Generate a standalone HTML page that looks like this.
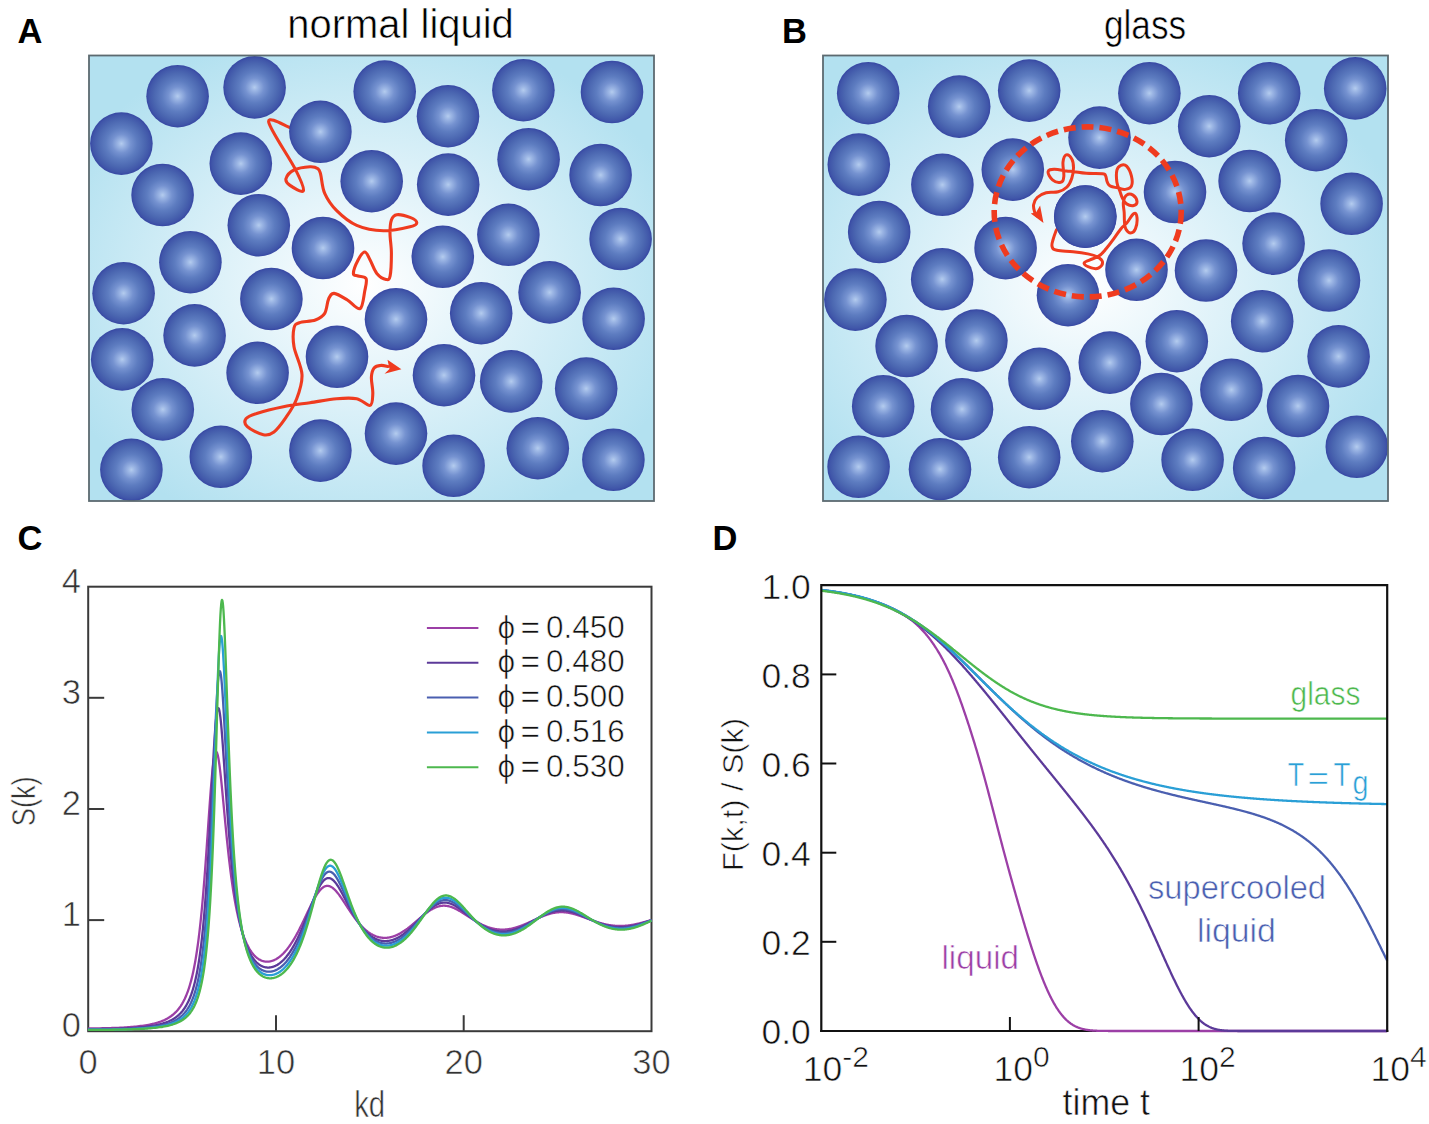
<!DOCTYPE html>
<html><head><meta charset="utf-8"><style>
html,body{margin:0;padding:0;background:#fff;}
body{width:1429px;height:1124px;overflow:hidden;font-family:"Liberation Sans",sans-serif;}
svg{display:block;}
text{stroke:#fff;stroke-width:0.6px;}
text[font-weight]{stroke:none;}
</style></head><body>
<svg width="1429" height="1124" viewBox="0 0 1429 1124" font-family="Liberation Sans, sans-serif">
<defs>
<radialGradient id="ball" cx="0.5" cy="0.5" r="0.5">
 <stop offset="0" stop-color="#b4ccee"/>
 <stop offset="0.1" stop-color="#9db7e5"/>
 <stop offset="0.3" stop-color="#7592d0"/>
 <stop offset="0.5" stop-color="#5d7cc0"/>
 <stop offset="0.75" stop-color="#4b67b1"/>
 <stop offset="0.92" stop-color="#4056a9"/>
 <stop offset="1" stop-color="#3747a3"/>
</radialGradient>
<radialGradient id="bgA" gradientUnits="userSpaceOnUse" cx="365" cy="285" r="330" gradientTransform="translate(365 285) scale(1 0.8) translate(-365 -285)">
 <stop offset="0" stop-color="#ffffff"/>
 <stop offset="0.35" stop-color="#e4f4fa"/>
 <stop offset="1" stop-color="#b3e1f0"/>
</radialGradient>
<radialGradient id="bgB" gradientUnits="userSpaceOnUse" cx="1085" cy="285" r="330" gradientTransform="translate(1085 285) scale(1 0.8) translate(-1085 -285)">
 <stop offset="0" stop-color="#ffffff"/>
 <stop offset="0.35" stop-color="#e4f4fa"/>
 <stop offset="1" stop-color="#b3e1f0"/>
</radialGradient>
<clipPath id="clipA"><rect x="89" y="55.5" width="565" height="445.5"/></clipPath>
<clipPath id="clipB"><rect x="823" y="55.5" width="565" height="445.5"/></clipPath>
</defs>
<rect width="1429" height="1124" fill="#fff"/>

<rect x="89" y="55.5" width="565" height="445.5" fill="url(#bgA)"/>
<g clip-path="url(#clipA)">
<path d="M289.4,127.4 C285.9,126.5 267.7,115.0 268.7,122.0 C269.7,129.0 289.6,158.0 295.4,169.4 C301.2,180.8 304.3,188.0 303.4,190.7 C302.5,193.4 292.9,187.4 290.0,185.4 C287.1,183.4 285.3,181.3 286.0,178.7 C286.7,176.1 290.0,172.0 294.0,170.0 C298.0,168.0 306.0,166.9 310.0,166.7 C314.0,166.5 316.2,167.4 318.0,168.7 C319.8,170.0 319.6,170.6 320.7,174.7 C321.8,178.8 322.0,187.4 324.7,193.4 C327.4,199.4 331.4,205.4 336.7,210.7 C342.0,216.0 348.9,222.1 356.7,225.4 C364.5,228.8 374.5,230.6 383.4,230.8 C392.3,231.0 404.4,228.2 410.0,226.8 C415.6,225.5 416.8,224.3 416.8,222.7 C416.8,221.1 413.3,218.7 410.0,217.4 C406.7,216.1 399.9,214.3 396.8,214.7 C393.7,215.1 392.5,216.9 391.4,220.0 C390.3,223.1 390.0,227.8 390.0,233.4 C390.0,239.0 391.4,246.2 391.4,253.3 C391.4,260.4 391.0,271.6 390.1,276.0 C389.2,280.4 388.3,279.8 386.1,279.4 C383.9,279.0 379.5,276.6 376.8,273.4 C374.1,270.2 372.1,263.6 370.1,260.0 C368.1,256.4 366.8,252.0 364.8,252.0 C362.8,252.0 360.0,256.4 358.1,260.0 C356.2,263.6 353.4,270.7 353.4,273.4 C353.4,276.1 356.0,275.1 358.1,276.0 C360.2,276.9 365.0,276.2 366.1,278.7 C367.2,281.1 365.8,285.7 364.8,290.7 C363.8,295.7 363.0,307.1 360.1,308.7 C357.2,310.2 351.7,302.6 347.4,300.0 C343.1,297.4 337.2,293.6 334.1,293.4 C331.0,293.2 330.3,295.4 328.7,298.7 C327.1,302.0 326.9,309.8 324.7,313.4 C322.5,316.9 319.6,318.4 315.4,320.0 C311.2,321.6 303.0,321.4 299.4,322.7 C295.8,324.0 294.9,324.0 294.0,328.0 C293.1,332.0 292.7,338.9 294.0,346.7 C295.3,354.5 301.6,366.0 302.0,374.7 C302.4,383.4 299.4,391.6 296.7,398.7 C294.0,405.8 289.8,411.8 286.0,417.4 C282.2,422.9 277.8,429.1 274.0,432.0 C270.2,434.9 267.8,435.6 263.4,434.7 C258.9,433.8 250.2,429.4 247.3,426.7 C244.4,424.0 244.4,420.9 246.0,418.7 C247.6,416.5 250.5,415.4 256.7,413.4 C262.9,411.4 274.5,408.5 283.4,406.7 C292.3,404.9 301.1,404.0 310.0,402.7 C318.9,401.4 328.9,399.4 336.7,398.7 C344.5,398.0 351.1,397.6 356.7,398.7 C362.3,399.8 367.4,406.3 370.1,405.4 C372.8,404.5 372.6,398.1 372.8,393.4 C373.0,388.7 371.2,381.6 371.4,377.4 C371.6,373.2 372.5,370.0 374.1,368.0 C375.7,366.0 378.5,365.6 380.8,365.4 C383.1,365.1 386.8,366.3 388.0,366.5" fill="none" stroke="#ef3b1f" stroke-width="3.1" stroke-linejoin="round" stroke-linecap="round"/>
<polygon points="401.4,369.3 387.5,359.8 389.5,369 384.5,373.8" fill="#ef3b1f"/>
<circle cx="177.6" cy="96.2" r="31.3" fill="url(#ball)"/>
<circle cx="254.6" cy="87.4" r="31.3" fill="url(#ball)"/>
<circle cx="121.4" cy="143.6" r="31.3" fill="url(#ball)"/>
<circle cx="162.6" cy="195" r="31.3" fill="url(#ball)"/>
<circle cx="240.8" cy="163.6" r="31.3" fill="url(#ball)"/>
<circle cx="320.4" cy="131.8" r="31.3" fill="url(#ball)"/>
<circle cx="258.8" cy="225.2" r="31.3" fill="url(#ball)"/>
<circle cx="323" cy="248" r="31.3" fill="url(#ball)"/>
<circle cx="190.4" cy="262.2" r="31.3" fill="url(#ball)"/>
<circle cx="384.7" cy="91.6" r="31.3" fill="url(#ball)"/>
<circle cx="448" cy="116.2" r="31.3" fill="url(#ball)"/>
<circle cx="523.4" cy="90.2" r="31.3" fill="url(#ball)"/>
<circle cx="612" cy="92" r="31.3" fill="url(#ball)"/>
<circle cx="371.7" cy="181.2" r="31.3" fill="url(#ball)"/>
<circle cx="448.2" cy="184.6" r="31.3" fill="url(#ball)"/>
<circle cx="528.6" cy="159.2" r="31.3" fill="url(#ball)"/>
<circle cx="600.6" cy="175" r="31.3" fill="url(#ball)"/>
<circle cx="442.8" cy="256.8" r="31.3" fill="url(#ball)"/>
<circle cx="508.4" cy="234.8" r="31.3" fill="url(#ball)"/>
<circle cx="620.6" cy="239" r="31.3" fill="url(#ball)"/>
<circle cx="549.6" cy="292.4" r="31.3" fill="url(#ball)"/>
<circle cx="123.6" cy="293.2" r="31.3" fill="url(#ball)"/>
<circle cx="271.4" cy="299" r="31.3" fill="url(#ball)"/>
<circle cx="194.6" cy="335.4" r="31.3" fill="url(#ball)"/>
<circle cx="122.2" cy="359.4" r="31.3" fill="url(#ball)"/>
<circle cx="257.6" cy="372.8" r="31.3" fill="url(#ball)"/>
<circle cx="337" cy="356.8" r="31.3" fill="url(#ball)"/>
<circle cx="162.8" cy="409.4" r="31.3" fill="url(#ball)"/>
<circle cx="131.4" cy="469.8" r="31.3" fill="url(#ball)"/>
<circle cx="220.8" cy="456.8" r="31.3" fill="url(#ball)"/>
<circle cx="320.4" cy="450.6" r="31.3" fill="url(#ball)"/>
<circle cx="396" cy="319.2" r="31.3" fill="url(#ball)"/>
<circle cx="481.2" cy="313.2" r="31.3" fill="url(#ball)"/>
<circle cx="613.6" cy="318.8" r="31.3" fill="url(#ball)"/>
<circle cx="444" cy="375.2" r="31.3" fill="url(#ball)"/>
<circle cx="511.2" cy="381.4" r="31.3" fill="url(#ball)"/>
<circle cx="586.2" cy="388.6" r="31.3" fill="url(#ball)"/>
<circle cx="396" cy="433.6" r="31.3" fill="url(#ball)"/>
<circle cx="453.6" cy="465.8" r="31.3" fill="url(#ball)"/>
<circle cx="537.8" cy="448.2" r="31.3" fill="url(#ball)"/>
<circle cx="613.4" cy="459.8" r="31.3" fill="url(#ball)"/>
</g>
<rect x="89" y="55.5" width="565" height="445.5" fill="none" stroke="#5c6a70" stroke-width="1.8"/>
<rect x="823" y="55.5" width="565" height="445.5" fill="url(#bgB)"/>
<g clip-path="url(#clipB)">
<circle cx="868.2" cy="93.2" r="31.3" fill="url(#ball)"/>
<circle cx="959.2" cy="106.6" r="31.3" fill="url(#ball)"/>
<circle cx="1029.2" cy="90.6" r="31.3" fill="url(#ball)"/>
<circle cx="1099.5" cy="137.6" r="31.3" fill="url(#ball)"/>
<circle cx="858.8" cy="164.6" r="31.3" fill="url(#ball)"/>
<circle cx="942.4" cy="184.8" r="31.3" fill="url(#ball)"/>
<circle cx="1012.8" cy="169.6" r="31.3" fill="url(#ball)"/>
<circle cx="879.2" cy="232" r="31.3" fill="url(#ball)"/>
<circle cx="1005.6" cy="248.1" r="31.3" fill="url(#ball)"/>
<circle cx="1085.3" cy="216.6" r="31.3" fill="url(#ball)"/>
<circle cx="942.2" cy="279.2" r="31.3" fill="url(#ball)"/>
<circle cx="1149.4" cy="93.2" r="31.3" fill="url(#ball)"/>
<circle cx="1209.2" cy="126.2" r="31.3" fill="url(#ball)"/>
<circle cx="1269.2" cy="93.2" r="31.3" fill="url(#ball)"/>
<circle cx="1355.2" cy="88.4" r="31.3" fill="url(#ball)"/>
<circle cx="1316.2" cy="140.2" r="31.3" fill="url(#ball)"/>
<circle cx="1175" cy="192" r="31.3" fill="url(#ball)"/>
<circle cx="1249.6" cy="181" r="31.3" fill="url(#ball)"/>
<circle cx="1351.6" cy="203.8" r="31.3" fill="url(#ball)"/>
<circle cx="1273.6" cy="243.6" r="31.3" fill="url(#ball)"/>
<circle cx="1136.5" cy="269.8" r="31.3" fill="url(#ball)"/>
<circle cx="1206" cy="270.5" r="31.3" fill="url(#ball)"/>
<circle cx="1329" cy="280.5" r="31.3" fill="url(#ball)"/>
<circle cx="855.4" cy="299.6" r="31.3" fill="url(#ball)"/>
<circle cx="1068" cy="295.2" r="31.3" fill="url(#ball)"/>
<circle cx="906.6" cy="346" r="31.3" fill="url(#ball)"/>
<circle cx="976.4" cy="340.6" r="31.3" fill="url(#ball)"/>
<circle cx="1039.4" cy="378.8" r="31.3" fill="url(#ball)"/>
<circle cx="1109.8" cy="362.6" r="31.3" fill="url(#ball)"/>
<circle cx="883.2" cy="406.2" r="31.3" fill="url(#ball)"/>
<circle cx="962" cy="409.2" r="31.3" fill="url(#ball)"/>
<circle cx="858.6" cy="466.8" r="31.3" fill="url(#ball)"/>
<circle cx="940" cy="469.2" r="31.3" fill="url(#ball)"/>
<circle cx="1029.2" cy="457.2" r="31.3" fill="url(#ball)"/>
<circle cx="1102.3" cy="441.2" r="31.3" fill="url(#ball)"/>
<circle cx="1262.2" cy="321.2" r="31.3" fill="url(#ball)"/>
<circle cx="1176.8" cy="341.2" r="31.3" fill="url(#ball)"/>
<circle cx="1338.6" cy="356.4" r="31.3" fill="url(#ball)"/>
<circle cx="1161.4" cy="404" r="31.3" fill="url(#ball)"/>
<circle cx="1231.4" cy="389.8" r="31.3" fill="url(#ball)"/>
<circle cx="1298" cy="406" r="31.3" fill="url(#ball)"/>
<circle cx="1192.6" cy="459.8" r="31.3" fill="url(#ball)"/>
<circle cx="1264.2" cy="468" r="31.3" fill="url(#ball)"/>
<circle cx="1356.8" cy="446.8" r="31.3" fill="url(#ball)"/>
<path d="M1056.5,229.7 C1055.8,231.6 1054.1,235.8 1053.2,239.2 C1052.3,242.6 1051.4,244.4 1052.1,246.6 C1052.8,248.8 1052.7,249.3 1056.9,250.3 C1061.1,251.3 1066.9,251.0 1073.1,251.7 C1079.3,252.4 1083.0,252.9 1087.8,253.9 C1092.6,254.9 1094.4,255.3 1097.3,256.9 C1100.2,258.5 1102.2,259.8 1102.5,262.0 C1102.8,264.2 1101.0,266.7 1098.8,267.9 C1096.6,269.1 1094.3,268.8 1091.4,267.9 C1088.5,267.0 1084.4,265.1 1084.1,263.5 C1083.8,261.9 1087.1,261.3 1090.0,259.8 C1092.9,258.3 1095.6,258.3 1098.8,256.1 C1102.0,253.9 1103.2,252.2 1106.1,248.8 C1109.0,245.4 1110.6,243.2 1113.5,239.2 C1116.4,235.2 1118.2,232.2 1120.8,229.0 C1123.4,225.8 1124.1,226.2 1126.7,223.1 C1129.3,220.0 1131.7,214.7 1133.8,213.6 C1135.9,212.5 1136.7,214.5 1137.0,217.6 C1137.3,220.7 1136.7,225.8 1135.4,228.9 C1134.1,232.0 1132.5,232.9 1130.6,232.9 C1128.7,232.9 1127.0,231.0 1125.8,228.9 C1124.6,226.8 1124.8,225.6 1124.5,222.4 C1124.2,219.2 1124.4,216.8 1124.2,212.8 C1124.0,208.8 1122.9,205.8 1123.4,202.3 C1123.9,198.8 1124.7,196.5 1126.6,195.1 C1128.5,193.7 1130.9,193.8 1133.0,195.1 C1135.1,196.4 1136.8,199.4 1137.0,201.5 C1137.2,203.6 1135.9,205.0 1133.8,205.5 C1131.7,206.0 1128.9,205.3 1126.6,203.9 C1124.3,202.5 1123.8,200.7 1122.5,198.3 C1121.2,195.9 1121.2,195.0 1120.1,191.8 C1119.0,188.6 1117.5,186.5 1116.9,182.2 C1116.3,177.9 1116.1,173.5 1116.9,170.1 C1117.7,166.7 1119.0,166.1 1120.9,165.3 C1122.8,164.5 1124.5,164.0 1126.6,166.1 C1128.7,168.2 1130.4,171.8 1131.4,175.8 C1132.4,179.8 1132.7,183.5 1131.4,186.2 C1130.1,188.9 1127.7,189.1 1125.0,189.4 C1122.3,189.7 1120.6,188.4 1117.7,187.8 C1114.8,187.2 1112.6,187.3 1110.5,186.2 C1108.4,185.1 1108.3,184.3 1107.3,182.2 C1106.3,180.1 1106.6,177.5 1105.6,175.8 C1104.6,174.1 1106.3,174.2 1102.4,173.7 C1098.5,173.2 1091.9,173.7 1086.3,173.3 C1080.7,172.9 1078.3,172.2 1074.3,171.7 C1070.3,171.2 1070.2,171.4 1066.2,170.9 C1062.2,170.4 1057.7,169.1 1054.1,169.3 C1050.5,169.5 1048.4,169.6 1048.1,171.7 C1047.8,173.8 1050.0,177.7 1052.5,179.8 C1055.0,181.9 1058.3,182.8 1060.6,182.2 C1062.9,181.6 1063.3,180.6 1063.8,176.6 C1064.3,172.6 1062.5,166.5 1063.0,162.1 C1063.5,157.7 1064.4,155.4 1066.2,154.8 C1068.0,154.2 1070.3,156.3 1071.8,158.9 C1073.3,161.5 1073.5,163.8 1073.5,167.7 C1073.5,171.6 1073.1,174.3 1071.8,178.2 C1070.5,182.1 1069.7,184.3 1067.0,187.0 C1064.3,189.7 1062.4,190.7 1058.2,191.8 C1054.0,192.9 1050.3,191.6 1046.1,192.7 C1041.9,193.8 1039.7,195.1 1037.2,197.5 C1034.7,199.9 1034.1,201.7 1033.6,204.7 C1033.1,207.7 1034.1,210.2 1034.8,212.5 C1035.5,214.8 1036.6,215.3 1037.0,216.0" fill="none" stroke="#ef3b1f" stroke-width="3" stroke-linejoin="round" stroke-linecap="round"/>
<polygon points="1043.5,223 1030.8,213.6 1036.2,212.2 1040.1,205.5" fill="#ef3b1f"/>
<circle cx="1085.3" cy="216.6" r="31.3" fill="url(#ball)"/>
<ellipse cx="1087.7" cy="211.9" rx="93.5" ry="85" fill="none" stroke="#ef3b1f" stroke-width="5.6" stroke-dasharray="12 6"/>
</g>
<rect x="823" y="55.5" width="565" height="445.5" fill="none" stroke="#5c6a70" stroke-width="1.8"/>
<text x="17.6" y="42.8" font-size="34.5" font-weight="bold" fill="#000">A</text>
<text x="782" y="42.5" font-size="34.5" font-weight="bold" fill="#000">B</text>
<text x="17.4" y="550.2" font-size="34.5" font-weight="bold" fill="#000">C</text>
<text x="712.6" y="550.2" font-size="34.5" font-weight="bold" fill="#000">D</text>
<text x="287.3" y="38.4" font-size="41" textLength="226.5" lengthAdjust="spacingAndGlyphs" fill="#000">normal liquid</text>
<text x="1103.9" y="38.9" font-size="41" textLength="82.3" lengthAdjust="spacingAndGlyphs" fill="#000">glass</text>
<rect x="88.2" y="586.7" width="563.3" height="444.5" fill="none" stroke="#3a3a3a" stroke-width="2"/>
<line x1="88.2" y1="920.1" x2="104.2" y2="920.1" stroke="#3a3a3a" stroke-width="2"/>
<line x1="88.2" y1="809.0" x2="104.2" y2="809.0" stroke="#3a3a3a" stroke-width="2"/>
<line x1="88.2" y1="697.8" x2="104.2" y2="697.8" stroke="#3a3a3a" stroke-width="2"/>
<line x1="276.0" y1="1031.2" x2="276.0" y2="1015.2" stroke="#3a3a3a" stroke-width="2"/>
<line x1="463.7" y1="1031.2" x2="463.7" y2="1015.2" stroke="#3a3a3a" stroke-width="2"/>
<path d="M88.22,1028.38 L89.81,1028.38 L91.40,1028.38 L92.99,1028.37 L94.58,1028.36 L96.17,1028.35 L97.76,1028.33 L99.36,1028.31 L100.95,1028.29 L102.54,1028.26 L104.13,1028.23 L105.72,1028.19 L107.31,1028.16 L108.90,1028.12 L110.49,1028.07 L112.08,1028.02 L113.67,1027.97 L115.26,1027.91 L116.86,1027.85 L118.45,1027.78 L120.04,1027.70 L121.63,1027.62 L123.22,1027.54 L124.81,1027.44 L126.40,1027.34 L127.99,1027.23 L129.58,1027.12 L131.17,1026.99 L132.76,1026.86 L134.36,1026.71 L135.95,1026.56 L137.54,1026.39 L139.13,1026.21 L140.72,1026.01 L142.31,1025.80 L143.90,1025.57 L145.49,1025.33 L147.08,1025.06 L148.67,1024.77 L150.26,1024.46 L151.86,1024.11 L153.45,1023.74 L155.04,1023.33 L156.63,1022.89 L158.22,1022.40 L159.81,1021.87 L161.40,1021.29 L162.99,1020.64 L164.58,1019.93 L166.17,1019.15 L167.77,1018.28 L169.36,1017.31 L170.95,1016.23 L172.54,1015.03 L174.13,1013.68 L175.72,1012.16 L177.31,1010.45 L178.90,1008.52 L180.49,1006.33 L182.08,1003.83 L182.46,1003.19 L182.85,1002.50 L183.24,1001.79 L183.63,1001.06 L184.02,1000.30 L184.41,999.51 L184.81,998.70 L185.20,997.85 L185.59,996.98 L185.98,996.08 L186.37,995.14 L186.76,994.17 L187.15,993.17 L187.54,992.13 L187.94,991.05 L188.33,989.93 L188.72,988.77 L189.11,987.57 L189.50,986.32 L189.89,985.03 L190.28,983.69 L190.67,982.29 L191.07,980.84 L191.46,979.34 L191.85,977.78 L192.24,976.16 L192.63,974.48 L193.02,972.73 L193.41,970.91 L193.80,969.02 L194.19,967.05 L194.59,965.01 L194.98,962.89 L195.37,960.69 L195.76,958.39 L196.15,956.01 L196.54,953.54 L196.93,950.96 L197.32,948.29 L197.72,945.51 L198.11,942.62 L198.50,939.62 L198.89,936.50 L199.28,933.27 L199.67,929.91 L200.06,926.43 L200.45,922.82 L200.84,919.08 L201.24,915.20 L201.63,911.20 L202.02,907.05 L202.41,902.77 L202.80,898.35 L203.19,893.79 L203.58,889.10 L203.97,884.28 L204.37,879.32 L204.76,874.25 L205.15,869.05 L205.54,863.75 L205.93,858.35 L206.32,852.85 L206.71,847.29 L207.10,841.66 L207.50,835.99 L207.89,830.29 L208.28,824.60 L208.67,818.92 L209.06,813.29 L209.45,807.73 L209.84,802.28 L210.23,796.96 L210.62,791.79 L211.02,786.82 L211.41,782.08 L211.80,777.58 L212.19,773.38 L212.58,769.48 L212.97,765.93 L213.36,762.73 L213.75,759.92 L214.15,757.52 L214.54,755.52 L214.93,753.96 L215.32,752.82 L215.71,752.12 L216.10,751.84 L216.49,751.99 L216.88,752.54 L217.28,753.50 L217.67,754.84 L218.06,756.53 L218.45,758.56 L218.84,760.91 L219.23,763.55 L219.62,766.45 L220.01,769.58 L220.40,772.92 L220.80,776.45 L221.19,780.13 L221.58,783.94 L221.97,787.87 L222.36,791.88 L222.75,795.95 L223.14,800.07 L223.53,804.23 L223.93,808.39 L224.32,812.55 L224.71,816.69 L225.10,820.81 L225.49,824.89 L225.88,828.93 L226.27,832.91 L226.66,836.82 L227.05,840.67 L227.45,844.45 L227.84,848.15 L228.23,851.78 L228.62,855.32 L229.01,858.78 L229.40,862.16 L229.79,865.45 L230.18,868.65 L230.58,871.77 L230.97,874.80 L231.36,877.75 L231.75,880.62 L232.14,883.40 L232.53,886.11 L232.92,888.73 L233.31,891.28 L233.71,893.75 L234.10,896.14 L234.49,898.46 L234.88,900.72 L235.27,902.90 L235.66,905.01 L236.05,907.06 L236.44,909.05 L236.83,910.97 L237.23,912.83 L237.62,914.63 L238.01,916.38 L238.40,918.07 L238.79,919.71 L239.18,921.30 L239.57,922.84 L239.96,924.33 L240.36,925.77 L240.75,927.16 L241.14,928.51 L241.53,929.82 L241.92,931.09 L242.31,932.31 L242.70,933.50 L243.09,934.65 L243.49,935.76 L243.88,936.84 L244.27,937.88 L244.66,938.89 L245.05,939.87 L245.44,940.81 L245.83,941.73 L246.22,942.61 L246.61,943.47 L247.01,944.29 L247.40,945.09 L247.79,945.87 L248.18,946.62 L248.57,947.34 L248.96,948.04 L249.35,948.71 L249.74,949.37 L250.14,950.00 L250.53,950.60 L250.92,951.19 L251.31,951.76 L251.70,952.30 L252.09,952.83 L252.48,953.34 L252.87,953.83 L253.26,954.30 L253.66,954.75 L254.05,955.18 L254.44,955.60 L254.83,956.00 L255.22,956.39 L255.61,956.76 L256.00,957.11 L256.39,957.45 L256.79,957.77 L257.18,958.08 L257.57,958.37 L257.96,958.65 L258.35,958.92 L258.74,959.17 L259.13,959.41 L259.52,959.64 L259.92,959.85 L260.31,960.05 L260.70,960.24 L261.09,960.42 L261.48,960.58 L261.87,960.73 L262.26,960.87 L262.65,961.00 L263.04,961.11 L263.44,961.22 L263.83,961.31 L264.22,961.40 L264.61,961.47 L265.00,961.53 L265.39,961.58 L265.78,961.62 L266.17,961.65 L266.57,961.67 L266.96,961.68 L267.35,961.68 L267.74,961.67 L268.13,961.65 L268.52,961.61 L268.91,961.57 L269.30,961.52 L269.70,961.46 L270.09,961.39 L270.48,961.31 L270.87,961.22 L271.26,961.12 L271.65,961.01 L272.04,960.89 L272.43,960.77 L272.82,960.63 L273.22,960.48 L273.61,960.32 L274.00,960.16 L274.39,959.98 L274.78,959.80 L275.17,959.60 L275.56,959.40 L275.95,959.19 L276.35,958.97 L276.74,958.73 L277.13,958.49 L277.52,958.24 L277.91,957.98 L278.30,957.71 L278.69,957.44 L279.08,957.15 L279.47,956.85 L279.87,956.54 L280.26,956.23 L280.65,955.90 L281.04,955.57 L281.43,955.22 L281.82,954.87 L282.21,954.50 L282.60,954.13 L283.00,953.75 L283.39,953.36 L283.78,952.96 L284.17,952.54 L284.56,952.12 L284.95,951.69 L285.34,951.25 L285.73,950.80 L286.13,950.34 L286.52,949.87 L286.91,949.40 L287.30,948.91 L287.69,948.41 L288.08,947.90 L288.47,947.38 L288.86,946.86 L289.25,946.32 L289.65,945.77 L290.04,945.22 L290.43,944.65 L290.82,944.08 L291.21,943.49 L291.60,942.90 L291.99,942.30 L292.38,941.68 L292.78,941.06 L293.17,940.43 L293.56,939.79 L293.95,939.14 L294.34,938.48 L294.73,937.81 L295.12,937.14 L295.51,936.45 L295.91,935.76 L296.30,935.06 L296.69,934.35 L297.08,933.63 L297.47,932.90 L297.86,932.17 L298.25,931.43 L298.64,930.68 L299.03,929.93 L299.43,929.16 L299.82,928.39 L300.21,927.62 L300.60,926.84 L300.99,926.05 L301.38,925.25 L301.77,924.46 L302.16,923.65 L302.56,922.84 L302.95,922.03 L303.34,921.22 L303.73,920.40 L304.12,919.57 L304.51,918.75 L304.90,917.92 L305.29,917.09 L305.68,916.26 L306.08,915.43 L306.47,914.60 L306.86,913.77 L307.25,912.94 L307.64,912.11 L308.03,911.28 L308.42,910.45 L308.81,909.63 L309.21,908.81 L309.60,908.00 L309.99,907.19 L310.38,906.39 L310.77,905.59 L311.16,904.80 L311.55,904.02 L311.94,903.24 L312.34,902.48 L312.73,901.72 L313.12,900.98 L313.51,900.24 L313.90,899.52 L314.29,898.81 L314.68,898.11 L315.07,897.42 L315.46,896.75 L315.86,896.10 L316.25,895.46 L316.64,894.83 L317.03,894.22 L317.42,893.64 L317.81,893.06 L318.20,892.51 L318.59,891.98 L318.99,891.46 L319.38,890.97 L319.77,890.50 L320.16,890.04 L320.55,889.61 L320.94,889.20 L321.33,888.82 L321.72,888.46 L322.11,888.12 L322.51,887.80 L322.90,887.51 L323.29,887.24 L323.68,886.99 L324.07,886.77 L324.46,886.57 L324.85,886.40 L325.24,886.26 L325.64,886.13 L326.03,886.03 L326.42,885.96 L326.81,885.91 L327.20,885.89 L327.59,885.88 L327.98,885.91 L328.37,885.95 L328.77,886.02 L329.16,886.12 L329.55,886.23 L329.94,886.37 L330.33,886.53 L330.72,886.71 L331.11,886.92 L331.50,887.14 L331.89,887.39 L332.29,887.65 L332.68,887.93 L333.07,888.24 L333.46,888.56 L333.85,888.90 L334.24,889.25 L334.63,889.63 L335.02,890.02 L335.42,890.42 L335.81,890.84 L336.20,891.27 L336.59,891.72 L336.98,892.18 L337.37,892.66 L337.76,893.14 L338.15,893.64 L338.55,894.14 L338.94,894.66 L339.33,895.19 L339.72,895.72 L340.11,896.26 L340.50,896.81 L340.89,897.37 L341.28,897.94 L341.67,898.51 L342.07,899.08 L342.46,899.66 L342.85,900.25 L343.24,900.84 L343.63,901.43 L344.02,902.02 L344.41,902.62 L344.80,903.22 L345.20,903.82 L345.59,904.42 L345.98,905.02 L346.37,905.62 L346.76,906.22 L347.15,906.83 L347.54,907.43 L347.93,908.02 L348.32,908.62 L348.72,909.22 L349.11,909.81 L349.50,910.40 L349.89,910.99 L350.28,911.57 L350.67,912.15 L351.06,912.73 L351.45,913.30 L351.85,913.87 L352.24,914.43 L352.63,914.99 L353.02,915.54 L353.41,916.09 L353.80,916.63 L354.19,917.17 L354.58,917.70 L354.98,918.23 L355.37,918.75 L355.76,919.27 L356.15,919.78 L356.54,920.28 L356.93,920.77 L357.32,921.26 L357.71,921.75 L358.10,922.22 L358.50,922.69 L358.89,923.15 L359.28,923.61 L359.67,924.06 L360.06,924.50 L360.45,924.94 L360.84,925.36 L361.23,925.78 L361.63,926.20 L362.02,926.60 L362.41,927.00 L362.80,927.39 L363.19,927.78 L363.58,928.15 L363.97,928.52 L364.36,928.88 L364.76,929.24 L365.15,929.59 L365.54,929.93 L365.93,930.26 L366.32,930.58 L366.71,930.90 L367.10,931.21 L367.49,931.51 L367.88,931.81 L368.28,932.10 L368.67,932.38 L369.06,932.65 L369.45,932.92 L369.84,933.18 L370.23,933.43 L370.62,933.67 L371.01,933.91 L371.41,934.14 L371.80,934.36 L372.19,934.58 L372.58,934.79 L372.97,934.99 L373.36,935.18 L373.75,935.37 L374.14,935.55 L374.53,935.72 L374.93,935.89 L375.32,936.05 L375.71,936.20 L376.10,936.35 L376.49,936.49 L376.88,936.62 L377.27,936.74 L377.66,936.86 L378.06,936.97 L378.45,937.08 L378.84,937.18 L379.23,937.27 L379.62,937.35 L380.01,937.43 L380.40,937.50 L380.79,937.57 L381.19,937.63 L381.58,937.68 L381.97,937.72 L382.36,937.76 L382.75,937.80 L383.14,937.82 L383.53,937.84 L383.92,937.86 L384.31,937.87 L384.71,937.87 L385.10,937.86 L385.49,937.85 L385.88,937.84 L386.27,937.81 L386.66,937.78 L387.05,937.75 L387.44,937.71 L387.84,937.66 L388.23,937.61 L388.62,937.55 L389.01,937.49 L389.40,937.42 L389.79,937.34 L390.18,937.26 L390.57,937.17 L390.97,937.08 L391.36,936.98 L391.75,936.87 L392.14,936.76 L392.53,936.65 L392.92,936.53 L393.31,936.40 L393.70,936.27 L394.09,936.13 L394.49,935.99 L394.88,935.84 L395.27,935.68 L395.66,935.53 L396.05,935.36 L396.44,935.19 L396.83,935.02 L397.22,934.84 L397.62,934.65 L398.01,934.46 L398.40,934.27 L398.79,934.07 L399.18,933.87 L399.57,933.66 L399.96,933.45 L400.35,933.23 L400.74,933.01 L401.14,932.78 L401.53,932.55 L401.92,932.31 L402.31,932.07 L402.70,931.83 L403.09,931.58 L403.48,931.32 L403.87,931.07 L404.27,930.81 L404.66,930.54 L405.05,930.27 L405.44,930.00 L405.83,929.72 L406.22,929.45 L406.61,929.16 L407.00,928.88 L407.40,928.59 L407.79,928.29 L408.18,928.00 L408.57,927.70 L408.96,927.39 L409.35,927.09 L409.74,926.78 L410.13,926.47 L410.52,926.16 L410.92,925.84 L411.31,925.53 L411.70,925.21 L412.09,924.88 L412.48,924.56 L412.87,924.23 L413.26,923.91 L413.65,923.58 L414.05,923.25 L414.44,922.92 L414.83,922.58 L415.22,922.25 L415.61,921.91 L416.00,921.58 L416.39,921.24 L416.78,920.91 L417.18,920.57 L417.57,920.23 L417.96,919.90 L418.35,919.56 L418.74,919.22 L419.13,918.89 L419.52,918.55 L419.91,918.22 L420.30,917.89 L420.70,917.55 L421.09,917.22 L421.48,916.89 L421.87,916.57 L422.26,916.24 L422.65,915.92 L423.04,915.59 L423.43,915.27 L423.83,914.96 L424.22,914.64 L424.61,914.33 L425.00,914.02 L425.39,913.72 L425.78,913.42 L426.17,913.12 L426.56,912.82 L426.95,912.53 L427.35,912.25 L427.74,911.97 L428.13,911.69 L428.52,911.42 L428.91,911.15 L429.30,910.88 L429.69,910.62 L430.08,910.37 L430.48,910.12 L430.87,909.88 L431.26,909.64 L431.65,909.41 L432.04,909.19 L432.43,908.97 L432.82,908.76 L433.21,908.55 L433.61,908.35 L434.00,908.16 L434.39,907.97 L434.78,907.79 L435.17,907.62 L435.56,907.45 L435.95,907.29 L436.34,907.14 L436.73,907.00 L437.13,906.86 L437.52,906.73 L437.91,906.61 L438.30,906.49 L438.69,906.39 L439.08,906.29 L439.47,906.20 L439.86,906.11 L440.26,906.04 L440.65,905.97 L441.04,905.91 L441.43,905.85 L441.82,905.81 L442.21,905.77 L442.60,905.74 L442.99,905.72 L443.39,905.71 L443.78,905.70 L444.17,905.70 L444.56,905.71 L444.95,905.73 L445.34,905.76 L445.73,905.79 L446.12,905.83 L446.51,905.88 L446.91,905.93 L447.30,905.99 L447.69,906.06 L448.08,906.14 L448.47,906.22 L448.86,906.31 L449.25,906.41 L449.64,906.51 L450.04,906.62 L450.43,906.74 L450.82,906.86 L451.21,906.99 L451.60,907.12 L451.99,907.26 L452.38,907.41 L452.77,907.56 L453.16,907.72 L453.56,907.88 L453.95,908.05 L454.34,908.23 L454.73,908.41 L455.12,908.59 L455.51,908.78 L455.90,908.97 L456.29,909.17 L456.69,909.37 L457.08,909.57 L457.47,909.78 L457.86,910.00 L458.25,910.21 L458.64,910.43 L459.03,910.66 L459.42,910.88 L459.82,911.11 L460.21,911.34 L460.60,911.58 L460.99,911.82 L461.38,912.06 L461.77,912.30 L462.16,912.54 L462.55,912.79 L462.94,913.04 L463.34,913.29 L463.73,913.54 L464.12,913.79 L464.51,914.04 L464.90,914.29 L465.29,914.55 L465.68,914.81 L466.07,915.06 L466.47,915.32 L466.86,915.57 L467.25,915.83 L467.64,916.09 L468.03,916.35 L468.42,916.60 L468.81,916.86 L469.20,917.12 L469.59,917.37 L469.99,917.63 L470.38,917.88 L470.77,918.13 L471.16,918.38 L471.55,918.64 L471.94,918.89 L472.33,919.13 L472.72,919.38 L473.12,919.63 L473.51,919.87 L473.90,920.11 L474.29,920.35 L474.68,920.59 L475.07,920.83 L475.46,921.06 L475.85,921.30 L476.25,921.53 L476.64,921.75 L477.03,921.98 L477.42,922.20 L477.81,922.42 L478.20,922.64 L478.59,922.86 L478.98,923.07 L479.37,923.28 L479.77,923.49 L480.16,923.69 L480.55,923.89 L480.94,924.09 L481.33,924.29 L481.72,924.48 L482.11,924.67 L482.50,924.86 L482.90,925.04 L483.29,925.22 L483.68,925.40 L484.07,925.57 L484.46,925.74 L484.85,925.91 L485.24,926.07 L485.63,926.23 L486.03,926.39 L486.42,926.54 L486.81,926.69 L487.20,926.83 L487.59,926.98 L487.98,927.12 L488.37,927.25 L488.76,927.38 L489.15,927.51 L489.55,927.63 L489.94,927.75 L490.33,927.87 L490.72,927.98 L491.11,928.09 L491.50,928.20 L491.89,928.30 L492.28,928.40 L492.68,928.49 L493.07,928.58 L493.46,928.67 L493.85,928.75 L494.24,928.83 L494.63,928.91 L495.02,928.98 L495.41,929.04 L495.80,929.11 L496.20,929.17 L496.59,929.22 L496.98,929.28 L497.37,929.33 L497.76,929.37 L498.15,929.41 L498.54,929.45 L498.93,929.48 L499.33,929.51 L499.72,929.54 L500.11,929.56 L500.50,929.58 L500.89,929.59 L501.28,929.60 L501.67,929.61 L502.06,929.61 L502.46,929.61 L502.85,929.61 L503.24,929.60 L503.63,929.59 L504.02,929.57 L504.41,929.56 L504.80,929.53 L505.19,929.51 L505.58,929.48 L505.98,929.45 L506.37,929.41 L506.76,929.37 L507.15,929.33 L507.54,929.28 L507.93,929.23 L508.32,929.18 L508.71,929.12 L509.11,929.06 L509.50,928.99 L509.89,928.93 L510.28,928.86 L510.67,928.78 L511.06,928.71 L511.45,928.63 L511.84,928.54 L512.24,928.46 L512.63,928.37 L513.02,928.28 L513.41,928.18 L513.80,928.08 L514.19,927.98 L514.58,927.88 L514.97,927.77 L515.36,927.66 L515.76,927.55 L516.15,927.43 L516.54,927.31 L516.93,927.19 L517.32,927.07 L517.71,926.94 L518.10,926.81 L518.49,926.68 L518.89,926.55 L519.28,926.41 L519.67,926.27 L520.06,926.13 L520.45,925.99 L520.84,925.84 L521.23,925.70 L521.62,925.55 L522.01,925.40 L522.41,925.24 L522.80,925.09 L523.19,924.93 L523.58,924.77 L523.97,924.61 L524.36,924.45 L524.75,924.29 L525.14,924.12 L525.54,923.95 L525.93,923.78 L526.32,923.61 L526.71,923.44 L527.10,923.27 L527.49,923.10 L527.88,922.92 L528.27,922.75 L528.67,922.57 L529.06,922.39 L529.45,922.22 L529.84,922.04 L530.23,921.86 L530.62,921.68 L531.01,921.50 L531.40,921.32 L531.79,921.13 L532.19,920.95 L532.58,920.77 L532.97,920.59 L533.36,920.41 L533.75,920.23 L534.14,920.04 L534.53,919.86 L534.92,919.68 L535.32,919.50 L535.71,919.32 L536.10,919.14 L536.49,918.96 L536.88,918.78 L537.27,918.60 L537.66,918.43 L538.05,918.25 L538.45,918.08 L538.84,917.90 L539.23,917.73 L539.62,917.56 L540.01,917.39 L540.40,917.22 L540.79,917.05 L541.18,916.89 L541.57,916.72 L541.97,916.56 L542.36,916.40 L542.75,916.24 L543.14,916.09 L543.53,915.93 L543.92,915.78 L544.31,915.63 L544.70,915.49 L545.10,915.34 L545.49,915.20 L545.88,915.06 L546.27,914.92 L546.66,914.79 L547.05,914.65 L547.44,914.53 L547.83,914.40 L548.22,914.28 L548.62,914.16 L549.01,914.04 L549.40,913.92 L549.79,913.81 L550.18,913.71 L550.57,913.60 L550.96,913.50 L551.35,913.40 L551.75,913.31 L552.14,913.22 L552.53,913.13 L552.92,913.05 L553.31,912.97 L553.70,912.89 L554.09,912.82 L554.48,912.75 L554.88,912.68 L555.27,912.62 L555.66,912.56 L556.05,912.51 L556.44,912.46 L556.83,912.41 L557.22,912.37 L557.61,912.33 L558.00,912.30 L558.40,912.27 L558.79,912.24 L559.18,912.22 L559.57,912.20 L559.96,912.18 L560.35,912.17 L560.74,912.16 L561.13,912.16 L561.53,912.16 L561.92,912.16 L562.31,912.17 L562.70,912.18 L563.09,912.20 L563.48,912.22 L563.87,912.24 L564.26,912.27 L564.66,912.30 L565.05,912.33 L565.44,912.37 L565.83,912.41 L566.22,912.46 L566.61,912.51 L567.00,912.56 L567.39,912.62 L567.78,912.67 L568.18,912.74 L568.57,912.80 L568.96,912.87 L569.35,912.94 L569.74,913.02 L570.13,913.10 L570.52,913.18 L570.91,913.26 L571.31,913.35 L571.70,913.44 L572.09,913.53 L572.48,913.63 L572.87,913.73 L573.26,913.83 L573.65,913.93 L574.04,914.03 L574.43,914.14 L574.83,914.25 L575.22,914.37 L575.61,914.48 L576.00,914.60 L576.39,914.72 L576.78,914.84 L577.17,914.96 L577.56,915.08 L577.96,915.21 L578.35,915.34 L578.74,915.47 L579.13,915.60 L579.52,915.73 L579.91,915.86 L580.30,916.00 L580.69,916.14 L581.09,916.27 L581.48,916.41 L581.87,916.55 L582.26,916.69 L582.65,916.83 L583.04,916.97 L583.43,917.12 L583.82,917.26 L584.21,917.40 L584.61,917.55 L585.00,917.69 L585.39,917.84 L585.78,917.98 L586.17,918.13 L586.56,918.27 L586.95,918.42 L587.34,918.57 L587.74,918.71 L588.13,918.86 L588.52,919.00 L588.91,919.15 L589.30,919.29 L589.69,919.44 L590.08,919.58 L590.47,919.72 L590.86,919.87 L591.26,920.01 L591.65,920.15 L592.04,920.29 L592.43,920.43 L592.82,920.57 L593.21,920.71 L593.60,920.85 L593.99,920.98 L594.39,921.12 L594.78,921.25 L595.17,921.39 L595.56,921.52 L595.95,921.65 L596.34,921.78 L596.73,921.90 L597.12,922.03 L597.52,922.16 L597.91,922.28 L598.30,922.40 L598.69,922.52 L599.08,922.64 L599.47,922.76 L599.86,922.87 L600.25,922.99 L600.64,923.10 L601.04,923.21 L601.43,923.32 L601.82,923.42 L602.21,923.53 L602.60,923.63 L602.99,923.73 L603.38,923.83 L603.77,923.93 L604.17,924.02 L604.56,924.12 L604.95,924.21 L605.34,924.30 L605.73,924.38 L606.12,924.47 L606.51,924.55 L606.90,924.63 L607.30,924.71 L607.69,924.78 L608.08,924.86 L608.47,924.93 L608.86,925.00 L609.25,925.06 L609.64,925.13 L610.03,925.19 L610.42,925.25 L610.82,925.31 L611.21,925.36 L611.60,925.41 L611.99,925.46 L612.38,925.51 L612.77,925.56 L613.16,925.60 L613.55,925.64 L613.95,925.68 L614.34,925.72 L614.73,925.75 L615.12,925.78 L615.51,925.81 L615.90,925.83 L616.29,925.86 L616.68,925.88 L617.07,925.90 L617.47,925.92 L617.86,925.93 L618.25,925.94 L618.64,925.95 L619.03,925.96 L619.42,925.96 L619.81,925.96 L620.20,925.96 L620.60,925.96 L620.99,925.96 L621.38,925.95 L621.77,925.94 L622.16,925.93 L622.55,925.91 L622.94,925.90 L623.33,925.88 L623.73,925.86 L624.12,925.83 L624.51,925.81 L624.90,925.78 L625.29,925.75 L625.68,925.72 L626.07,925.68 L626.46,925.64 L626.85,925.61 L627.25,925.56 L627.64,925.52 L628.03,925.48 L628.42,925.43 L628.81,925.38 L629.20,925.33 L629.59,925.27 L629.98,925.22 L630.38,925.16 L630.77,925.10 L631.16,925.04 L631.55,924.97 L631.94,924.91 L632.33,924.84 L632.72,924.77 L633.11,924.70 L633.51,924.63 L633.90,924.55 L634.29,924.48 L634.68,924.40 L635.07,924.32 L635.46,924.24 L635.85,924.16 L636.24,924.07 L636.63,923.99 L637.03,923.90 L637.42,923.81 L637.81,923.72 L638.20,923.63 L638.59,923.53 L638.98,923.44 L639.37,923.34 L639.76,923.25 L640.16,923.15 L640.55,923.05 L640.94,922.95 L641.33,922.85 L641.72,922.75 L642.11,922.64 L642.50,922.54 L642.89,922.43 L643.28,922.33 L643.68,922.22 L644.07,922.11 L644.46,922.01 L644.85,921.90 L645.24,921.79 L645.63,921.68 L646.02,921.57 L646.41,921.46 L646.81,921.34 L647.20,921.23 L647.59,921.12 L647.98,921.01 L648.37,920.89 L648.76,920.78 L649.15,920.67 L649.54,920.55 L649.94,920.44 L650.33,920.33 L650.72,920.21 L651.11,920.10 L651.50,919.99" fill="none" stroke="#9c3fa6" stroke-width="2.3" stroke-linejoin="round"/>
<path d="M88.22,1029.08 L89.81,1029.08 L91.40,1029.08 L92.99,1029.07 L94.58,1029.07 L96.17,1029.06 L97.76,1029.04 L99.36,1029.03 L100.95,1029.01 L102.54,1028.99 L104.13,1028.97 L105.72,1028.95 L107.31,1028.92 L108.90,1028.89 L110.49,1028.85 L112.08,1028.82 L113.67,1028.78 L115.26,1028.73 L116.86,1028.69 L118.45,1028.64 L120.04,1028.58 L121.63,1028.52 L123.22,1028.46 L124.81,1028.39 L126.40,1028.32 L127.99,1028.24 L129.58,1028.15 L131.17,1028.06 L132.76,1027.96 L134.36,1027.86 L135.95,1027.74 L137.54,1027.62 L139.13,1027.49 L140.72,1027.35 L142.31,1027.19 L143.90,1027.03 L145.49,1026.85 L147.08,1026.65 L148.67,1026.44 L150.26,1026.21 L151.86,1025.96 L153.45,1025.69 L155.04,1025.40 L156.63,1025.08 L158.22,1024.73 L159.81,1024.34 L161.40,1023.92 L162.99,1023.46 L164.58,1022.95 L166.17,1022.38 L167.77,1021.76 L169.36,1021.07 L170.95,1020.29 L172.54,1019.43 L174.13,1018.47 L175.72,1017.39 L177.31,1016.17 L178.90,1014.79 L180.49,1013.23 L182.08,1011.44 L182.46,1010.99 L182.85,1010.50 L183.24,1009.99 L183.63,1009.46 L184.02,1008.92 L184.41,1008.36 L184.81,1007.77 L185.20,1007.17 L185.59,1006.55 L185.98,1005.90 L186.37,1005.23 L186.76,1004.53 L187.15,1003.81 L187.54,1003.07 L187.94,1002.29 L188.33,1001.49 L188.72,1000.65 L189.11,999.78 L189.50,998.88 L189.89,997.94 L190.28,996.97 L190.67,995.96 L191.07,994.91 L191.46,993.81 L191.85,992.67 L192.24,991.49 L192.63,990.25 L193.02,988.97 L193.41,987.63 L193.80,986.23 L194.19,984.78 L194.59,983.26 L194.98,981.67 L195.37,980.02 L195.76,978.30 L196.15,976.50 L196.54,974.62 L196.93,972.66 L197.32,970.60 L197.72,968.46 L198.11,966.22 L198.50,963.88 L198.89,961.43 L199.28,958.87 L199.67,956.19 L200.06,953.39 L200.45,950.46 L200.84,947.39 L201.24,944.19 L201.63,940.83 L202.02,937.32 L202.41,933.65 L202.80,929.81 L203.19,925.80 L203.58,921.61 L203.97,917.23 L204.37,912.65 L204.76,907.88 L205.15,902.90 L205.54,897.71 L205.93,892.31 L206.32,886.69 L206.71,880.85 L207.10,874.80 L207.50,868.53 L207.89,862.05 L208.28,855.36 L208.67,848.47 L209.06,841.40 L209.45,834.15 L209.84,826.76 L210.23,819.23 L210.62,811.60 L211.02,803.90 L211.41,796.17 L211.80,788.44 L212.19,780.77 L212.58,773.20 L212.97,765.78 L213.36,758.57 L213.75,751.62 L214.15,745.01 L214.54,738.78 L214.93,732.99 L215.32,727.70 L215.71,722.96 L216.10,718.82 L216.49,715.31 L216.88,712.47 L217.28,710.32 L217.67,708.86 L218.06,708.11 L218.45,708.06 L218.84,708.68 L219.23,709.97 L219.62,711.89 L220.01,714.39 L220.40,717.44 L220.80,720.99 L221.19,724.99 L221.58,729.39 L221.97,734.14 L222.36,739.18 L222.75,744.47 L223.14,749.97 L223.53,755.61 L223.93,761.37 L224.32,767.20 L224.71,773.08 L225.10,778.97 L225.49,784.84 L225.88,790.66 L226.27,796.43 L226.66,802.12 L227.05,807.71 L227.45,813.19 L227.84,818.56 L228.23,823.80 L228.62,828.91 L229.01,833.88 L229.40,838.72 L229.79,843.41 L230.18,847.96 L230.58,852.37 L230.97,856.64 L231.36,860.77 L231.75,864.76 L232.14,868.61 L232.53,872.34 L232.92,875.93 L233.31,879.40 L233.71,882.75 L234.10,885.98 L234.49,889.09 L234.88,892.10 L235.27,894.99 L235.66,897.78 L236.05,900.47 L236.44,903.06 L236.83,905.56 L237.23,907.97 L237.62,910.29 L238.01,912.53 L238.40,914.69 L238.79,916.77 L239.18,918.77 L239.57,920.71 L239.96,922.57 L240.36,924.37 L240.75,926.11 L241.14,927.78 L241.53,929.39 L241.92,930.95 L242.31,932.45 L242.70,933.90 L243.09,935.30 L243.49,936.65 L243.88,937.95 L244.27,939.20 L244.66,940.42 L245.05,941.58 L245.44,942.71 L245.83,943.80 L246.22,944.86 L246.61,945.87 L247.01,946.85 L247.40,947.80 L247.79,948.71 L248.18,949.59 L248.57,950.44 L248.96,951.26 L249.35,952.05 L249.74,952.81 L250.14,953.55 L250.53,954.26 L250.92,954.94 L251.31,955.60 L251.70,956.24 L252.09,956.85 L252.48,957.44 L252.87,958.00 L253.26,958.55 L253.66,959.08 L254.05,959.58 L254.44,960.07 L254.83,960.53 L255.22,960.98 L255.61,961.41 L256.00,961.82 L256.39,962.22 L256.79,962.59 L257.18,962.96 L257.57,963.30 L257.96,963.63 L258.35,963.95 L258.74,964.24 L259.13,964.53 L259.52,964.80 L259.92,965.06 L260.31,965.30 L260.70,965.53 L261.09,965.74 L261.48,965.94 L261.87,966.13 L262.26,966.31 L262.65,966.47 L263.04,966.62 L263.44,966.76 L263.83,966.89 L264.22,967.01 L264.61,967.11 L265.00,967.21 L265.39,967.29 L265.78,967.36 L266.17,967.42 L266.57,967.47 L266.96,967.50 L267.35,967.53 L267.74,967.55 L268.13,967.55 L268.52,967.55 L268.91,967.54 L269.30,967.51 L269.70,967.48 L270.09,967.43 L270.48,967.37 L270.87,967.31 L271.26,967.23 L271.65,967.15 L272.04,967.05 L272.43,966.95 L272.82,966.83 L273.22,966.71 L273.61,966.57 L274.00,966.43 L274.39,966.27 L274.78,966.11 L275.17,965.94 L275.56,965.75 L275.95,965.56 L276.35,965.36 L276.74,965.14 L277.13,964.92 L277.52,964.69 L277.91,964.44 L278.30,964.19 L278.69,963.93 L279.08,963.66 L279.47,963.37 L279.87,963.08 L280.26,962.78 L280.65,962.47 L281.04,962.14 L281.43,961.81 L281.82,961.47 L282.21,961.11 L282.60,960.75 L283.00,960.37 L283.39,959.99 L283.78,959.59 L284.17,959.19 L284.56,958.77 L284.95,958.34 L285.34,957.90 L285.73,957.45 L286.13,956.99 L286.52,956.52 L286.91,956.04 L287.30,955.55 L287.69,955.04 L288.08,954.53 L288.47,954.00 L288.86,953.46 L289.25,952.91 L289.65,952.35 L290.04,951.78 L290.43,951.20 L290.82,950.60 L291.21,950.00 L291.60,949.38 L291.99,948.75 L292.38,948.11 L292.78,947.45 L293.17,946.79 L293.56,946.11 L293.95,945.42 L294.34,944.72 L294.73,944.01 L295.12,943.28 L295.51,942.55 L295.91,941.80 L296.30,941.04 L296.69,940.27 L297.08,939.49 L297.47,938.70 L297.86,937.89 L298.25,937.08 L298.64,936.25 L299.03,935.41 L299.43,934.57 L299.82,933.71 L300.21,932.84 L300.60,931.96 L300.99,931.07 L301.38,930.17 L301.77,929.26 L302.16,928.34 L302.56,927.41 L302.95,926.48 L303.34,925.53 L303.73,924.58 L304.12,923.62 L304.51,922.65 L304.90,921.67 L305.29,920.69 L305.68,919.70 L306.08,918.71 L306.47,917.71 L306.86,916.71 L307.25,915.70 L307.64,914.70 L308.03,913.68 L308.42,912.67 L308.81,911.65 L309.21,910.64 L309.60,909.62 L309.99,908.61 L310.38,907.59 L310.77,906.58 L311.16,905.57 L311.55,904.57 L311.94,903.57 L312.34,902.58 L312.73,901.59 L313.12,900.61 L313.51,899.64 L313.90,898.68 L314.29,897.73 L314.68,896.79 L315.07,895.86 L315.46,894.95 L315.86,894.05 L316.25,893.17 L316.64,892.30 L317.03,891.45 L317.42,890.62 L317.81,889.81 L318.20,889.02 L318.59,888.25 L318.99,887.50 L319.38,886.77 L319.77,886.07 L320.16,885.40 L320.55,884.75 L320.94,884.12 L321.33,883.53 L321.72,882.96 L322.11,882.42 L322.51,881.90 L322.90,881.42 L323.29,880.97 L323.68,880.55 L324.07,880.16 L324.46,879.81 L324.85,879.48 L325.24,879.19 L325.64,878.93 L326.03,878.70 L326.42,878.51 L326.81,878.35 L327.20,878.22 L327.59,878.12 L327.98,878.06 L328.37,878.03 L328.77,878.04 L329.16,878.07 L329.55,878.14 L329.94,878.24 L330.33,878.37 L330.72,878.53 L331.11,878.72 L331.50,878.94 L331.89,879.18 L332.29,879.46 L332.68,879.77 L333.07,880.10 L333.46,880.45 L333.85,880.84 L334.24,881.25 L334.63,881.68 L335.02,882.13 L335.42,882.61 L335.81,883.11 L336.20,883.63 L336.59,884.16 L336.98,884.72 L337.37,885.29 L337.76,885.89 L338.15,886.49 L338.55,887.11 L338.94,887.75 L339.33,888.40 L339.72,889.06 L340.11,889.74 L340.50,890.42 L340.89,891.12 L341.28,891.82 L341.67,892.53 L342.07,893.25 L342.46,893.97 L342.85,894.71 L343.24,895.44 L343.63,896.18 L344.02,896.93 L344.41,897.67 L344.80,898.42 L345.20,899.18 L345.59,899.93 L345.98,900.68 L346.37,901.44 L346.76,902.19 L347.15,902.94 L347.54,903.69 L347.93,904.44 L348.32,905.18 L348.72,905.92 L349.11,906.66 L349.50,907.40 L349.89,908.13 L350.28,908.85 L350.67,909.57 L351.06,910.29 L351.45,911.00 L351.85,911.70 L352.24,912.40 L352.63,913.09 L353.02,913.78 L353.41,914.45 L353.80,915.12 L354.19,915.79 L354.58,916.44 L354.98,917.09 L355.37,917.73 L355.76,918.36 L356.15,918.99 L356.54,919.60 L356.93,920.21 L357.32,920.81 L357.71,921.40 L358.10,921.98 L358.50,922.55 L358.89,923.11 L359.28,923.67 L359.67,924.21 L360.06,924.75 L360.45,925.28 L360.84,925.80 L361.23,926.31 L361.63,926.81 L362.02,927.30 L362.41,927.78 L362.80,928.26 L363.19,928.72 L363.58,929.17 L363.97,929.62 L364.36,930.06 L364.76,930.48 L365.15,930.90 L365.54,931.31 L365.93,931.71 L366.32,932.10 L366.71,932.49 L367.10,932.86 L367.49,933.23 L367.88,933.58 L368.28,933.93 L368.67,934.27 L369.06,934.60 L369.45,934.92 L369.84,935.23 L370.23,935.53 L370.62,935.83 L371.01,936.11 L371.41,936.39 L371.80,936.66 L372.19,936.92 L372.58,937.17 L372.97,937.42 L373.36,937.65 L373.75,937.88 L374.14,938.10 L374.53,938.31 L374.93,938.51 L375.32,938.71 L375.71,938.90 L376.10,939.07 L376.49,939.25 L376.88,939.41 L377.27,939.56 L377.66,939.71 L378.06,939.85 L378.45,939.98 L378.84,940.11 L379.23,940.23 L379.62,940.33 L380.01,940.44 L380.40,940.53 L380.79,940.62 L381.19,940.70 L381.58,940.77 L381.97,940.83 L382.36,940.89 L382.75,940.94 L383.14,940.98 L383.53,941.02 L383.92,941.05 L384.31,941.07 L384.71,941.08 L385.10,941.09 L385.49,941.09 L385.88,941.09 L386.27,941.07 L386.66,941.05 L387.05,941.02 L387.44,940.99 L387.84,940.95 L388.23,940.90 L388.62,940.85 L389.01,940.79 L389.40,940.72 L389.79,940.64 L390.18,940.56 L390.57,940.48 L390.97,940.38 L391.36,940.28 L391.75,940.17 L392.14,940.06 L392.53,939.94 L392.92,939.81 L393.31,939.68 L393.70,939.54 L394.09,939.40 L394.49,939.25 L394.88,939.09 L395.27,938.92 L395.66,938.75 L396.05,938.58 L396.44,938.40 L396.83,938.21 L397.22,938.01 L397.62,937.81 L398.01,937.61 L398.40,937.40 L398.79,937.18 L399.18,936.96 L399.57,936.73 L399.96,936.49 L400.35,936.25 L400.74,936.01 L401.14,935.75 L401.53,935.50 L401.92,935.24 L402.31,934.97 L402.70,934.69 L403.09,934.42 L403.48,934.13 L403.87,933.85 L404.27,933.55 L404.66,933.25 L405.05,932.95 L405.44,932.64 L405.83,932.33 L406.22,932.01 L406.61,931.69 L407.00,931.36 L407.40,931.03 L407.79,930.70 L408.18,930.36 L408.57,930.02 L408.96,929.67 L409.35,929.32 L409.74,928.96 L410.13,928.60 L410.52,928.24 L410.92,927.87 L411.31,927.50 L411.70,927.13 L412.09,926.76 L412.48,926.38 L412.87,926.00 L413.26,925.61 L413.65,925.22 L414.05,924.84 L414.44,924.44 L414.83,924.05 L415.22,923.65 L415.61,923.26 L416.00,922.86 L416.39,922.46 L416.78,922.06 L417.18,921.65 L417.57,921.25 L417.96,920.84 L418.35,920.44 L418.74,920.03 L419.13,919.63 L419.52,919.22 L419.91,918.81 L420.30,918.41 L420.70,918.00 L421.09,917.60 L421.48,917.19 L421.87,916.79 L422.26,916.39 L422.65,915.99 L423.04,915.59 L423.43,915.20 L423.83,914.80 L424.22,914.41 L424.61,914.03 L425.00,913.64 L425.39,913.26 L425.78,912.88 L426.17,912.50 L426.56,912.13 L426.95,911.77 L427.35,911.40 L427.74,911.04 L428.13,910.69 L428.52,910.34 L428.91,910.00 L429.30,909.66 L429.69,909.33 L430.08,909.00 L430.48,908.68 L430.87,908.36 L431.26,908.06 L431.65,907.75 L432.04,907.46 L432.43,907.17 L432.82,906.89 L433.21,906.62 L433.61,906.35 L434.00,906.10 L434.39,905.85 L434.78,905.61 L435.17,905.37 L435.56,905.15 L435.95,904.93 L436.34,904.72 L436.73,904.53 L437.13,904.34 L437.52,904.16 L437.91,903.99 L438.30,903.82 L438.69,903.67 L439.08,903.53 L439.47,903.40 L439.86,903.27 L440.26,903.16 L440.65,903.05 L441.04,902.96 L441.43,902.88 L441.82,902.80 L442.21,902.74 L442.60,902.68 L442.99,902.64 L443.39,902.60 L443.78,902.58 L444.17,902.57 L444.56,902.56 L444.95,902.57 L445.34,902.58 L445.73,902.60 L446.12,902.64 L446.51,902.68 L446.91,902.73 L447.30,902.80 L447.69,902.87 L448.08,902.95 L448.47,903.04 L448.86,903.14 L449.25,903.25 L449.64,903.36 L450.04,903.49 L450.43,903.62 L450.82,903.76 L451.21,903.91 L451.60,904.07 L451.99,904.23 L452.38,904.40 L452.77,904.58 L453.16,904.77 L453.56,904.97 L453.95,905.17 L454.34,905.37 L454.73,905.59 L455.12,905.81 L455.51,906.04 L455.90,906.27 L456.29,906.50 L456.69,906.75 L457.08,907.00 L457.47,907.25 L457.86,907.51 L458.25,907.77 L458.64,908.04 L459.03,908.31 L459.42,908.59 L459.82,908.86 L460.21,909.15 L460.60,909.43 L460.99,909.72 L461.38,910.02 L461.77,910.31 L462.16,910.61 L462.55,910.91 L462.94,911.21 L463.34,911.51 L463.73,911.82 L464.12,912.13 L464.51,912.44 L464.90,912.75 L465.29,913.06 L465.68,913.37 L466.07,913.68 L466.47,914.00 L466.86,914.31 L467.25,914.62 L467.64,914.94 L468.03,915.25 L468.42,915.56 L468.81,915.88 L469.20,916.19 L469.59,916.50 L469.99,916.81 L470.38,917.12 L470.77,917.43 L471.16,917.74 L471.55,918.04 L471.94,918.35 L472.33,918.65 L472.72,918.95 L473.12,919.25 L473.51,919.54 L473.90,919.84 L474.29,920.13 L474.68,920.42 L475.07,920.71 L475.46,920.99 L475.85,921.27 L476.25,921.55 L476.64,921.83 L477.03,922.10 L477.42,922.38 L477.81,922.64 L478.20,922.91 L478.59,923.17 L478.98,923.43 L479.37,923.68 L479.77,923.93 L480.16,924.18 L480.55,924.43 L480.94,924.67 L481.33,924.90 L481.72,925.14 L482.11,925.37 L482.50,925.59 L482.90,925.81 L483.29,926.03 L483.68,926.25 L484.07,926.46 L484.46,926.66 L484.85,926.86 L485.24,927.06 L485.63,927.26 L486.03,927.44 L486.42,927.63 L486.81,927.81 L487.20,927.99 L487.59,928.16 L487.98,928.33 L488.37,928.49 L488.76,928.65 L489.15,928.81 L489.55,928.96 L489.94,929.11 L490.33,929.25 L490.72,929.39 L491.11,929.52 L491.50,929.65 L491.89,929.78 L492.28,929.90 L492.68,930.01 L493.07,930.12 L493.46,930.23 L493.85,930.33 L494.24,930.43 L494.63,930.52 L495.02,930.61 L495.41,930.70 L495.80,930.78 L496.20,930.85 L496.59,930.92 L496.98,930.99 L497.37,931.05 L497.76,931.11 L498.15,931.17 L498.54,931.21 L498.93,931.26 L499.33,931.30 L499.72,931.33 L500.11,931.37 L500.50,931.39 L500.89,931.42 L501.28,931.43 L501.67,931.45 L502.06,931.46 L502.46,931.46 L502.85,931.46 L503.24,931.46 L503.63,931.45 L504.02,931.44 L504.41,931.42 L504.80,931.40 L505.19,931.38 L505.58,931.35 L505.98,931.32 L506.37,931.28 L506.76,931.24 L507.15,931.19 L507.54,931.14 L507.93,931.09 L508.32,931.03 L508.71,930.97 L509.11,930.91 L509.50,930.84 L509.89,930.76 L510.28,930.69 L510.67,930.61 L511.06,930.52 L511.45,930.43 L511.84,930.34 L512.24,930.24 L512.63,930.14 L513.02,930.04 L513.41,929.93 L513.80,929.82 L514.19,929.71 L514.58,929.59 L514.97,929.47 L515.36,929.34 L515.76,929.22 L516.15,929.08 L516.54,928.95 L516.93,928.81 L517.32,928.67 L517.71,928.53 L518.10,928.38 L518.49,928.23 L518.89,928.07 L519.28,927.92 L519.67,927.76 L520.06,927.60 L520.45,927.43 L520.84,927.26 L521.23,927.09 L521.62,926.92 L522.01,926.74 L522.41,926.56 L522.80,926.38 L523.19,926.20 L523.58,926.01 L523.97,925.83 L524.36,925.64 L524.75,925.44 L525.14,925.25 L525.54,925.05 L525.93,924.86 L526.32,924.66 L526.71,924.45 L527.10,924.25 L527.49,924.05 L527.88,923.84 L528.27,923.63 L528.67,923.42 L529.06,923.21 L529.45,923.00 L529.84,922.79 L530.23,922.57 L530.62,922.36 L531.01,922.14 L531.40,921.93 L531.79,921.71 L532.19,921.49 L532.58,921.27 L532.97,921.05 L533.36,920.84 L533.75,920.62 L534.14,920.40 L534.53,920.18 L534.92,919.96 L535.32,919.74 L535.71,919.52 L536.10,919.30 L536.49,919.08 L536.88,918.87 L537.27,918.65 L537.66,918.43 L538.05,918.22 L538.45,918.00 L538.84,917.79 L539.23,917.58 L539.62,917.37 L540.01,917.16 L540.40,916.95 L540.79,916.75 L541.18,916.54 L541.57,916.34 L541.97,916.14 L542.36,915.94 L542.75,915.75 L543.14,915.55 L543.53,915.36 L543.92,915.17 L544.31,914.98 L544.70,914.80 L545.10,914.62 L545.49,914.44 L545.88,914.26 L546.27,914.09 L546.66,913.92 L547.05,913.75 L547.44,913.59 L547.83,913.43 L548.22,913.27 L548.62,913.12 L549.01,912.97 L549.40,912.83 L549.79,912.69 L550.18,912.55 L550.57,912.41 L550.96,912.28 L551.35,912.16 L551.75,912.04 L552.14,911.92 L552.53,911.80 L552.92,911.70 L553.31,911.59 L553.70,911.49 L554.09,911.39 L554.48,911.30 L554.88,911.22 L555.27,911.13 L555.66,911.06 L556.05,910.98 L556.44,910.91 L556.83,910.85 L557.22,910.79 L557.61,910.74 L558.00,910.69 L558.40,910.65 L558.79,910.61 L559.18,910.57 L559.57,910.54 L559.96,910.52 L560.35,910.50 L560.74,910.48 L561.13,910.47 L561.53,910.47 L561.92,910.46 L562.31,910.47 L562.70,910.48 L563.09,910.49 L563.48,910.51 L563.87,910.53 L564.26,910.56 L564.66,910.59 L565.05,910.63 L565.44,910.67 L565.83,910.72 L566.22,910.77 L566.61,910.82 L567.00,910.88 L567.39,910.95 L567.78,911.01 L568.18,911.09 L568.57,911.16 L568.96,911.24 L569.35,911.33 L569.74,911.42 L570.13,911.51 L570.52,911.60 L570.91,911.70 L571.31,911.81 L571.70,911.91 L572.09,912.02 L572.48,912.14 L572.87,912.25 L573.26,912.38 L573.65,912.50 L574.04,912.63 L574.43,912.75 L574.83,912.89 L575.22,913.02 L575.61,913.16 L576.00,913.30 L576.39,913.44 L576.78,913.59 L577.17,913.74 L577.56,913.89 L577.96,914.04 L578.35,914.20 L578.74,914.35 L579.13,914.51 L579.52,914.67 L579.91,914.83 L580.30,915.00 L580.69,915.16 L581.09,915.33 L581.48,915.49 L581.87,915.66 L582.26,915.83 L582.65,916.00 L583.04,916.18 L583.43,916.35 L583.82,916.52 L584.21,916.70 L584.61,916.87 L585.00,917.05 L585.39,917.22 L585.78,917.40 L586.17,917.58 L586.56,917.75 L586.95,917.93 L587.34,918.11 L587.74,918.28 L588.13,918.46 L588.52,918.64 L588.91,918.81 L589.30,918.99 L589.69,919.16 L590.08,919.34 L590.47,919.51 L590.86,919.69 L591.26,919.86 L591.65,920.03 L592.04,920.20 L592.43,920.37 L592.82,920.54 L593.21,920.71 L593.60,920.87 L593.99,921.04 L594.39,921.20 L594.78,921.36 L595.17,921.52 L595.56,921.68 L595.95,921.84 L596.34,922.00 L596.73,922.15 L597.12,922.31 L597.52,922.46 L597.91,922.61 L598.30,922.76 L598.69,922.90 L599.08,923.05 L599.47,923.19 L599.86,923.33 L600.25,923.47 L600.64,923.60 L601.04,923.74 L601.43,923.87 L601.82,924.00 L602.21,924.12 L602.60,924.25 L602.99,924.37 L603.38,924.49 L603.77,924.61 L604.17,924.72 L604.56,924.84 L604.95,924.95 L605.34,925.05 L605.73,925.16 L606.12,925.26 L606.51,925.36 L606.90,925.46 L607.30,925.56 L607.69,925.65 L608.08,925.74 L608.47,925.83 L608.86,925.91 L609.25,925.99 L609.64,926.07 L610.03,926.15 L610.42,926.22 L610.82,926.29 L611.21,926.36 L611.60,926.42 L611.99,926.49 L612.38,926.55 L612.77,926.60 L613.16,926.66 L613.55,926.71 L613.95,926.76 L614.34,926.80 L614.73,926.84 L615.12,926.88 L615.51,926.92 L615.90,926.95 L616.29,926.99 L616.68,927.01 L617.07,927.04 L617.47,927.06 L617.86,927.08 L618.25,927.10 L618.64,927.11 L619.03,927.12 L619.42,927.13 L619.81,927.14 L620.20,927.14 L620.60,927.14 L620.99,927.14 L621.38,927.13 L621.77,927.12 L622.16,927.11 L622.55,927.10 L622.94,927.08 L623.33,927.06 L623.73,927.04 L624.12,927.01 L624.51,926.98 L624.90,926.95 L625.29,926.92 L625.68,926.88 L626.07,926.85 L626.46,926.80 L626.85,926.76 L627.25,926.71 L627.64,926.67 L628.03,926.61 L628.42,926.56 L628.81,926.50 L629.20,926.45 L629.59,926.38 L629.98,926.32 L630.38,926.25 L630.77,926.19 L631.16,926.12 L631.55,926.04 L631.94,925.97 L632.33,925.89 L632.72,925.81 L633.11,925.73 L633.51,925.64 L633.90,925.56 L634.29,925.47 L634.68,925.38 L635.07,925.28 L635.46,925.19 L635.85,925.09 L636.24,925.00 L636.63,924.90 L637.03,924.79 L637.42,924.69 L637.81,924.58 L638.20,924.48 L638.59,924.37 L638.98,924.26 L639.37,924.14 L639.76,924.03 L640.16,923.91 L640.55,923.80 L640.94,923.68 L641.33,923.56 L641.72,923.44 L642.11,923.32 L642.50,923.19 L642.89,923.07 L643.28,922.94 L643.68,922.82 L644.07,922.69 L644.46,922.56 L644.85,922.43 L645.24,922.30 L645.63,922.17 L646.02,922.03 L646.41,921.90 L646.81,921.77 L647.20,921.63 L647.59,921.50 L647.98,921.36 L648.37,921.23 L648.76,921.09 L649.15,920.96 L649.54,920.82 L649.94,920.68 L650.33,920.55 L650.72,920.41 L651.11,920.27 L651.50,920.13" fill="none" stroke="#5c3a99" stroke-width="2.3" stroke-linejoin="round"/>
<path d="M88.22,1029.46 L89.81,1029.46 L91.40,1029.46 L92.99,1029.46 L94.58,1029.45 L96.17,1029.44 L97.76,1029.43 L99.36,1029.42 L100.95,1029.41 L102.54,1029.39 L104.13,1029.37 L105.72,1029.35 L107.31,1029.33 L108.90,1029.30 L110.49,1029.28 L112.08,1029.25 L113.67,1029.22 L115.26,1029.18 L116.86,1029.14 L118.45,1029.10 L120.04,1029.06 L121.63,1029.01 L123.22,1028.96 L124.81,1028.90 L126.40,1028.84 L127.99,1028.78 L129.58,1028.71 L131.17,1028.64 L132.76,1028.56 L134.36,1028.47 L135.95,1028.38 L137.54,1028.28 L139.13,1028.17 L140.72,1028.06 L142.31,1027.94 L143.90,1027.80 L145.49,1027.66 L147.08,1027.50 L148.67,1027.33 L150.26,1027.15 L151.86,1026.95 L153.45,1026.74 L155.04,1026.50 L156.63,1026.25 L158.22,1025.97 L159.81,1025.66 L161.40,1025.33 L162.99,1024.96 L164.58,1024.55 L166.17,1024.10 L167.77,1023.61 L169.36,1023.06 L170.95,1022.45 L172.54,1021.77 L174.13,1021.01 L175.72,1020.16 L177.31,1019.20 L178.90,1018.12 L180.49,1016.90 L182.08,1015.50 L182.46,1015.14 L182.85,1014.76 L183.24,1014.36 L183.63,1013.95 L184.02,1013.53 L184.41,1013.09 L184.81,1012.63 L185.20,1012.16 L185.59,1011.67 L185.98,1011.17 L186.37,1010.64 L186.76,1010.10 L187.15,1009.54 L187.54,1008.95 L187.94,1008.35 L188.33,1007.72 L188.72,1007.07 L189.11,1006.39 L189.50,1005.69 L189.89,1004.95 L190.28,1004.19 L190.67,1003.40 L191.07,1002.58 L191.46,1001.73 L191.85,1000.83 L192.24,999.91 L192.63,998.94 L193.02,997.93 L193.41,996.88 L193.80,995.79 L194.19,994.65 L194.59,993.46 L194.98,992.21 L195.37,990.91 L195.76,989.55 L196.15,988.14 L196.54,986.65 L196.93,985.10 L197.32,983.48 L197.72,981.78 L198.11,979.99 L198.50,978.13 L198.89,976.18 L199.28,974.13 L199.67,971.98 L200.06,969.72 L200.45,967.36 L200.84,964.88 L201.24,962.27 L201.63,959.53 L202.02,956.65 L202.41,953.63 L202.80,950.45 L203.19,947.11 L203.58,943.60 L203.97,939.91 L204.37,936.02 L204.76,931.94 L205.15,927.64 L205.54,923.13 L205.93,918.38 L206.32,913.39 L206.71,908.15 L207.10,902.65 L207.50,896.87 L207.89,890.82 L208.28,884.48 L208.67,877.84 L209.06,870.90 L209.45,863.65 L209.84,856.11 L210.23,848.26 L210.62,840.11 L211.02,831.68 L211.41,822.98 L211.80,814.03 L212.19,804.85 L212.58,795.49 L212.97,785.97 L213.36,776.36 L213.75,766.71 L214.15,757.08 L214.54,747.54 L214.93,738.19 L215.32,729.09 L215.71,720.35 L216.10,712.06 L216.49,704.31 L216.88,697.19 L217.28,690.80 L217.67,685.20 L218.06,680.48 L218.45,676.68 L218.84,673.85 L219.23,672.01 L219.62,671.16 L220.01,671.31 L220.40,672.43 L220.80,674.46 L221.19,677.37 L221.58,681.09 L221.97,685.53 L222.36,690.63 L222.75,696.31 L223.14,702.47 L223.53,709.04 L223.93,715.94 L224.32,723.09 L224.71,730.43 L225.10,737.89 L225.49,745.42 L225.88,752.96 L226.27,760.47 L226.66,767.91 L227.05,775.25 L227.45,782.46 L227.84,789.53 L228.23,796.43 L228.62,803.14 L229.01,809.67 L229.40,816.00 L229.79,822.13 L230.18,828.06 L230.58,833.78 L230.97,839.29 L231.36,844.61 L231.75,849.72 L232.14,854.64 L232.53,859.38 L232.92,863.92 L233.31,868.29 L233.71,872.49 L234.10,876.52 L234.49,880.38 L234.88,884.10 L235.27,887.66 L235.66,891.08 L236.05,894.36 L236.44,897.51 L236.83,900.54 L237.23,903.44 L237.62,906.23 L238.01,908.90 L238.40,911.47 L238.79,913.94 L239.18,916.31 L239.57,918.59 L239.96,920.78 L240.36,922.88 L240.75,924.90 L241.14,926.84 L241.53,928.71 L241.92,930.51 L242.31,932.24 L242.70,933.90 L243.09,935.50 L243.49,937.04 L243.88,938.53 L244.27,939.95 L244.66,941.33 L245.05,942.65 L245.44,943.92 L245.83,945.15 L246.22,946.33 L246.61,947.47 L247.01,948.57 L247.40,949.62 L247.79,950.64 L248.18,951.62 L248.57,952.57 L248.96,953.48 L249.35,954.35 L249.74,955.20 L250.14,956.01 L250.53,956.80 L250.92,957.55 L251.31,958.28 L251.70,958.98 L252.09,959.65 L252.48,960.30 L252.87,960.92 L253.26,961.52 L253.66,962.10 L254.05,962.66 L254.44,963.19 L254.83,963.70 L255.22,964.20 L255.61,964.67 L256.00,965.12 L256.39,965.55 L256.79,965.97 L257.18,966.37 L257.57,966.75 L257.96,967.11 L258.35,967.46 L258.74,967.79 L259.13,968.11 L259.52,968.41 L259.92,968.70 L260.31,968.97 L260.70,969.23 L261.09,969.47 L261.48,969.70 L261.87,969.91 L262.26,970.12 L262.65,970.30 L263.04,970.48 L263.44,970.65 L263.83,970.80 L264.22,970.94 L264.61,971.06 L265.00,971.18 L265.39,971.28 L265.78,971.38 L266.17,971.46 L266.57,971.53 L266.96,971.59 L267.35,971.64 L267.74,971.67 L268.13,971.70 L268.52,971.72 L268.91,971.72 L269.30,971.72 L269.70,971.70 L270.09,971.68 L270.48,971.64 L270.87,971.60 L271.26,971.54 L271.65,971.47 L272.04,971.40 L272.43,971.31 L272.82,971.22 L273.22,971.11 L273.61,970.99 L274.00,970.87 L274.39,970.73 L274.78,970.59 L275.17,970.43 L275.56,970.27 L275.95,970.09 L276.35,969.91 L276.74,969.71 L277.13,969.51 L277.52,969.29 L277.91,969.07 L278.30,968.83 L278.69,968.59 L279.08,968.33 L279.47,968.06 L279.87,967.79 L280.26,967.50 L280.65,967.21 L281.04,966.90 L281.43,966.58 L281.82,966.25 L282.21,965.91 L282.60,965.56 L283.00,965.20 L283.39,964.83 L283.78,964.45 L284.17,964.06 L284.56,963.65 L284.95,963.24 L285.34,962.81 L285.73,962.37 L286.13,961.93 L286.52,961.46 L286.91,960.99 L287.30,960.51 L287.69,960.01 L288.08,959.50 L288.47,958.98 L288.86,958.45 L289.25,957.90 L289.65,957.35 L290.04,956.78 L290.43,956.20 L290.82,955.60 L291.21,954.99 L291.60,954.37 L291.99,953.74 L292.38,953.09 L292.78,952.43 L293.17,951.76 L293.56,951.07 L293.95,950.37 L294.34,949.66 L294.73,948.93 L295.12,948.19 L295.51,947.44 L295.91,946.67 L296.30,945.89 L296.69,945.10 L297.08,944.29 L297.47,943.47 L297.86,942.63 L298.25,941.78 L298.64,940.92 L299.03,940.04 L299.43,939.15 L299.82,938.25 L300.21,937.33 L300.60,936.40 L300.99,935.45 L301.38,934.49 L301.77,933.52 L302.16,932.54 L302.56,931.54 L302.95,930.53 L303.34,929.51 L303.73,928.48 L304.12,927.44 L304.51,926.38 L304.90,925.31 L305.29,924.24 L305.68,923.15 L306.08,922.05 L306.47,920.95 L306.86,919.83 L307.25,918.71 L307.64,917.58 L308.03,916.44 L308.42,915.29 L308.81,914.14 L309.21,912.98 L309.60,911.82 L309.99,910.66 L310.38,909.49 L310.77,908.33 L311.16,907.16 L311.55,905.99 L311.94,904.82 L312.34,903.65 L312.73,902.48 L313.12,901.32 L313.51,900.17 L313.90,899.02 L314.29,897.88 L314.68,896.74 L315.07,895.62 L315.46,894.51 L315.86,893.41 L316.25,892.32 L316.64,891.25 L317.03,890.19 L317.42,889.15 L317.81,888.13 L318.20,887.13 L318.59,886.15 L318.99,885.19 L319.38,884.26 L319.77,883.35 L320.16,882.47 L320.55,881.61 L320.94,880.78 L321.33,879.99 L321.72,879.22 L322.11,878.49 L322.51,877.79 L322.90,877.12 L323.29,876.49 L323.68,875.90 L324.07,875.34 L324.46,874.82 L324.85,874.33 L325.24,873.89 L325.64,873.48 L326.03,873.12 L326.42,872.79 L326.81,872.51 L327.20,872.26 L327.59,872.06 L327.98,871.89 L328.37,871.77 L328.77,871.69 L329.16,871.65 L329.55,871.65 L329.94,871.68 L330.33,871.76 L330.72,871.88 L331.11,872.03 L331.50,872.23 L331.89,872.46 L332.29,872.73 L332.68,873.03 L333.07,873.37 L333.46,873.74 L333.85,874.14 L334.24,874.58 L334.63,875.04 L335.02,875.54 L335.42,876.07 L335.81,876.62 L336.20,877.20 L336.59,877.80 L336.98,878.43 L337.37,879.09 L337.76,879.76 L338.15,880.46 L338.55,881.17 L338.94,881.90 L339.33,882.65 L339.72,883.42 L340.11,884.20 L340.50,884.99 L340.89,885.80 L341.28,886.62 L341.67,887.45 L342.07,888.29 L342.46,889.14 L342.85,889.99 L343.24,890.85 L343.63,891.72 L344.02,892.59 L344.41,893.46 L344.80,894.34 L345.20,895.22 L345.59,896.10 L345.98,896.98 L346.37,897.86 L346.76,898.74 L347.15,899.62 L347.54,900.50 L347.93,901.37 L348.32,902.24 L348.72,903.11 L349.11,903.97 L349.50,904.82 L349.89,905.67 L350.28,906.52 L350.67,907.36 L351.06,908.19 L351.45,909.01 L351.85,909.83 L352.24,910.64 L352.63,911.44 L353.02,912.23 L353.41,913.01 L353.80,913.79 L354.19,914.56 L354.58,915.31 L354.98,916.06 L355.37,916.80 L355.76,917.52 L356.15,918.24 L356.54,918.95 L356.93,919.65 L357.32,920.33 L357.71,921.01 L358.10,921.67 L358.50,922.33 L358.89,922.97 L359.28,923.61 L359.67,924.23 L360.06,924.85 L360.45,925.45 L360.84,926.04 L361.23,926.62 L361.63,927.19 L362.02,927.75 L362.41,928.30 L362.80,928.84 L363.19,929.36 L363.58,929.88 L363.97,930.39 L364.36,930.88 L364.76,931.37 L365.15,931.84 L365.54,932.30 L365.93,932.76 L366.32,933.20 L366.71,933.63 L367.10,934.06 L367.49,934.47 L367.88,934.87 L368.28,935.26 L368.67,935.65 L369.06,936.02 L369.45,936.38 L369.84,936.74 L370.23,937.08 L370.62,937.41 L371.01,937.74 L371.41,938.05 L371.80,938.36 L372.19,938.65 L372.58,938.94 L372.97,939.21 L373.36,939.48 L373.75,939.74 L374.14,939.99 L374.53,940.23 L374.93,940.46 L375.32,940.69 L375.71,940.90 L376.10,941.10 L376.49,941.30 L376.88,941.49 L377.27,941.67 L377.66,941.84 L378.06,942.00 L378.45,942.15 L378.84,942.30 L379.23,942.44 L379.62,942.56 L380.01,942.68 L380.40,942.80 L380.79,942.90 L381.19,943.00 L381.58,943.09 L381.97,943.17 L382.36,943.24 L382.75,943.30 L383.14,943.36 L383.53,943.41 L383.92,943.45 L384.31,943.48 L384.71,943.51 L385.10,943.53 L385.49,943.54 L385.88,943.54 L386.27,943.53 L386.66,943.52 L387.05,943.50 L387.44,943.47 L387.84,943.44 L388.23,943.40 L388.62,943.35 L389.01,943.29 L389.40,943.23 L389.79,943.16 L390.18,943.08 L390.57,943.00 L390.97,942.90 L391.36,942.80 L391.75,942.70 L392.14,942.58 L392.53,942.46 L392.92,942.34 L393.31,942.20 L393.70,942.06 L394.09,941.91 L394.49,941.76 L394.88,941.60 L395.27,941.43 L395.66,941.25 L396.05,941.07 L396.44,940.88 L396.83,940.69 L397.22,940.48 L397.62,940.27 L398.01,940.06 L398.40,939.84 L398.79,939.61 L399.18,939.38 L399.57,939.13 L399.96,938.89 L400.35,938.63 L400.74,938.37 L401.14,938.11 L401.53,937.83 L401.92,937.56 L402.31,937.27 L402.70,936.98 L403.09,936.68 L403.48,936.38 L403.87,936.07 L404.27,935.76 L404.66,935.44 L405.05,935.11 L405.44,934.78 L405.83,934.45 L406.22,934.10 L406.61,933.76 L407.00,933.40 L407.40,933.04 L407.79,932.68 L408.18,932.31 L408.57,931.94 L408.96,931.56 L409.35,931.18 L409.74,930.79 L410.13,930.40 L410.52,930.00 L410.92,929.60 L411.31,929.19 L411.70,928.78 L412.09,928.37 L412.48,927.95 L412.87,927.53 L413.26,927.11 L413.65,926.68 L414.05,926.25 L414.44,925.81 L414.83,925.37 L415.22,924.93 L415.61,924.49 L416.00,924.04 L416.39,923.59 L416.78,923.14 L417.18,922.69 L417.57,922.24 L417.96,921.78 L418.35,921.32 L418.74,920.86 L419.13,920.40 L419.52,919.94 L419.91,919.48 L420.30,919.02 L420.70,918.56 L421.09,918.10 L421.48,917.64 L421.87,917.18 L422.26,916.72 L422.65,916.26 L423.04,915.80 L423.43,915.35 L423.83,914.89 L424.22,914.44 L424.61,913.99 L425.00,913.54 L425.39,913.10 L425.78,912.66 L426.17,912.22 L426.56,911.79 L426.95,911.36 L427.35,910.93 L427.74,910.51 L428.13,910.09 L428.52,909.68 L428.91,909.27 L429.30,908.87 L429.69,908.48 L430.08,908.09 L430.48,907.71 L430.87,907.33 L431.26,906.96 L431.65,906.60 L432.04,906.25 L432.43,905.90 L432.82,905.56 L433.21,905.23 L433.61,904.91 L434.00,904.60 L434.39,904.29 L434.78,904.00 L435.17,903.71 L435.56,903.43 L435.95,903.17 L436.34,902.91 L436.73,902.66 L437.13,902.43 L437.52,902.20 L437.91,901.99 L438.30,901.78 L438.69,901.59 L439.08,901.40 L439.47,901.23 L439.86,901.07 L440.26,900.92 L440.65,900.79 L441.04,900.66 L441.43,900.55 L441.82,900.44 L442.21,900.35 L442.60,900.27 L442.99,900.21 L443.39,900.15 L443.78,900.11 L444.17,900.07 L444.56,900.05 L444.95,900.04 L445.34,900.04 L445.73,900.06 L446.12,900.08 L446.51,900.12 L446.91,900.17 L447.30,900.23 L447.69,900.30 L448.08,900.38 L448.47,900.47 L448.86,900.58 L449.25,900.69 L449.64,900.81 L450.04,900.95 L450.43,901.09 L450.82,901.25 L451.21,901.41 L451.60,901.58 L451.99,901.76 L452.38,901.96 L452.77,902.16 L453.16,902.37 L453.56,902.58 L453.95,902.81 L454.34,903.04 L454.73,903.28 L455.12,903.53 L455.51,903.79 L455.90,904.05 L456.29,904.32 L456.69,904.60 L457.08,904.88 L457.47,905.17 L457.86,905.46 L458.25,905.76 L458.64,906.07 L459.03,906.38 L459.42,906.69 L459.82,907.01 L460.21,907.33 L460.60,907.66 L460.99,907.99 L461.38,908.33 L461.77,908.67 L462.16,909.01 L462.55,909.35 L462.94,909.70 L463.34,910.05 L463.73,910.40 L464.12,910.75 L464.51,911.10 L464.90,911.46 L465.29,911.82 L465.68,912.17 L466.07,912.53 L466.47,912.89 L466.86,913.25 L467.25,913.61 L467.64,913.97 L468.03,914.33 L468.42,914.69 L468.81,915.04 L469.20,915.40 L469.59,915.76 L469.99,916.11 L470.38,916.47 L470.77,916.82 L471.16,917.17 L471.55,917.52 L471.94,917.87 L472.33,918.21 L472.72,918.56 L473.12,918.90 L473.51,919.24 L473.90,919.57 L474.29,919.91 L474.68,920.24 L475.07,920.57 L475.46,920.89 L475.85,921.21 L476.25,921.53 L476.64,921.85 L477.03,922.16 L477.42,922.47 L477.81,922.77 L478.20,923.07 L478.59,923.37 L478.98,923.67 L479.37,923.96 L479.77,924.24 L480.16,924.52 L480.55,924.80 L480.94,925.08 L481.33,925.34 L481.72,925.61 L482.11,925.87 L482.50,926.13 L482.90,926.38 L483.29,926.63 L483.68,926.87 L484.07,927.11 L484.46,927.34 L484.85,927.57 L485.24,927.80 L485.63,928.02 L486.03,928.24 L486.42,928.45 L486.81,928.65 L487.20,928.85 L487.59,929.05 L487.98,929.24 L488.37,929.43 L488.76,929.61 L489.15,929.79 L489.55,929.96 L489.94,930.13 L490.33,930.29 L490.72,930.45 L491.11,930.60 L491.50,930.75 L491.89,930.89 L492.28,931.03 L492.68,931.17 L493.07,931.29 L493.46,931.42 L493.85,931.53 L494.24,931.65 L494.63,931.76 L495.02,931.86 L495.41,931.96 L495.80,932.05 L496.20,932.14 L496.59,932.22 L496.98,932.30 L497.37,932.38 L497.76,932.44 L498.15,932.51 L498.54,932.57 L498.93,932.62 L499.33,932.67 L499.72,932.71 L500.11,932.75 L500.50,932.79 L500.89,932.82 L501.28,932.84 L501.67,932.86 L502.06,932.88 L502.46,932.89 L502.85,932.89 L503.24,932.89 L503.63,932.89 L504.02,932.88 L504.41,932.87 L504.80,932.85 L505.19,932.83 L505.58,932.80 L505.98,932.77 L506.37,932.73 L506.76,932.69 L507.15,932.64 L507.54,932.59 L507.93,932.54 L508.32,932.48 L508.71,932.42 L509.11,932.35 L509.50,932.28 L509.89,932.20 L510.28,932.12 L510.67,932.03 L511.06,931.94 L511.45,931.85 L511.84,931.75 L512.24,931.65 L512.63,931.54 L513.02,931.43 L513.41,931.31 L513.80,931.20 L514.19,931.07 L514.58,930.95 L514.97,930.81 L515.36,930.68 L515.76,930.54 L516.15,930.40 L516.54,930.25 L516.93,930.10 L517.32,929.95 L517.71,929.79 L518.10,929.63 L518.49,929.47 L518.89,929.30 L519.28,929.13 L519.67,928.95 L520.06,928.78 L520.45,928.59 L520.84,928.41 L521.23,928.22 L521.62,928.03 L522.01,927.84 L522.41,927.64 L522.80,927.44 L523.19,927.24 L523.58,927.03 L523.97,926.83 L524.36,926.62 L524.75,926.40 L525.14,926.19 L525.54,925.97 L525.93,925.75 L526.32,925.53 L526.71,925.30 L527.10,925.08 L527.49,924.85 L527.88,924.62 L528.27,924.39 L528.67,924.15 L529.06,923.92 L529.45,923.68 L529.84,923.44 L530.23,923.20 L530.62,922.96 L531.01,922.72 L531.40,922.47 L531.79,922.23 L532.19,921.98 L532.58,921.74 L532.97,921.49 L533.36,921.24 L533.75,920.99 L534.14,920.75 L534.53,920.50 L534.92,920.25 L535.32,920.00 L535.71,919.75 L536.10,919.50 L536.49,919.25 L536.88,919.01 L537.27,918.76 L537.66,918.51 L538.05,918.27 L538.45,918.02 L538.84,917.78 L539.23,917.53 L539.62,917.29 L540.01,917.05 L540.40,916.81 L540.79,916.58 L541.18,916.34 L541.57,916.11 L541.97,915.88 L542.36,915.65 L542.75,915.42 L543.14,915.19 L543.53,914.97 L543.92,914.75 L544.31,914.53 L544.70,914.32 L545.10,914.11 L545.49,913.90 L545.88,913.69 L546.27,913.49 L546.66,913.29 L547.05,913.10 L547.44,912.91 L547.83,912.72 L548.22,912.54 L548.62,912.35 L549.01,912.18 L549.40,912.01 L549.79,911.84 L550.18,911.68 L550.57,911.52 L550.96,911.36 L551.35,911.21 L551.75,911.07 L552.14,910.93 L552.53,910.79 L552.92,910.66 L553.31,910.53 L553.70,910.41 L554.09,910.30 L554.48,910.18 L554.88,910.08 L555.27,909.98 L555.66,909.88 L556.05,909.79 L556.44,909.71 L556.83,909.63 L557.22,909.56 L557.61,909.49 L558.00,909.43 L558.40,909.37 L558.79,909.32 L559.18,909.28 L559.57,909.24 L559.96,909.20 L560.35,909.17 L560.74,909.15 L561.13,909.13 L561.53,909.12 L561.92,909.12 L562.31,909.12 L562.70,909.12 L563.09,909.13 L563.48,909.15 L563.87,909.17 L564.26,909.20 L564.66,909.23 L565.05,909.27 L565.44,909.31 L565.83,909.36 L566.22,909.41 L566.61,909.47 L567.00,909.54 L567.39,909.61 L567.78,909.68 L568.18,909.76 L568.57,909.84 L568.96,909.93 L569.35,910.03 L569.74,910.12 L570.13,910.23 L570.52,910.33 L570.91,910.44 L571.31,910.56 L571.70,910.68 L572.09,910.80 L572.48,910.93 L572.87,911.06 L573.26,911.20 L573.65,911.34 L574.04,911.48 L574.43,911.63 L574.83,911.78 L575.22,911.93 L575.61,912.09 L576.00,912.25 L576.39,912.41 L576.78,912.58 L577.17,912.74 L577.56,912.92 L577.96,913.09 L578.35,913.26 L578.74,913.44 L579.13,913.62 L579.52,913.80 L579.91,913.99 L580.30,914.17 L580.69,914.36 L581.09,914.55 L581.48,914.74 L581.87,914.94 L582.26,915.13 L582.65,915.32 L583.04,915.52 L583.43,915.72 L583.82,915.92 L584.21,916.11 L584.61,916.31 L585.00,916.51 L585.39,916.71 L585.78,916.91 L586.17,917.12 L586.56,917.32 L586.95,917.52 L587.34,917.72 L587.74,917.92 L588.13,918.12 L588.52,918.32 L588.91,918.52 L589.30,918.72 L589.69,918.92 L590.08,919.12 L590.47,919.32 L590.86,919.52 L591.26,919.71 L591.65,919.91 L592.04,920.10 L592.43,920.30 L592.82,920.49 L593.21,920.68 L593.60,920.87 L593.99,921.06 L594.39,921.24 L594.78,921.43 L595.17,921.61 L595.56,921.79 L595.95,921.97 L596.34,922.15 L596.73,922.33 L597.12,922.50 L597.52,922.67 L597.91,922.85 L598.30,923.01 L598.69,923.18 L599.08,923.34 L599.47,923.51 L599.86,923.66 L600.25,923.82 L600.64,923.98 L601.04,924.13 L601.43,924.28 L601.82,924.43 L602.21,924.57 L602.60,924.71 L602.99,924.85 L603.38,924.99 L603.77,925.12 L604.17,925.25 L604.56,925.38 L604.95,925.51 L605.34,925.63 L605.73,925.75 L606.12,925.87 L606.51,925.98 L606.90,926.10 L607.30,926.21 L607.69,926.31 L608.08,926.41 L608.47,926.51 L608.86,926.61 L609.25,926.70 L609.64,926.79 L610.03,926.88 L610.42,926.97 L610.82,927.05 L611.21,927.13 L611.60,927.20 L611.99,927.27 L612.38,927.34 L612.77,927.41 L613.16,927.47 L613.55,927.53 L613.95,927.59 L614.34,927.64 L614.73,927.69 L615.12,927.74 L615.51,927.78 L615.90,927.82 L616.29,927.86 L616.68,927.89 L617.07,927.92 L617.47,927.95 L617.86,927.97 L618.25,927.99 L618.64,928.01 L619.03,928.03 L619.42,928.04 L619.81,928.05 L620.20,928.05 L620.60,928.05 L620.99,928.05 L621.38,928.05 L621.77,928.04 L622.16,928.03 L622.55,928.02 L622.94,928.00 L623.33,927.98 L623.73,927.96 L624.12,927.93 L624.51,927.90 L624.90,927.87 L625.29,927.84 L625.68,927.80 L626.07,927.76 L626.46,927.72 L626.85,927.67 L627.25,927.62 L627.64,927.57 L628.03,927.51 L628.42,927.45 L628.81,927.39 L629.20,927.33 L629.59,927.26 L629.98,927.19 L630.38,927.12 L630.77,927.05 L631.16,926.97 L631.55,926.89 L631.94,926.81 L632.33,926.72 L632.72,926.63 L633.11,926.54 L633.51,926.45 L633.90,926.36 L634.29,926.26 L634.68,926.16 L635.07,926.06 L635.46,925.95 L635.85,925.85 L636.24,925.74 L636.63,925.63 L637.03,925.51 L637.42,925.40 L637.81,925.28 L638.20,925.16 L638.59,925.04 L638.98,924.92 L639.37,924.79 L639.76,924.67 L640.16,924.54 L640.55,924.41 L640.94,924.28 L641.33,924.14 L641.72,924.01 L642.11,923.87 L642.50,923.73 L642.89,923.59 L643.28,923.45 L643.68,923.31 L644.07,923.17 L644.46,923.02 L644.85,922.88 L645.24,922.73 L645.63,922.58 L646.02,922.43 L646.41,922.28 L646.81,922.13 L647.20,921.98 L647.59,921.83 L647.98,921.68 L648.37,921.52 L648.76,921.37 L649.15,921.22 L649.54,921.06 L649.94,920.91 L650.33,920.75 L650.72,920.60 L651.11,920.44 L651.50,920.28" fill="none" stroke="#4a5fb0" stroke-width="2.3" stroke-linejoin="round"/>
<path d="M88.22,1029.72 L89.81,1029.72 L91.40,1029.72 L92.99,1029.72 L94.58,1029.71 L96.17,1029.70 L97.76,1029.70 L99.36,1029.69 L100.95,1029.67 L102.54,1029.66 L104.13,1029.65 L105.72,1029.63 L107.31,1029.61 L108.90,1029.59 L110.49,1029.57 L112.08,1029.54 L113.67,1029.51 L115.26,1029.48 L116.86,1029.45 L118.45,1029.42 L120.04,1029.38 L121.63,1029.34 L123.22,1029.30 L124.81,1029.25 L126.40,1029.20 L127.99,1029.15 L129.58,1029.09 L131.17,1029.03 L132.76,1028.96 L134.36,1028.89 L135.95,1028.81 L137.54,1028.73 L139.13,1028.64 L140.72,1028.55 L142.31,1028.44 L143.90,1028.33 L145.49,1028.21 L147.08,1028.08 L148.67,1027.94 L150.26,1027.79 L151.86,1027.62 L153.45,1027.44 L155.04,1027.25 L156.63,1027.04 L158.22,1026.80 L159.81,1026.55 L161.40,1026.27 L162.99,1025.97 L164.58,1025.63 L166.17,1025.27 L167.77,1024.86 L169.36,1024.41 L170.95,1023.91 L172.54,1023.35 L174.13,1022.73 L175.72,1022.03 L177.31,1021.24 L178.90,1020.36 L180.49,1019.36 L182.08,1018.22 L182.46,1017.93 L182.85,1017.62 L183.24,1017.30 L183.63,1016.96 L184.02,1016.62 L184.41,1016.26 L184.81,1015.89 L185.20,1015.51 L185.59,1015.11 L185.98,1014.70 L186.37,1014.28 L186.76,1013.84 L187.15,1013.38 L187.54,1012.91 L187.94,1012.42 L188.33,1011.91 L188.72,1011.38 L189.11,1010.83 L189.50,1010.26 L189.89,1009.67 L190.28,1009.06 L190.67,1008.42 L191.07,1007.75 L191.46,1007.06 L191.85,1006.34 L192.24,1005.59 L192.63,1004.81 L193.02,1004.00 L193.41,1003.15 L193.80,1002.27 L194.19,1001.34 L194.59,1000.38 L194.98,999.38 L195.37,998.33 L195.76,997.23 L196.15,996.08 L196.54,994.88 L196.93,993.63 L197.32,992.31 L197.72,990.94 L198.11,989.50 L198.50,987.98 L198.89,986.40 L199.28,984.74 L199.67,982.99 L200.06,981.16 L200.45,979.23 L200.84,977.21 L201.24,975.08 L201.63,972.84 L202.02,970.48 L202.41,968.00 L202.80,965.38 L203.19,962.63 L203.58,959.72 L203.97,956.66 L204.37,953.42 L204.76,950.01 L205.15,946.41 L205.54,942.60 L205.93,938.58 L206.32,934.34 L206.71,929.85 L207.10,925.11 L207.50,920.10 L207.89,914.80 L208.28,909.21 L208.67,903.30 L209.06,897.07 L209.45,890.49 L209.84,883.55 L210.23,876.24 L210.62,868.54 L211.02,860.46 L211.41,851.97 L211.80,843.08 L212.19,833.79 L212.58,824.10 L212.97,814.02 L213.36,803.58 L213.75,792.79 L214.15,781.71 L214.54,770.39 L214.93,758.87 L215.32,747.23 L215.71,735.57 L216.10,723.99 L216.49,712.59 L216.88,701.50 L217.28,690.85 L217.67,680.78 L218.06,671.43 L218.45,662.94 L218.84,655.43 L219.23,649.03 L219.62,643.82 L220.01,639.88 L220.40,637.27 L220.80,636.00 L221.19,636.06 L221.58,637.44 L221.97,640.06 L222.36,643.85 L222.75,648.71 L223.14,654.52 L223.53,661.17 L223.93,668.54 L224.32,676.51 L224.71,684.94 L225.10,693.73 L225.49,702.78 L225.88,711.99 L226.27,721.27 L226.66,730.56 L227.05,739.78 L227.45,748.89 L227.84,757.84 L228.23,766.59 L228.62,775.11 L229.01,783.40 L229.40,791.42 L229.79,799.17 L230.18,806.65 L230.58,813.85 L230.97,820.77 L231.36,827.41 L231.75,833.78 L232.14,839.88 L232.53,845.73 L232.92,851.32 L233.31,856.67 L233.71,861.78 L234.10,866.68 L234.49,871.35 L234.88,875.82 L235.27,880.09 L235.66,884.17 L236.05,888.07 L236.44,891.80 L236.83,895.36 L237.23,898.77 L237.62,902.03 L238.01,905.15 L238.40,908.13 L238.79,910.99 L239.18,913.72 L239.57,916.34 L239.96,918.84 L240.36,921.24 L240.75,923.54 L241.14,925.75 L241.53,927.86 L241.92,929.89 L242.31,931.83 L242.70,933.70 L243.09,935.49 L243.49,937.21 L243.88,938.86 L244.27,940.44 L244.66,941.97 L245.05,943.43 L245.44,944.84 L245.83,946.19 L246.22,947.49 L246.61,948.73 L247.01,949.94 L247.40,951.09 L247.79,952.20 L248.18,953.27 L248.57,954.30 L248.96,955.29 L249.35,956.24 L249.74,957.15 L250.14,958.03 L250.53,958.88 L250.92,959.70 L251.31,960.48 L251.70,961.24 L252.09,961.96 L252.48,962.66 L252.87,963.33 L253.26,963.98 L253.66,964.60 L254.05,965.20 L254.44,965.77 L254.83,966.32 L255.22,966.85 L255.61,967.36 L256.00,967.84 L256.39,968.31 L256.79,968.76 L257.18,969.19 L257.57,969.60 L257.96,969.99 L258.35,970.36 L258.74,970.72 L259.13,971.06 L259.52,971.39 L259.92,971.70 L260.31,971.99 L260.70,972.27 L261.09,972.54 L261.48,972.79 L261.87,973.03 L262.26,973.25 L262.65,973.46 L263.04,973.66 L263.44,973.84 L263.83,974.01 L264.22,974.17 L264.61,974.32 L265.00,974.45 L265.39,974.58 L265.78,974.69 L266.17,974.79 L266.57,974.87 L266.96,974.95 L267.35,975.02 L267.74,975.07 L268.13,975.12 L268.52,975.15 L268.91,975.17 L269.30,975.19 L269.70,975.19 L270.09,975.18 L270.48,975.16 L270.87,975.13 L271.26,975.10 L271.65,975.05 L272.04,974.99 L272.43,974.92 L272.82,974.84 L273.22,974.75 L273.61,974.65 L274.00,974.54 L274.39,974.43 L274.78,974.30 L275.17,974.16 L275.56,974.01 L275.95,973.85 L276.35,973.69 L276.74,973.51 L277.13,973.32 L277.52,973.12 L277.91,972.92 L278.30,972.70 L278.69,972.47 L279.08,972.23 L279.47,971.98 L279.87,971.73 L280.26,971.46 L280.65,971.18 L281.04,970.89 L281.43,970.59 L281.82,970.28 L282.21,969.96 L282.60,969.62 L283.00,969.28 L283.39,968.93 L283.78,968.56 L284.17,968.18 L284.56,967.80 L284.95,967.40 L285.34,966.99 L285.73,966.56 L286.13,966.13 L286.52,965.68 L286.91,965.23 L287.30,964.76 L287.69,964.27 L288.08,963.78 L288.47,963.27 L288.86,962.75 L289.25,962.22 L289.65,961.67 L290.04,961.11 L290.43,960.54 L290.82,959.96 L291.21,959.36 L291.60,958.75 L291.99,958.12 L292.38,957.48 L292.78,956.82 L293.17,956.16 L293.56,955.47 L293.95,954.78 L294.34,954.06 L294.73,953.34 L295.12,952.60 L295.51,951.84 L295.91,951.07 L296.30,950.28 L296.69,949.48 L297.08,948.66 L297.47,947.83 L297.86,946.98 L298.25,946.11 L298.64,945.23 L299.03,944.34 L299.43,943.43 L299.82,942.50 L300.21,941.56 L300.60,940.60 L300.99,939.62 L301.38,938.63 L301.77,937.62 L302.16,936.60 L302.56,935.56 L302.95,934.51 L303.34,933.44 L303.73,932.35 L304.12,931.25 L304.51,930.14 L304.90,929.01 L305.29,927.86 L305.68,926.70 L306.08,925.53 L306.47,924.35 L306.86,923.15 L307.25,921.94 L307.64,920.72 L308.03,919.48 L308.42,918.24 L308.81,916.98 L309.21,915.72 L309.60,914.44 L309.99,913.16 L310.38,911.87 L310.77,910.57 L311.16,909.27 L311.55,907.96 L311.94,906.65 L312.34,905.34 L312.73,904.02 L313.12,902.71 L313.51,901.39 L313.90,900.08 L314.29,898.77 L314.68,897.46 L315.07,896.16 L315.46,894.87 L315.86,893.58 L316.25,892.30 L316.64,891.04 L317.03,889.79 L317.42,888.56 L317.81,887.34 L318.20,886.13 L318.59,884.95 L318.99,883.79 L319.38,882.65 L319.77,881.54 L320.16,880.45 L320.55,879.39 L320.94,878.36 L321.33,877.36 L321.72,876.40 L322.11,875.46 L322.51,874.57 L322.90,873.70 L323.29,872.88 L323.68,872.10 L324.07,871.36 L324.46,870.66 L324.85,870.00 L325.24,869.39 L325.64,868.82 L326.03,868.30 L326.42,867.82 L326.81,867.39 L327.20,867.01 L327.59,866.68 L327.98,866.39 L328.37,866.16 L328.77,865.97 L329.16,865.83 L329.55,865.74 L329.94,865.70 L330.33,865.70 L330.72,865.76 L331.11,865.86 L331.50,866.01 L331.89,866.20 L332.29,866.44 L332.68,866.72 L333.07,867.05 L333.46,867.42 L333.85,867.83 L334.24,868.28 L334.63,868.76 L335.02,869.29 L335.42,869.85 L335.81,870.45 L336.20,871.07 L336.59,871.74 L336.98,872.43 L337.37,873.15 L337.76,873.89 L338.15,874.67 L338.55,875.47 L338.94,876.29 L339.33,877.13 L339.72,877.99 L340.11,878.87 L340.50,879.77 L340.89,880.69 L341.28,881.61 L341.67,882.55 L342.07,883.51 L342.46,884.47 L342.85,885.44 L343.24,886.42 L343.63,887.41 L344.02,888.40 L344.41,889.40 L344.80,890.40 L345.20,891.40 L345.59,892.41 L345.98,893.41 L346.37,894.42 L346.76,895.42 L347.15,896.42 L347.54,897.42 L347.93,898.41 L348.32,899.40 L348.72,900.38 L349.11,901.36 L349.50,902.33 L349.89,903.30 L350.28,904.26 L350.67,905.21 L351.06,906.15 L351.45,907.08 L351.85,908.01 L352.24,908.92 L352.63,909.82 L353.02,910.72 L353.41,911.60 L353.80,912.48 L354.19,913.34 L354.58,914.19 L354.98,915.03 L355.37,915.86 L355.76,916.67 L356.15,917.48 L356.54,918.27 L356.93,919.05 L357.32,919.82 L357.71,920.58 L358.10,921.32 L358.50,922.06 L358.89,922.78 L359.28,923.48 L359.67,924.18 L360.06,924.86 L360.45,925.53 L360.84,926.19 L361.23,926.83 L361.63,927.47 L362.02,928.09 L362.41,928.70 L362.80,929.29 L363.19,929.88 L363.58,930.45 L363.97,931.01 L364.36,931.56 L364.76,932.10 L365.15,932.62 L365.54,933.13 L365.93,933.64 L366.32,934.13 L366.71,934.60 L367.10,935.07 L367.49,935.53 L367.88,935.97 L368.28,936.40 L368.67,936.83 L369.06,937.24 L369.45,937.64 L369.84,938.03 L370.23,938.41 L370.62,938.77 L371.01,939.13 L371.41,939.48 L371.80,939.82 L372.19,940.14 L372.58,940.46 L372.97,940.76 L373.36,941.06 L373.75,941.35 L374.14,941.62 L374.53,941.89 L374.93,942.15 L375.32,942.39 L375.71,942.63 L376.10,942.86 L376.49,943.08 L376.88,943.29 L377.27,943.49 L377.66,943.68 L378.06,943.86 L378.45,944.03 L378.84,944.20 L379.23,944.35 L379.62,944.50 L380.01,944.64 L380.40,944.77 L380.79,944.89 L381.19,945.00 L381.58,945.10 L381.97,945.19 L382.36,945.28 L382.75,945.36 L383.14,945.43 L383.53,945.49 L383.92,945.54 L384.31,945.58 L384.71,945.62 L385.10,945.65 L385.49,945.67 L385.88,945.68 L386.27,945.68 L386.66,945.68 L387.05,945.67 L387.44,945.65 L387.84,945.62 L388.23,945.59 L388.62,945.54 L389.01,945.49 L389.40,945.43 L389.79,945.37 L390.18,945.29 L390.57,945.21 L390.97,945.12 L391.36,945.02 L391.75,944.92 L392.14,944.81 L392.53,944.69 L392.92,944.56 L393.31,944.43 L393.70,944.29 L394.09,944.14 L394.49,943.98 L394.88,943.82 L395.27,943.65 L395.66,943.47 L396.05,943.29 L396.44,943.09 L396.83,942.89 L397.22,942.69 L397.62,942.47 L398.01,942.25 L398.40,942.02 L398.79,941.79 L399.18,941.55 L399.57,941.30 L399.96,941.04 L400.35,940.78 L400.74,940.51 L401.14,940.23 L401.53,939.95 L401.92,939.66 L402.31,939.36 L402.70,939.06 L403.09,938.75 L403.48,938.43 L403.87,938.11 L404.27,937.78 L404.66,937.44 L405.05,937.10 L405.44,936.75 L405.83,936.40 L406.22,936.03 L406.61,935.67 L407.00,935.29 L407.40,934.91 L407.79,934.53 L408.18,934.14 L408.57,933.74 L408.96,933.34 L409.35,932.93 L409.74,932.51 L410.13,932.09 L410.52,931.67 L410.92,931.24 L411.31,930.81 L411.70,930.37 L412.09,929.92 L412.48,929.47 L412.87,929.02 L413.26,928.56 L413.65,928.09 L414.05,927.63 L414.44,927.16 L414.83,926.68 L415.22,926.20 L415.61,925.72 L416.00,925.23 L416.39,924.75 L416.78,924.25 L417.18,923.76 L417.57,923.26 L417.96,922.76 L418.35,922.26 L418.74,921.75 L419.13,921.25 L419.52,920.74 L419.91,920.23 L420.30,919.72 L420.70,919.21 L421.09,918.70 L421.48,918.19 L421.87,917.68 L422.26,917.16 L422.65,916.65 L423.04,916.14 L423.43,915.63 L423.83,915.12 L424.22,914.62 L424.61,914.11 L425.00,913.61 L425.39,913.11 L425.78,912.61 L426.17,912.11 L426.56,911.62 L426.95,911.13 L427.35,910.65 L427.74,910.17 L428.13,909.69 L428.52,909.22 L428.91,908.76 L429.30,908.30 L429.69,907.85 L430.08,907.40 L430.48,906.96 L430.87,906.52 L431.26,906.10 L431.65,905.68 L432.04,905.27 L432.43,904.86 L432.82,904.47 L433.21,904.08 L433.61,903.71 L434.00,903.34 L434.39,902.98 L434.78,902.63 L435.17,902.29 L435.56,901.97 L435.95,901.65 L436.34,901.34 L436.73,901.05 L437.13,900.77 L437.52,900.49 L437.91,900.23 L438.30,899.99 L438.69,899.75 L439.08,899.53 L439.47,899.32 L439.86,899.12 L440.26,898.93 L440.65,898.76 L441.04,898.60 L441.43,898.45 L441.82,898.32 L442.21,898.20 L442.60,898.09 L442.99,898.00 L443.39,897.92 L443.78,897.86 L444.17,897.80 L444.56,897.77 L444.95,897.74 L445.34,897.73 L445.73,897.73 L446.12,897.74 L446.51,897.77 L446.91,897.81 L447.30,897.87 L447.69,897.93 L448.08,898.01 L448.47,898.10 L448.86,898.21 L449.25,898.32 L449.64,898.45 L450.04,898.59 L450.43,898.75 L450.82,898.91 L451.21,899.08 L451.60,899.27 L451.99,899.47 L452.38,899.68 L452.77,899.89 L453.16,900.12 L453.56,900.36 L453.95,900.61 L454.34,900.86 L454.73,901.13 L455.12,901.40 L455.51,901.69 L455.90,901.98 L456.29,902.28 L456.69,902.58 L457.08,902.90 L457.47,903.22 L457.86,903.54 L458.25,903.88 L458.64,904.22 L459.03,904.56 L459.42,904.91 L459.82,905.27 L460.21,905.63 L460.60,906.00 L460.99,906.37 L461.38,906.74 L461.77,907.12 L462.16,907.50 L462.55,907.88 L462.94,908.27 L463.34,908.66 L463.73,909.05 L464.12,909.45 L464.51,909.84 L464.90,910.24 L465.29,910.64 L465.68,911.04 L466.07,911.44 L466.47,911.84 L466.86,912.24 L467.25,912.64 L467.64,913.05 L468.03,913.45 L468.42,913.85 L468.81,914.25 L469.20,914.65 L469.59,915.05 L469.99,915.44 L470.38,915.84 L470.77,916.23 L471.16,916.62 L471.55,917.01 L471.94,917.40 L472.33,917.79 L472.72,918.17 L473.12,918.55 L473.51,918.93 L473.90,919.30 L474.29,919.67 L474.68,920.04 L475.07,920.41 L475.46,920.77 L475.85,921.13 L476.25,921.48 L476.64,921.83 L477.03,922.18 L477.42,922.52 L477.81,922.86 L478.20,923.19 L478.59,923.53 L478.98,923.85 L479.37,924.17 L479.77,924.49 L480.16,924.80 L480.55,925.11 L480.94,925.42 L481.33,925.72 L481.72,926.01 L482.11,926.30 L482.50,926.58 L482.90,926.86 L483.29,927.14 L483.68,927.41 L484.07,927.67 L484.46,927.93 L484.85,928.19 L485.24,928.44 L485.63,928.68 L486.03,928.92 L486.42,929.16 L486.81,929.39 L487.20,929.61 L487.59,929.83 L487.98,930.04 L488.37,930.25 L488.76,930.45 L489.15,930.65 L489.55,930.84 L489.94,931.03 L490.33,931.21 L490.72,931.38 L491.11,931.55 L491.50,931.72 L491.89,931.88 L492.28,932.03 L492.68,932.18 L493.07,932.32 L493.46,932.46 L493.85,932.59 L494.24,932.72 L494.63,932.84 L495.02,932.96 L495.41,933.07 L495.80,933.18 L496.20,933.28 L496.59,933.37 L496.98,933.46 L497.37,933.54 L497.76,933.62 L498.15,933.70 L498.54,933.76 L498.93,933.83 L499.33,933.88 L499.72,933.94 L500.11,933.98 L500.50,934.02 L500.89,934.06 L501.28,934.09 L501.67,934.12 L502.06,934.14 L502.46,934.15 L502.85,934.16 L503.24,934.17 L503.63,934.17 L504.02,934.16 L504.41,934.15 L504.80,934.14 L505.19,934.12 L505.58,934.09 L505.98,934.06 L506.37,934.03 L506.76,933.99 L507.15,933.94 L507.54,933.89 L507.93,933.83 L508.32,933.77 L508.71,933.71 L509.11,933.64 L509.50,933.57 L509.89,933.49 L510.28,933.40 L510.67,933.31 L511.06,933.22 L511.45,933.12 L511.84,933.02 L512.24,932.91 L512.63,932.80 L513.02,932.68 L513.41,932.56 L513.80,932.44 L514.19,932.31 L514.58,932.17 L514.97,932.03 L515.36,931.89 L515.76,931.75 L516.15,931.59 L516.54,931.44 L516.93,931.28 L517.32,931.12 L517.71,930.95 L518.10,930.78 L518.49,930.60 L518.89,930.42 L519.28,930.24 L519.67,930.05 L520.06,929.86 L520.45,929.67 L520.84,929.47 L521.23,929.27 L521.62,929.06 L522.01,928.85 L522.41,928.64 L522.80,928.43 L523.19,928.21 L523.58,927.99 L523.97,927.76 L524.36,927.53 L524.75,927.30 L525.14,927.07 L525.54,926.83 L525.93,926.60 L526.32,926.35 L526.71,926.11 L527.10,925.86 L527.49,925.61 L527.88,925.36 L528.27,925.11 L528.67,924.85 L529.06,924.60 L529.45,924.34 L529.84,924.08 L530.23,923.81 L530.62,923.55 L531.01,923.28 L531.40,923.02 L531.79,922.75 L532.19,922.48 L532.58,922.21 L532.97,921.93 L533.36,921.66 L533.75,921.39 L534.14,921.11 L534.53,920.84 L534.92,920.56 L535.32,920.29 L535.71,920.01 L536.10,919.74 L536.49,919.46 L536.88,919.18 L537.27,918.91 L537.66,918.64 L538.05,918.36 L538.45,918.09 L538.84,917.82 L539.23,917.55 L539.62,917.28 L540.01,917.01 L540.40,916.74 L540.79,916.47 L541.18,916.21 L541.57,915.95 L541.97,915.69 L542.36,915.43 L542.75,915.17 L543.14,914.92 L543.53,914.67 L543.92,914.42 L544.31,914.17 L544.70,913.93 L545.10,913.69 L545.49,913.46 L545.88,913.22 L546.27,912.99 L546.66,912.77 L547.05,912.55 L547.44,912.33 L547.83,912.11 L548.22,911.90 L548.62,911.70 L549.01,911.49 L549.40,911.30 L549.79,911.10 L550.18,910.92 L550.57,910.73 L550.96,910.56 L551.35,910.38 L551.75,910.21 L552.14,910.05 L552.53,909.89 L552.92,909.74 L553.31,909.60 L553.70,909.45 L554.09,909.32 L554.48,909.19 L554.88,909.07 L555.27,908.95 L555.66,908.84 L556.05,908.73 L556.44,908.63 L556.83,908.54 L557.22,908.45 L557.61,908.37 L558.00,908.29 L558.40,908.22 L558.79,908.16 L559.18,908.10 L559.57,908.05 L559.96,908.01 L560.35,907.97 L560.74,907.94 L561.13,907.92 L561.53,907.90 L561.92,907.89 L562.31,907.88 L562.70,907.88 L563.09,907.89 L563.48,907.90 L563.87,907.92 L564.26,907.95 L564.66,907.98 L565.05,908.02 L565.44,908.06 L565.83,908.11 L566.22,908.17 L566.61,908.23 L567.00,908.30 L567.39,908.37 L567.78,908.45 L568.18,908.54 L568.57,908.63 L568.96,908.72 L569.35,908.83 L569.74,908.93 L570.13,909.04 L570.52,909.16 L570.91,909.28 L571.31,909.41 L571.70,909.54 L572.09,909.68 L572.48,909.82 L572.87,909.96 L573.26,910.11 L573.65,910.27 L574.04,910.42 L574.43,910.59 L574.83,910.75 L575.22,910.92 L575.61,911.09 L576.00,911.27 L576.39,911.45 L576.78,911.63 L577.17,911.82 L577.56,912.01 L577.96,912.20 L578.35,912.40 L578.74,912.59 L579.13,912.79 L579.52,913.00 L579.91,913.20 L580.30,913.41 L580.69,913.62 L581.09,913.83 L581.48,914.04 L581.87,914.25 L582.26,914.47 L582.65,914.69 L583.04,914.90 L583.43,915.12 L583.82,915.34 L584.21,915.56 L584.61,915.79 L585.00,916.01 L585.39,916.23 L585.78,916.46 L586.17,916.68 L586.56,916.90 L586.95,917.13 L587.34,917.35 L587.74,917.57 L588.13,917.80 L588.52,918.02 L588.91,918.24 L589.30,918.47 L589.69,918.69 L590.08,918.91 L590.47,919.13 L590.86,919.35 L591.26,919.57 L591.65,919.78 L592.04,920.00 L592.43,920.21 L592.82,920.43 L593.21,920.64 L593.60,920.85 L593.99,921.06 L594.39,921.27 L594.78,921.47 L595.17,921.68 L595.56,921.88 L595.95,922.08 L596.34,922.28 L596.73,922.47 L597.12,922.66 L597.52,922.86 L597.91,923.04 L598.30,923.23 L598.69,923.42 L599.08,923.60 L599.47,923.78 L599.86,923.95 L600.25,924.13 L600.64,924.30 L601.04,924.47 L601.43,924.64 L601.82,924.80 L602.21,924.96 L602.60,925.12 L602.99,925.27 L603.38,925.43 L603.77,925.57 L604.17,925.72 L604.56,925.86 L604.95,926.00 L605.34,926.14 L605.73,926.28 L606.12,926.41 L606.51,926.53 L606.90,926.66 L607.30,926.78 L607.69,926.90 L608.08,927.01 L608.47,927.12 L608.86,927.23 L609.25,927.34 L609.64,927.44 L610.03,927.53 L610.42,927.63 L610.82,927.72 L611.21,927.81 L611.60,927.89 L611.99,927.97 L612.38,928.05 L612.77,928.12 L613.16,928.20 L613.55,928.26 L613.95,928.33 L614.34,928.39 L614.73,928.44 L615.12,928.50 L615.51,928.55 L615.90,928.59 L616.29,928.63 L616.68,928.67 L617.07,928.71 L617.47,928.74 L617.86,928.77 L618.25,928.80 L618.64,928.82 L619.03,928.84 L619.42,928.85 L619.81,928.86 L620.20,928.87 L620.60,928.87 L620.99,928.88 L621.38,928.87 L621.77,928.87 L622.16,928.86 L622.55,928.85 L622.94,928.83 L623.33,928.81 L623.73,928.79 L624.12,928.76 L624.51,928.73 L624.90,928.70 L625.29,928.66 L625.68,928.63 L626.07,928.58 L626.46,928.54 L626.85,928.49 L627.25,928.44 L627.64,928.38 L628.03,928.32 L628.42,928.26 L628.81,928.20 L629.20,928.13 L629.59,928.06 L629.98,927.98 L630.38,927.91 L630.77,927.83 L631.16,927.75 L631.55,927.66 L631.94,927.57 L632.33,927.48 L632.72,927.39 L633.11,927.29 L633.51,927.19 L633.90,927.09 L634.29,926.98 L634.68,926.88 L635.07,926.76 L635.46,926.65 L635.85,926.54 L636.24,926.42 L636.63,926.30 L637.03,926.18 L637.42,926.05 L637.81,925.92 L638.20,925.80 L638.59,925.66 L638.98,925.53 L639.37,925.39 L639.76,925.26 L640.16,925.12 L640.55,924.97 L640.94,924.83 L641.33,924.69 L641.72,924.54 L642.11,924.39 L642.50,924.24 L642.89,924.09 L643.28,923.93 L643.68,923.78 L644.07,923.62 L644.46,923.46 L644.85,923.30 L645.24,923.14 L645.63,922.98 L646.02,922.81 L646.41,922.65 L646.81,922.48 L647.20,922.32 L647.59,922.15 L647.98,921.98 L648.37,921.81 L648.76,921.64 L649.15,921.47 L649.54,921.30 L649.94,921.13 L650.33,920.96 L650.72,920.79 L651.11,920.62 L651.50,920.44" fill="none" stroke="#2a9fd6" stroke-width="2.3" stroke-linejoin="round"/>
<path d="M88.22,1029.92 L89.81,1029.92 L91.40,1029.92 L92.99,1029.92 L94.58,1029.91 L96.17,1029.91 L97.76,1029.90 L99.36,1029.89 L100.95,1029.88 L102.54,1029.87 L104.13,1029.86 L105.72,1029.84 L107.31,1029.82 L108.90,1029.81 L110.49,1029.79 L112.08,1029.77 L113.67,1029.74 L115.26,1029.72 L116.86,1029.69 L118.45,1029.66 L120.04,1029.63 L121.63,1029.60 L123.22,1029.56 L124.81,1029.52 L126.40,1029.48 L127.99,1029.43 L129.58,1029.38 L131.17,1029.33 L132.76,1029.27 L134.36,1029.21 L135.95,1029.14 L137.54,1029.07 L139.13,1029.00 L140.72,1028.92 L142.31,1028.83 L143.90,1028.73 L145.49,1028.63 L147.08,1028.52 L148.67,1028.40 L150.26,1028.27 L151.86,1028.13 L153.45,1027.98 L155.04,1027.82 L156.63,1027.64 L158.22,1027.44 L159.81,1027.23 L161.40,1026.99 L162.99,1026.74 L164.58,1026.45 L166.17,1026.14 L167.77,1025.80 L169.36,1025.42 L170.95,1025.00 L172.54,1024.53 L174.13,1024.01 L175.72,1023.43 L177.31,1022.78 L178.90,1022.04 L180.49,1021.21 L182.08,1020.27 L182.46,1020.02 L182.85,1019.77 L183.24,1019.50 L183.63,1019.22 L184.02,1018.93 L184.41,1018.64 L184.81,1018.33 L185.20,1018.02 L185.59,1017.69 L185.98,1017.35 L186.37,1017.00 L186.76,1016.64 L187.15,1016.26 L187.54,1015.87 L187.94,1015.46 L188.33,1015.04 L188.72,1014.61 L189.11,1014.16 L189.50,1013.69 L189.89,1013.20 L190.28,1012.69 L190.67,1012.17 L191.07,1011.62 L191.46,1011.05 L191.85,1010.46 L192.24,1009.85 L192.63,1009.21 L193.02,1008.54 L193.41,1007.84 L193.80,1007.12 L194.19,1006.36 L194.59,1005.57 L194.98,1004.75 L195.37,1003.89 L195.76,1002.99 L196.15,1002.05 L196.54,1001.07 L196.93,1000.04 L197.32,998.97 L197.72,997.84 L198.11,996.66 L198.50,995.42 L198.89,994.12 L199.28,992.76 L199.67,991.33 L200.06,989.83 L200.45,988.26 L200.84,986.60 L201.24,984.85 L201.63,983.02 L202.02,981.08 L202.41,979.04 L202.80,976.89 L203.19,974.62 L203.58,972.23 L203.97,969.70 L204.37,967.03 L204.76,964.21 L205.15,961.22 L205.54,958.06 L205.93,954.71 L206.32,951.16 L206.71,947.40 L207.10,943.42 L207.50,939.19 L207.89,934.71 L208.28,929.95 L208.67,924.89 L209.06,919.53 L209.45,913.83 L209.84,907.78 L210.23,901.35 L210.62,894.54 L211.02,887.30 L211.41,879.63 L211.80,871.50 L212.19,862.89 L212.58,853.78 L212.97,844.17 L213.36,834.03 L213.75,823.38 L214.15,812.19 L214.54,800.50 L214.93,788.31 L215.32,775.67 L215.71,762.61 L216.10,749.20 L216.49,735.52 L216.88,721.68 L217.28,707.80 L217.67,694.02 L218.06,680.49 L218.45,667.41 L218.84,654.96 L219.23,643.34 L219.62,632.75 L220.01,623.39 L220.40,615.42 L220.80,608.99 L221.19,604.22 L221.58,601.19 L221.97,599.92 L222.36,600.41 L222.75,602.60 L223.14,606.41 L223.53,611.69 L223.93,618.31 L224.32,626.09 L224.71,634.86 L225.10,644.43 L225.49,654.65 L225.88,665.33 L226.27,676.34 L226.66,687.53 L227.05,698.78 L227.45,710.00 L227.84,721.10 L228.23,732.00 L228.62,742.66 L229.01,753.02 L229.40,763.06 L229.79,772.76 L230.18,782.10 L230.58,791.06 L230.97,799.66 L231.36,807.88 L231.75,815.74 L232.14,823.24 L232.53,830.39 L232.92,837.21 L233.31,843.70 L233.71,849.89 L234.10,855.77 L234.49,861.37 L234.88,866.70 L235.27,871.77 L235.66,876.59 L236.05,881.19 L236.44,885.56 L236.83,889.72 L237.23,893.68 L237.62,897.46 L238.01,901.05 L238.40,904.48 L238.79,907.75 L239.18,910.87 L239.57,913.85 L239.96,916.69 L240.36,919.40 L240.75,921.99 L241.14,924.47 L241.53,926.83 L241.92,929.09 L242.31,931.26 L242.70,933.33 L243.09,935.31 L243.49,937.21 L243.88,939.03 L244.27,940.77 L244.66,942.44 L245.05,944.04 L245.44,945.58 L245.83,947.05 L246.22,948.46 L246.61,949.82 L247.01,951.12 L247.40,952.37 L247.79,953.57 L248.18,954.72 L248.57,955.83 L248.96,956.89 L249.35,957.91 L249.74,958.89 L250.14,959.84 L250.53,960.74 L250.92,961.61 L251.31,962.45 L251.70,963.26 L252.09,964.03 L252.48,964.77 L252.87,965.49 L253.26,966.18 L253.66,966.84 L254.05,967.47 L254.44,968.08 L254.83,968.66 L255.22,969.22 L255.61,969.76 L256.00,970.28 L256.39,970.77 L256.79,971.25 L257.18,971.71 L257.57,972.14 L257.96,972.56 L258.35,972.96 L258.74,973.34 L259.13,973.70 L259.52,974.05 L259.92,974.38 L260.31,974.70 L260.70,975.00 L261.09,975.28 L261.48,975.55 L261.87,975.81 L262.26,976.05 L262.65,976.28 L263.04,976.49 L263.44,976.69 L263.83,976.88 L264.22,977.06 L264.61,977.22 L265.00,977.37 L265.39,977.51 L265.78,977.64 L266.17,977.75 L266.57,977.86 L266.96,977.95 L267.35,978.03 L267.74,978.11 L268.13,978.17 L268.52,978.22 L268.91,978.25 L269.30,978.28 L269.70,978.30 L270.09,978.31 L270.48,978.31 L270.87,978.29 L271.26,978.27 L271.65,978.24 L272.04,978.20 L272.43,978.14 L272.82,978.08 L273.22,978.01 L273.61,977.93 L274.00,977.83 L274.39,977.73 L274.78,977.62 L275.17,977.50 L275.56,977.37 L275.95,977.23 L276.35,977.08 L276.74,976.92 L277.13,976.75 L277.52,976.57 L277.91,976.38 L278.30,976.18 L278.69,975.97 L279.08,975.75 L279.47,975.52 L279.87,975.27 L280.26,975.02 L280.65,974.76 L281.04,974.49 L281.43,974.21 L281.82,973.92 L282.21,973.61 L282.60,973.30 L283.00,972.98 L283.39,972.64 L283.78,972.29 L284.17,971.94 L284.56,971.57 L284.95,971.19 L285.34,970.79 L285.73,970.39 L286.13,969.97 L286.52,969.55 L286.91,969.11 L287.30,968.65 L287.69,968.19 L288.08,967.71 L288.47,967.22 L288.86,966.72 L289.25,966.20 L289.65,965.67 L290.04,965.13 L290.43,964.58 L290.82,964.01 L291.21,963.42 L291.60,962.83 L291.99,962.21 L292.38,961.59 L292.78,960.95 L293.17,960.29 L293.56,959.62 L293.95,958.93 L294.34,958.23 L294.73,957.51 L295.12,956.78 L295.51,956.03 L295.91,955.26 L296.30,954.48 L296.69,953.68 L297.08,952.87 L297.47,952.04 L297.86,951.19 L298.25,950.32 L298.64,949.44 L299.03,948.54 L299.43,947.62 L299.82,946.68 L300.21,945.73 L300.60,944.76 L300.99,943.77 L301.38,942.76 L301.77,941.73 L302.16,940.69 L302.56,939.62 L302.95,938.54 L303.34,937.44 L303.73,936.32 L304.12,935.19 L304.51,934.03 L304.90,932.86 L305.29,931.67 L305.68,930.46 L306.08,929.24 L306.47,927.99 L306.86,926.74 L307.25,925.46 L307.64,924.17 L308.03,922.86 L308.42,921.53 L308.81,920.20 L309.21,918.84 L309.60,917.48 L309.99,916.10 L310.38,914.70 L310.77,913.30 L311.16,911.89 L311.55,910.46 L311.94,909.03 L312.34,907.58 L312.73,906.13 L313.12,904.68 L313.51,903.22 L313.90,901.76 L314.29,900.29 L314.68,898.83 L315.07,897.36 L315.46,895.90 L315.86,894.44 L316.25,892.98 L316.64,891.54 L317.03,890.10 L317.42,888.67 L317.81,887.26 L318.20,885.86 L318.59,884.47 L318.99,883.11 L319.38,881.76 L319.77,880.44 L320.16,879.14 L320.55,877.87 L320.94,876.62 L321.33,875.41 L321.72,874.23 L322.11,873.08 L322.51,871.97 L322.90,870.90 L323.29,869.86 L323.68,868.87 L324.07,867.93 L324.46,867.03 L324.85,866.17 L325.24,865.37 L325.64,864.61 L326.03,863.91 L326.42,863.25 L326.81,862.66 L327.20,862.11 L327.59,861.62 L327.98,861.19 L328.37,860.81 L328.77,860.50 L329.16,860.23 L329.55,860.03 L329.94,859.88 L330.33,859.79 L330.72,859.76 L331.11,859.79 L331.50,859.87 L331.89,860.00 L332.29,860.19 L332.68,860.43 L333.07,860.73 L333.46,861.08 L333.85,861.48 L334.24,861.92 L334.63,862.42 L335.02,862.96 L335.42,863.54 L335.81,864.17 L336.20,864.84 L336.59,865.55 L336.98,866.29 L337.37,867.08 L337.76,867.89 L338.15,868.74 L338.55,869.62 L338.94,870.52 L339.33,871.46 L339.72,872.41 L340.11,873.39 L340.50,874.40 L340.89,875.42 L341.28,876.46 L341.67,877.51 L342.07,878.58 L342.46,879.66 L342.85,880.76 L343.24,881.86 L343.63,882.97 L344.02,884.09 L344.41,885.21 L344.80,886.34 L345.20,887.46 L345.59,888.60 L345.98,889.73 L346.37,890.86 L346.76,891.99 L347.15,893.11 L347.54,894.23 L347.93,895.35 L348.32,896.46 L348.72,897.57 L349.11,898.67 L349.50,899.76 L349.89,900.84 L350.28,901.92 L350.67,902.98 L351.06,904.04 L351.45,905.08 L351.85,906.12 L352.24,907.14 L352.63,908.15 L353.02,909.14 L353.41,910.13 L353.80,911.10 L354.19,912.06 L354.58,913.01 L354.98,913.94 L355.37,914.86 L355.76,915.77 L356.15,916.66 L356.54,917.54 L356.93,918.41 L357.32,919.26 L357.71,920.09 L358.10,920.92 L358.50,921.72 L358.89,922.52 L359.28,923.30 L359.67,924.06 L360.06,924.82 L360.45,925.55 L360.84,926.28 L361.23,926.99 L361.63,927.68 L362.02,928.36 L362.41,929.03 L362.80,929.69 L363.19,930.33 L363.58,930.95 L363.97,931.57 L364.36,932.17 L364.76,932.75 L365.15,933.33 L365.54,933.89 L365.93,934.43 L366.32,934.97 L366.71,935.49 L367.10,936.00 L367.49,936.50 L367.88,936.98 L368.28,937.45 L368.67,937.92 L369.06,938.36 L369.45,938.80 L369.84,939.22 L370.23,939.64 L370.62,940.04 L371.01,940.43 L371.41,940.81 L371.80,941.17 L372.19,941.53 L372.58,941.87 L372.97,942.21 L373.36,942.53 L373.75,942.84 L374.14,943.15 L374.53,943.44 L374.93,943.72 L375.32,943.99 L375.71,944.25 L376.10,944.50 L376.49,944.74 L376.88,944.97 L377.27,945.19 L377.66,945.40 L378.06,945.60 L378.45,945.79 L378.84,945.97 L379.23,946.15 L379.62,946.31 L380.01,946.46 L380.40,946.61 L380.79,946.74 L381.19,946.87 L381.58,946.99 L381.97,947.09 L382.36,947.19 L382.75,947.28 L383.14,947.36 L383.53,947.44 L383.92,947.50 L384.31,947.56 L384.71,947.60 L385.10,947.64 L385.49,947.67 L385.88,947.69 L386.27,947.71 L386.66,947.71 L387.05,947.71 L387.44,947.70 L387.84,947.68 L388.23,947.65 L388.62,947.61 L389.01,947.57 L389.40,947.51 L389.79,947.45 L390.18,947.38 L390.57,947.31 L390.97,947.22 L391.36,947.13 L391.75,947.03 L392.14,946.92 L392.53,946.80 L392.92,946.68 L393.31,946.55 L393.70,946.41 L394.09,946.26 L394.49,946.10 L394.88,945.94 L395.27,945.77 L395.66,945.59 L396.05,945.40 L396.44,945.21 L396.83,945.01 L397.22,944.80 L397.62,944.58 L398.01,944.36 L398.40,944.12 L398.79,943.88 L399.18,943.64 L399.57,943.38 L399.96,943.12 L400.35,942.85 L400.74,942.57 L401.14,942.29 L401.53,942.00 L401.92,941.70 L402.31,941.39 L402.70,941.08 L403.09,940.76 L403.48,940.43 L403.87,940.10 L404.27,939.75 L404.66,939.40 L405.05,939.05 L405.44,938.68 L405.83,938.31 L406.22,937.94 L406.61,937.55 L407.00,937.16 L407.40,936.77 L407.79,936.36 L408.18,935.95 L408.57,935.53 L408.96,935.11 L409.35,934.68 L409.74,934.24 L410.13,933.80 L410.52,933.35 L410.92,932.90 L411.31,932.44 L411.70,931.97 L412.09,931.50 L412.48,931.02 L412.87,930.54 L413.26,930.05 L413.65,929.56 L414.05,929.06 L414.44,928.55 L414.83,928.05 L415.22,927.53 L415.61,927.02 L416.00,926.49 L416.39,925.97 L416.78,925.44 L417.18,924.91 L417.57,924.37 L417.96,923.83 L418.35,923.29 L418.74,922.74 L419.13,922.19 L419.52,921.64 L419.91,921.08 L420.30,920.53 L420.70,919.97 L421.09,919.41 L421.48,918.85 L421.87,918.29 L422.26,917.73 L422.65,917.17 L423.04,916.61 L423.43,916.04 L423.83,915.48 L424.22,914.92 L424.61,914.36 L425.00,913.81 L425.39,913.25 L425.78,912.70 L426.17,912.15 L426.56,911.60 L426.95,911.05 L427.35,910.51 L427.74,909.97 L428.13,909.44 L428.52,908.91 L428.91,908.39 L429.30,907.87 L429.69,907.36 L430.08,906.85 L430.48,906.35 L430.87,905.86 L431.26,905.38 L431.65,904.90 L432.04,904.43 L432.43,903.97 L432.82,903.52 L433.21,903.07 L433.61,902.64 L434.00,902.21 L434.39,901.80 L434.78,901.40 L435.17,901.00 L435.56,900.62 L435.95,900.25 L436.34,899.90 L436.73,899.55 L437.13,899.22 L437.52,898.90 L437.91,898.59 L438.30,898.29 L438.69,898.01 L439.08,897.75 L439.47,897.49 L439.86,897.25 L440.26,897.03 L440.65,896.82 L441.04,896.62 L441.43,896.44 L441.82,896.27 L442.21,896.12 L442.60,895.99 L442.99,895.86 L443.39,895.76 L443.78,895.67 L444.17,895.59 L444.56,895.53 L444.95,895.49 L445.34,895.46 L445.73,895.44 L446.12,895.44 L446.51,895.46 L446.91,895.49 L447.30,895.53 L447.69,895.60 L448.08,895.67 L448.47,895.76 L448.86,895.86 L449.25,895.98 L449.64,896.11 L450.04,896.26 L450.43,896.42 L450.82,896.59 L451.21,896.77 L451.60,896.97 L451.99,897.18 L452.38,897.40 L452.77,897.64 L453.16,897.88 L453.56,898.14 L453.95,898.41 L454.34,898.68 L454.73,898.97 L455.12,899.27 L455.51,899.58 L455.90,899.90 L456.29,900.23 L456.69,900.56 L457.08,900.91 L457.47,901.26 L457.86,901.62 L458.25,901.99 L458.64,902.36 L459.03,902.74 L459.42,903.13 L459.82,903.52 L460.21,903.92 L460.60,904.32 L460.99,904.73 L461.38,905.14 L461.77,905.56 L462.16,905.98 L462.55,906.40 L462.94,906.83 L463.34,907.26 L463.73,907.70 L464.12,908.13 L464.51,908.57 L464.90,909.01 L465.29,909.45 L465.68,909.89 L466.07,910.34 L466.47,910.78 L466.86,911.22 L467.25,911.67 L467.64,912.11 L468.03,912.55 L468.42,913.00 L468.81,913.44 L469.20,913.88 L469.59,914.32 L469.99,914.76 L470.38,915.19 L470.77,915.63 L471.16,916.06 L471.55,916.49 L471.94,916.91 L472.33,917.34 L472.72,917.76 L473.12,918.18 L473.51,918.60 L473.90,919.01 L474.29,919.42 L474.68,919.82 L475.07,920.22 L475.46,920.62 L475.85,921.01 L476.25,921.40 L476.64,921.79 L477.03,922.17 L477.42,922.55 L477.81,922.92 L478.20,923.29 L478.59,923.65 L478.98,924.01 L479.37,924.36 L479.77,924.71 L480.16,925.05 L480.55,925.39 L480.94,925.72 L481.33,926.05 L481.72,926.38 L482.11,926.69 L482.50,927.00 L482.90,927.31 L483.29,927.61 L483.68,927.91 L484.07,928.20 L484.46,928.48 L484.85,928.76 L485.24,929.04 L485.63,929.30 L486.03,929.57 L486.42,929.82 L486.81,930.07 L487.20,930.32 L487.59,930.56 L487.98,930.79 L488.37,931.02 L488.76,931.24 L489.15,931.46 L489.55,931.67 L489.94,931.87 L490.33,932.07 L490.72,932.27 L491.11,932.45 L491.50,932.63 L491.89,932.81 L492.28,932.98 L492.68,933.14 L493.07,933.30 L493.46,933.45 L493.85,933.60 L494.24,933.74 L494.63,933.87 L495.02,934.00 L495.41,934.13 L495.80,934.24 L496.20,934.36 L496.59,934.46 L496.98,934.56 L497.37,934.66 L497.76,934.74 L498.15,934.83 L498.54,934.90 L498.93,934.97 L499.33,935.04 L499.72,935.10 L500.11,935.15 L500.50,935.20 L500.89,935.25 L501.28,935.28 L501.67,935.32 L502.06,935.34 L502.46,935.36 L502.85,935.38 L503.24,935.39 L503.63,935.39 L504.02,935.39 L504.41,935.38 L504.80,935.37 L505.19,935.35 L505.58,935.33 L505.98,935.30 L506.37,935.27 L506.76,935.23 L507.15,935.19 L507.54,935.14 L507.93,935.08 L508.32,935.02 L508.71,934.96 L509.11,934.88 L509.50,934.81 L509.89,934.73 L510.28,934.64 L510.67,934.55 L511.06,934.45 L511.45,934.35 L511.84,934.25 L512.24,934.14 L512.63,934.02 L513.02,933.90 L513.41,933.77 L513.80,933.64 L514.19,933.51 L514.58,933.37 L514.97,933.22 L515.36,933.07 L515.76,932.92 L516.15,932.76 L516.54,932.60 L516.93,932.43 L517.32,932.26 L517.71,932.08 L518.10,931.90 L518.49,931.71 L518.89,931.52 L519.28,931.33 L519.67,931.13 L520.06,930.93 L520.45,930.72 L520.84,930.51 L521.23,930.30 L521.62,930.08 L522.01,929.86 L522.41,929.63 L522.80,929.40 L523.19,929.17 L523.58,928.94 L523.97,928.70 L524.36,928.45 L524.75,928.21 L525.14,927.96 L525.54,927.70 L525.93,927.45 L526.32,927.19 L526.71,926.92 L527.10,926.66 L527.49,926.39 L527.88,926.12 L528.27,925.85 L528.67,925.57 L529.06,925.30 L529.45,925.01 L529.84,924.73 L530.23,924.45 L530.62,924.16 L531.01,923.87 L531.40,923.58 L531.79,923.29 L532.19,923.00 L532.58,922.70 L532.97,922.41 L533.36,922.11 L533.75,921.81 L534.14,921.51 L534.53,921.21 L534.92,920.91 L535.32,920.61 L535.71,920.31 L536.10,920.01 L536.49,919.71 L536.88,919.41 L537.27,919.10 L537.66,918.80 L538.05,918.50 L538.45,918.20 L538.84,917.90 L539.23,917.60 L539.62,917.31 L540.01,917.01 L540.40,916.71 L540.79,916.42 L541.18,916.13 L541.57,915.84 L541.97,915.55 L542.36,915.26 L542.75,914.98 L543.14,914.70 L543.53,914.42 L543.92,914.14 L544.31,913.87 L544.70,913.60 L545.10,913.33 L545.49,913.07 L545.88,912.80 L546.27,912.55 L546.66,912.29 L547.05,912.04 L547.44,911.80 L547.83,911.56 L548.22,911.32 L548.62,911.09 L549.01,910.86 L549.40,910.64 L549.79,910.42 L550.18,910.21 L550.57,910.00 L550.96,909.80 L551.35,909.60 L551.75,909.41 L552.14,909.23 L552.53,909.05 L552.92,908.87 L553.31,908.70 L553.70,908.54 L554.09,908.39 L554.48,908.24 L554.88,908.09 L555.27,907.96 L555.66,907.83 L556.05,907.70 L556.44,907.59 L556.83,907.48 L557.22,907.37 L557.61,907.28 L558.00,907.19 L558.40,907.11 L558.79,907.03 L559.18,906.96 L559.57,906.90 L559.96,906.85 L560.35,906.80 L560.74,906.76 L561.13,906.73 L561.53,906.70 L561.92,906.68 L562.31,906.67 L562.70,906.67 L563.09,906.67 L563.48,906.68 L563.87,906.70 L564.26,906.72 L564.66,906.75 L565.05,906.79 L565.44,906.83 L565.83,906.89 L566.22,906.94 L566.61,907.01 L567.00,907.08 L567.39,907.16 L567.78,907.24 L568.18,907.33 L568.57,907.43 L568.96,907.53 L569.35,907.64 L569.74,907.75 L570.13,907.87 L570.52,908.00 L570.91,908.13 L571.31,908.27 L571.70,908.41 L572.09,908.56 L572.48,908.71 L572.87,908.87 L573.26,909.03 L573.65,909.20 L574.04,909.37 L574.43,909.55 L574.83,909.73 L575.22,909.92 L575.61,910.10 L576.00,910.30 L576.39,910.50 L576.78,910.70 L577.17,910.90 L577.56,911.11 L577.96,911.32 L578.35,911.53 L578.74,911.75 L579.13,911.97 L579.52,912.19 L579.91,912.42 L580.30,912.64 L580.69,912.87 L581.09,913.10 L581.48,913.34 L581.87,913.57 L582.26,913.81 L582.65,914.05 L583.04,914.29 L583.43,914.53 L583.82,914.77 L584.21,915.01 L584.61,915.26 L585.00,915.50 L585.39,915.75 L585.78,915.99 L586.17,916.24 L586.56,916.48 L586.95,916.73 L587.34,916.98 L587.74,917.22 L588.13,917.47 L588.52,917.71 L588.91,917.96 L589.30,918.20 L589.69,918.44 L590.08,918.69 L590.47,918.93 L590.86,919.17 L591.26,919.41 L591.65,919.65 L592.04,919.89 L592.43,920.12 L592.82,920.36 L593.21,920.59 L593.60,920.82 L593.99,921.05 L594.39,921.28 L594.78,921.50 L595.17,921.72 L595.56,921.95 L595.95,922.17 L596.34,922.38 L596.73,922.60 L597.12,922.81 L597.52,923.02 L597.91,923.23 L598.30,923.43 L598.69,923.63 L599.08,923.83 L599.47,924.03 L599.86,924.22 L600.25,924.42 L600.64,924.60 L601.04,924.79 L601.43,924.97 L601.82,925.15 L602.21,925.33 L602.60,925.50 L602.99,925.67 L603.38,925.84 L603.77,926.00 L604.17,926.16 L604.56,926.32 L604.95,926.47 L605.34,926.62 L605.73,926.77 L606.12,926.91 L606.51,927.05 L606.90,927.19 L607.30,927.32 L607.69,927.45 L608.08,927.58 L608.47,927.70 L608.86,927.82 L609.25,927.94 L609.64,928.05 L610.03,928.16 L610.42,928.26 L610.82,928.36 L611.21,928.46 L611.60,928.55 L611.99,928.64 L612.38,928.73 L612.77,928.81 L613.16,928.89 L613.55,928.96 L613.95,929.03 L614.34,929.10 L614.73,929.16 L615.12,929.22 L615.51,929.28 L615.90,929.33 L616.29,929.38 L616.68,929.43 L617.07,929.47 L617.47,929.50 L617.86,929.54 L618.25,929.57 L618.64,929.59 L619.03,929.61 L619.42,929.63 L619.81,929.65 L620.20,929.66 L620.60,929.67 L620.99,929.67 L621.38,929.67 L621.77,929.66 L622.16,929.66 L622.55,929.65 L622.94,929.63 L623.33,929.61 L623.73,929.59 L624.12,929.56 L624.51,929.53 L624.90,929.50 L625.29,929.46 L625.68,929.42 L626.07,929.38 L626.46,929.33 L626.85,929.28 L627.25,929.23 L627.64,929.17 L628.03,929.11 L628.42,929.05 L628.81,928.98 L629.20,928.91 L629.59,928.83 L629.98,928.75 L630.38,928.67 L630.77,928.59 L631.16,928.50 L631.55,928.41 L631.94,928.32 L632.33,928.22 L632.72,928.12 L633.11,928.02 L633.51,927.91 L633.90,927.80 L634.29,927.69 L634.68,927.58 L635.07,927.46 L635.46,927.34 L635.85,927.22 L636.24,927.09 L636.63,926.96 L637.03,926.83 L637.42,926.70 L637.81,926.56 L638.20,926.42 L638.59,926.28 L638.98,926.14 L639.37,925.99 L639.76,925.84 L640.16,925.69 L640.55,925.54 L640.94,925.38 L641.33,925.23 L641.72,925.07 L642.11,924.91 L642.50,924.74 L642.89,924.58 L643.28,924.41 L643.68,924.25 L644.07,924.08 L644.46,923.90 L644.85,923.73 L645.24,923.56 L645.63,923.38 L646.02,923.20 L646.41,923.02 L646.81,922.84 L647.20,922.66 L647.59,922.48 L647.98,922.30 L648.37,922.12 L648.76,921.93 L649.15,921.75 L649.54,921.56 L649.94,921.37 L650.33,921.19 L650.72,921.00 L651.11,920.81 L651.50,920.62" fill="none" stroke="#4db84e" stroke-width="2.3" stroke-linejoin="round"/>
<text x="81" y="1037.2" font-size="34.5" text-anchor="end" fill="#333">0</text>
<text x="81" y="926.1" font-size="34.5" text-anchor="end" fill="#333">1</text>
<text x="81" y="815.0" font-size="34.5" text-anchor="end" fill="#333">2</text>
<text x="81" y="703.8" font-size="34.5" text-anchor="end" fill="#333">3</text>
<text x="81" y="592.7" font-size="34.5" text-anchor="end" fill="#333">4</text>
<text x="88.2" y="1073.7" font-size="34.5" text-anchor="middle" fill="#333">0</text>
<text x="276.0" y="1073.7" font-size="34.5" text-anchor="middle" fill="#333">10</text>
<text x="463.7" y="1073.7" font-size="34.5" text-anchor="middle" fill="#333">20</text>
<text x="651.5" y="1073.7" font-size="34.5" text-anchor="middle" fill="#333">30</text>
<text x="354.2" y="1116.5" font-size="36.5" textLength="31" lengthAdjust="spacingAndGlyphs" fill="#333">kd</text>
<text transform="translate(34.5 801.3) rotate(-90)" font-size="33" textLength="50" lengthAdjust="spacingAndGlyphs" text-anchor="middle" fill="#333">S(k)</text>
<line x1="426.9" y1="627.9" x2="478.4" y2="627.9" stroke="#9c3fa6" stroke-width="2"/>
<text x="497.5" y="637.5" font-size="31.5" fill="#111">ϕ</text>
<text x="520.5" y="637.5" font-size="31.5" textLength="19.6" lengthAdjust="spacingAndGlyphs" fill="#111">=</text>
<text x="546" y="637.5" font-size="31.5" textLength="78.6" lengthAdjust="spacingAndGlyphs" fill="#111">0.450</text>
<line x1="426.9" y1="662.8" x2="478.4" y2="662.8" stroke="#5c3a99" stroke-width="2"/>
<text x="497.5" y="672.4" font-size="31.5" fill="#111">ϕ</text>
<text x="520.5" y="672.4" font-size="31.5" textLength="19.6" lengthAdjust="spacingAndGlyphs" fill="#111">=</text>
<text x="546" y="672.4" font-size="31.5" textLength="78.6" lengthAdjust="spacingAndGlyphs" fill="#111">0.480</text>
<line x1="426.9" y1="697.6" x2="478.4" y2="697.6" stroke="#4a5fb0" stroke-width="2"/>
<text x="497.5" y="707.2" font-size="31.5" fill="#111">ϕ</text>
<text x="520.5" y="707.2" font-size="31.5" textLength="19.6" lengthAdjust="spacingAndGlyphs" fill="#111">=</text>
<text x="546" y="707.2" font-size="31.5" textLength="78.6" lengthAdjust="spacingAndGlyphs" fill="#111">0.500</text>
<line x1="426.9" y1="732.5" x2="478.4" y2="732.5" stroke="#2a9fd6" stroke-width="2"/>
<text x="497.5" y="742.1" font-size="31.5" fill="#111">ϕ</text>
<text x="520.5" y="742.1" font-size="31.5" textLength="19.6" lengthAdjust="spacingAndGlyphs" fill="#111">=</text>
<text x="546" y="742.1" font-size="31.5" textLength="78.6" lengthAdjust="spacingAndGlyphs" fill="#111">0.516</text>
<line x1="426.9" y1="767.3" x2="478.4" y2="767.3" stroke="#4db84e" stroke-width="2"/>
<text x="497.5" y="776.9" font-size="31.5" fill="#111">ϕ</text>
<text x="520.5" y="776.9" font-size="31.5" textLength="19.6" lengthAdjust="spacingAndGlyphs" fill="#111">=</text>
<text x="546" y="776.9" font-size="31.5" textLength="78.6" lengthAdjust="spacingAndGlyphs" fill="#111">0.530</text>
<line x1="820.1999999999999" y1="1031.0" x2="1388.3" y2="1031.0" stroke="#111" stroke-width="2.2"/>
<path d="M821.30,590.33 L821.77,590.38 L822.24,590.44 L822.72,590.49 L823.19,590.55 L823.66,590.60 L824.13,590.66 L824.60,590.71 L825.08,590.77 L825.55,590.83 L826.02,590.89 L826.49,590.94 L826.96,591.00 L827.44,591.06 L827.91,591.12 L828.38,591.19 L828.85,591.25 L829.32,591.31 L829.80,591.37 L830.27,591.44 L830.74,591.50 L831.21,591.57 L831.68,591.63 L832.16,591.70 L832.63,591.77 L833.10,591.84 L833.57,591.90 L834.04,591.97 L834.52,592.04 L834.99,592.12 L835.46,592.19 L835.93,592.26 L836.40,592.33 L836.88,592.41 L837.35,592.48 L837.82,592.56 L838.29,592.63 L838.76,592.71 L839.24,592.79 L839.71,592.87 L840.18,592.95 L840.65,593.03 L841.12,593.11 L841.59,593.19 L842.07,593.27 L842.54,593.36 L843.01,593.44 L843.48,593.53 L843.95,593.61 L844.43,593.70 L844.90,593.79 L845.37,593.88 L845.84,593.97 L846.31,594.06 L846.79,594.15 L847.26,594.24 L847.73,594.34 L848.20,594.43 L848.67,594.53 L849.15,594.63 L849.62,594.72 L850.09,594.82 L850.56,594.92 L851.03,595.02 L851.51,595.12 L851.98,595.22 L852.45,595.33 L852.92,595.43 L853.39,595.54 L853.87,595.64 L854.34,595.75 L854.81,595.86 L855.28,595.97 L855.75,596.08 L856.23,596.19 L856.70,596.31 L857.17,596.42 L857.64,596.53 L858.11,596.65 L858.59,596.77 L859.06,596.89 L859.53,597.01 L860.00,597.13 L860.47,597.25 L860.95,597.37 L861.42,597.49 L861.89,597.62 L862.36,597.75 L862.83,597.87 L863.31,598.00 L863.78,598.13 L864.25,598.26 L864.72,598.39 L865.19,598.53 L865.67,598.66 L866.14,598.80 L866.61,598.93 L867.08,599.07 L867.55,599.21 L868.03,599.35 L868.50,599.49 L868.97,599.64 L869.44,599.78 L869.91,599.93 L870.39,600.07 L870.86,600.22 L871.33,600.37 L871.80,600.52 L872.27,600.67 L872.75,600.83 L873.22,600.98 L873.69,601.14 L874.16,601.29 L874.63,601.45 L875.11,601.61 L875.58,601.77 L876.05,601.94 L876.52,602.10 L876.99,602.27 L877.47,602.43 L877.94,602.60 L878.41,602.77 L878.88,602.94 L879.35,603.11 L879.83,603.29 L880.30,603.46 L880.77,603.64 L881.24,603.82 L881.71,604.00 L882.18,604.18 L882.66,604.36 L883.13,604.54 L883.60,604.73 L884.07,604.92 L884.54,605.11 L885.02,605.30 L885.49,605.49 L885.96,605.68 L886.43,605.88 L886.90,606.08 L887.38,606.27 L887.85,606.48 L888.32,606.68 L888.79,606.88 L889.26,607.09 L889.74,607.30 L890.21,607.51 L890.68,607.72 L891.15,607.94 L891.62,608.15 L892.10,608.37 L892.57,608.59 L893.04,608.82 L893.51,609.04 L893.98,609.27 L894.46,609.50 L894.93,609.74 L895.40,609.97 L895.87,610.21 L896.34,610.45 L896.82,610.70 L897.29,610.94 L897.76,611.19 L898.23,611.45 L898.70,611.70 L899.18,611.96 L899.65,612.23 L900.12,612.49 L900.59,612.76 L901.06,613.03 L901.54,613.31 L902.01,613.59 L902.48,613.87 L902.95,614.16 L903.42,614.45 L903.90,614.75 L904.37,615.05 L904.84,615.35 L905.31,615.66 L905.78,615.97 L906.26,616.28 L906.73,616.60 L907.20,616.93 L907.67,617.26 L908.14,617.59 L908.62,617.93 L909.09,618.27 L909.56,618.62 L910.03,618.98 L910.50,619.33 L910.98,619.70 L911.45,620.07 L911.92,620.44 L912.39,620.82 L912.86,621.20 L913.34,621.59 L913.81,621.99 L914.28,622.39 L914.75,622.79 L915.22,623.20 L915.70,623.62 L916.17,624.05 L916.64,624.47 L917.11,624.91 L917.58,625.35 L918.06,625.80 L918.53,626.25 L919.00,626.71 L919.47,627.18 L919.94,627.65 L920.42,628.13 L920.89,628.61 L921.36,629.10 L921.83,629.60 L922.30,630.10 L922.77,630.61 L923.25,631.13 L923.72,631.66 L924.19,632.19 L924.66,632.73 L925.13,633.27 L925.61,633.83 L926.08,634.39 L926.55,634.96 L927.02,635.53 L927.49,636.11 L927.97,636.71 L928.44,637.30 L928.91,637.91 L929.38,638.52 L929.85,639.15 L930.33,639.78 L930.80,640.41 L931.27,641.06 L931.74,641.71 L932.21,642.38 L932.69,643.05 L933.16,643.73 L933.63,644.42 L934.10,645.12 L934.57,645.83 L935.05,646.54 L935.52,647.27 L935.99,648.00 L936.46,648.75 L936.93,649.50 L937.41,650.26 L937.88,651.03 L938.35,651.82 L938.82,652.61 L939.29,653.41 L939.77,654.23 L940.24,655.05 L940.71,655.88 L941.18,656.73 L941.65,657.58 L942.13,658.45 L942.60,659.32 L943.07,660.21 L943.54,661.11 L944.01,662.01 L944.49,662.93 L944.96,663.86 L945.43,664.81 L945.90,665.76 L946.37,666.72 L946.85,667.70 L947.32,668.69 L947.79,669.69 L948.26,670.70 L948.73,671.72 L949.21,672.76 L949.68,673.80 L950.15,674.86 L950.62,675.93 L951.09,677.01 L951.57,678.10 L952.04,679.21 L952.51,680.32 L952.98,681.45 L953.45,682.59 L953.93,683.74 L954.40,684.90 L954.87,686.08 L955.34,687.26 L955.81,688.46 L956.29,689.67 L956.76,690.89 L957.23,692.12 L957.70,693.36 L958.17,694.61 L958.65,695.87 L959.12,697.14 L959.59,698.42 L960.06,699.72 L960.53,701.02 L961.01,702.33 L961.48,703.65 L961.95,704.98 L962.42,706.32 L962.89,707.67 L963.36,709.03 L963.84,710.40 L964.31,711.77 L964.78,713.16 L965.25,714.55 L965.72,715.95 L966.20,717.35 L966.67,718.77 L967.14,720.19 L967.61,721.62 L968.08,723.06 L968.56,724.51 L969.03,725.96 L969.50,727.42 L969.97,728.89 L970.44,730.36 L970.92,731.84 L971.39,733.33 L971.86,734.82 L972.33,736.33 L972.80,737.84 L973.28,739.36 L973.75,740.88 L974.22,742.41 L974.69,743.95 L975.16,745.50 L975.64,747.06 L976.11,748.62 L976.58,750.20 L977.05,751.78 L977.52,753.37 L978.00,754.97 L978.47,756.57 L978.94,758.19 L979.41,759.81 L979.88,761.45 L980.36,763.09 L980.83,764.74 L981.30,766.41 L981.77,768.08 L982.24,769.75 L982.72,771.44 L983.19,773.14 L983.66,774.85 L984.13,776.56 L984.60,778.28 L985.08,780.01 L985.55,781.75 L986.02,783.50 L986.49,785.26 L986.96,787.02 L987.44,788.79 L987.91,790.56 L988.38,792.34 L988.85,794.13 L989.32,795.92 L989.80,797.72 L990.27,799.52 L990.74,801.33 L991.21,803.14 L991.68,804.95 L992.16,806.77 L992.63,808.59 L993.10,810.41 L993.57,812.24 L994.04,814.06 L994.52,815.89 L994.99,817.71 L995.46,819.54 L995.93,821.37 L996.40,823.19 L996.88,825.01 L997.35,826.84 L997.82,828.66 L998.29,830.48 L998.76,832.29 L999.24,834.11 L999.71,835.91 L1000.18,837.72 L1000.65,839.52 L1001.12,841.32 L1001.60,843.12 L1002.07,844.91 L1002.54,846.69 L1003.01,848.47 L1003.48,850.25 L1003.95,852.02 L1004.43,853.78 L1004.90,855.54 L1005.37,857.30 L1005.84,859.05 L1006.31,860.79 L1006.79,862.53 L1007.26,864.27 L1007.73,866.00 L1008.20,867.72 L1008.67,869.44 L1009.15,871.16 L1009.62,872.87 L1010.09,874.57 L1010.56,876.27 L1011.03,877.97 L1011.51,879.66 L1011.98,881.35 L1012.45,883.03 L1012.92,884.71 L1013.39,886.39 L1013.87,888.06 L1014.34,889.73 L1014.81,891.39 L1015.28,893.05 L1015.75,894.71 L1016.23,896.37 L1016.70,898.02 L1017.17,899.66 L1017.64,901.31 L1018.11,902.95 L1018.59,904.58 L1019.06,906.22 L1019.53,907.85 L1020.00,909.47 L1020.47,911.09 L1020.95,912.71 L1021.42,914.32 L1021.89,915.93 L1022.36,917.53 L1022.83,919.13 L1023.31,920.73 L1023.78,922.31 L1024.25,923.90 L1024.72,925.47 L1025.19,927.05 L1025.67,928.61 L1026.14,930.17 L1026.61,931.72 L1027.08,933.27 L1027.55,934.81 L1028.03,936.34 L1028.50,937.86 L1028.97,939.38 L1029.44,940.89 L1029.91,942.39 L1030.39,943.88 L1030.86,945.36 L1031.33,946.84 L1031.80,948.30 L1032.27,949.76 L1032.75,951.21 L1033.22,952.64 L1033.69,954.07 L1034.16,955.49 L1034.63,956.89 L1035.11,958.29 L1035.58,959.67 L1036.05,961.04 L1036.52,962.41 L1036.99,963.76 L1037.47,965.09 L1037.94,966.42 L1038.41,967.74 L1038.88,969.04 L1039.35,970.33 L1039.83,971.60 L1040.30,972.87 L1040.77,974.12 L1041.24,975.36 L1041.71,976.58 L1042.19,977.79 L1042.66,978.99 L1043.13,980.17 L1043.60,981.34 L1044.07,982.50 L1044.54,983.64 L1045.02,984.77 L1045.49,985.88 L1045.96,986.98 L1046.43,988.06 L1046.90,989.13 L1047.38,990.18 L1047.85,991.22 L1048.32,992.24 L1048.79,993.25 L1049.26,994.24 L1049.74,995.22 L1050.21,996.18 L1050.68,997.13 L1051.15,998.06 L1051.62,998.97 L1052.10,999.87 L1052.57,1000.76 L1053.04,1001.63 L1053.51,1002.48 L1053.98,1003.32 L1054.46,1004.14 L1054.93,1004.95 L1055.40,1005.74 L1055.87,1006.52 L1056.34,1007.28 L1056.82,1008.02 L1057.29,1008.75 L1057.76,1009.47 L1058.23,1010.16 L1058.70,1010.85 L1059.18,1011.52 L1059.65,1012.17 L1060.12,1012.81 L1060.59,1013.43 L1061.06,1014.04 L1061.54,1014.64 L1062.01,1015.22 L1062.48,1015.79 L1062.95,1016.34 L1063.42,1016.87 L1063.90,1017.40 L1064.37,1017.91 L1064.84,1018.40 L1065.31,1018.89 L1065.78,1019.36 L1066.26,1019.81 L1066.73,1020.26 L1067.20,1020.69 L1067.67,1021.10 L1068.14,1021.51 L1068.62,1021.90 L1069.09,1022.28 L1069.56,1022.65 L1070.03,1023.01 L1070.50,1023.36 L1070.98,1023.69 L1071.45,1024.01 L1071.92,1024.33 L1072.39,1024.63 L1072.86,1024.92 L1073.34,1025.20 L1073.81,1025.47 L1074.28,1025.73 L1074.75,1025.98 L1075.22,1026.23 L1075.70,1026.46 L1076.17,1026.68 L1076.64,1026.90 L1077.11,1027.11 L1077.58,1027.31 L1078.06,1027.50 L1078.53,1027.68 L1079.00,1027.85 L1079.47,1028.02 L1079.94,1028.18 L1080.42,1028.34 L1080.89,1028.48 L1081.36,1028.62 L1081.83,1028.76 L1082.30,1028.88 L1082.78,1029.01 L1083.25,1029.12 L1083.72,1029.23 L1084.19,1029.34 L1084.66,1029.44 L1085.13,1029.53 L1085.61,1029.62 L1086.08,1029.71 L1086.55,1029.79 L1087.02,1029.87 L1087.49,1029.94 L1087.97,1030.01 L1088.44,1030.07 L1088.91,1030.13 L1089.38,1030.19 L1089.85,1030.25 L1090.33,1030.30 L1090.80,1030.35 L1091.27,1030.39 L1091.74,1030.44 L1092.21,1030.48 L1092.69,1030.51 L1093.16,1030.55 L1093.63,1030.58 L1094.10,1030.61 L1094.57,1030.64 L1095.05,1030.67 L1095.52,1030.70 L1095.99,1030.72 L1096.46,1030.74 L1096.93,1030.76 L1097.41,1030.78 L1097.88,1030.80 L1098.35,1030.82 L1098.82,1030.83 L1099.29,1030.85 L1099.77,1030.86 L1100.24,1030.87 L1100.71,1030.88 L1101.18,1030.89 L1101.65,1030.90 L1102.13,1030.91 L1102.60,1030.92 L1103.07,1030.93 L1103.54,1030.93 L1104.01,1030.94 L1104.49,1030.95 L1104.96,1030.95 L1105.43,1030.96 L1105.90,1030.96 L1106.37,1030.96 L1106.85,1030.97 L1107.32,1030.97 L1107.79,1030.97 L1108.26,1030.98 L1108.73,1030.98 L1109.21,1030.98 L1109.68,1030.98 L1110.15,1030.98 L1110.62,1030.99 L1111.09,1030.99 L1111.57,1030.99 L1112.04,1030.99 L1112.51,1030.99 L1112.98,1030.99 L1113.45,1030.99 L1113.93,1030.99 L1114.40,1030.99 L1114.87,1031.00 L1115.34,1031.00 L1115.81,1031.00 L1116.29,1031.00 L1116.76,1031.00 L1117.23,1031.00 L1117.70,1031.00 L1118.17,1031.00 L1118.65,1031.00 L1119.12,1031.00 L1119.59,1031.00 L1120.06,1031.00 L1120.53,1031.00 L1121.01,1031.00 L1121.48,1031.00 L1121.95,1031.00 L1122.42,1031.00 L1122.89,1031.00 L1123.37,1031.00 L1123.84,1031.00 L1124.31,1031.00 L1124.78,1031.00 L1125.25,1031.00 L1125.72,1031.00 L1126.20,1031.00 L1126.67,1031.00 L1127.14,1031.00 L1127.61,1031.00 L1128.08,1031.00 L1128.56,1031.00 L1129.03,1031.00 L1129.50,1031.00 L1129.97,1031.00 L1130.44,1031.00 L1130.92,1031.00 L1131.39,1031.00 L1131.86,1031.00 L1132.33,1031.00 L1132.80,1031.00 L1133.28,1031.00 L1133.75,1031.00 L1134.22,1031.00 L1134.69,1031.00 L1135.16,1031.00 L1135.64,1031.00 L1136.11,1031.00 L1136.58,1031.00 L1137.05,1031.00 L1137.52,1031.00 L1138.00,1031.00 L1138.47,1031.00 L1138.94,1031.00 L1139.41,1031.00 L1139.88,1031.00 L1140.36,1031.00 L1140.83,1031.00 L1141.30,1031.00 L1141.77,1031.00 L1142.24,1031.00 L1142.72,1031.00 L1143.19,1031.00 L1143.66,1031.00 L1144.13,1031.00 L1144.60,1031.00 L1145.08,1031.00 L1145.55,1031.00 L1146.02,1031.00 L1146.49,1031.00 L1146.96,1031.00 L1147.44,1031.00 L1147.91,1031.00 L1148.38,1031.00 L1148.85,1031.00 L1149.32,1031.00 L1149.80,1031.00 L1150.27,1031.00 L1150.74,1031.00 L1151.21,1031.00 L1151.68,1031.00 L1152.16,1031.00 L1152.63,1031.00 L1153.10,1031.00 L1153.57,1031.00 L1154.04,1031.00 L1154.52,1031.00 L1154.99,1031.00 L1155.46,1031.00 L1155.93,1031.00 L1156.40,1031.00 L1156.88,1031.00 L1157.35,1031.00 L1157.82,1031.00 L1158.29,1031.00 L1158.76,1031.00 L1159.24,1031.00 L1159.71,1031.00 L1160.18,1031.00 L1160.65,1031.00 L1161.12,1031.00 L1161.60,1031.00 L1162.07,1031.00 L1162.54,1031.00 L1163.01,1031.00 L1163.48,1031.00 L1163.96,1031.00 L1164.43,1031.00 L1164.90,1031.00 L1165.37,1031.00 L1165.84,1031.00 L1166.31,1031.00 L1166.79,1031.00 L1167.26,1031.00 L1167.73,1031.00 L1168.20,1031.00 L1168.67,1031.00 L1169.15,1031.00 L1169.62,1031.00 L1170.09,1031.00 L1170.56,1031.00 L1171.03,1031.00 L1171.51,1031.00 L1171.98,1031.00 L1172.45,1031.00 L1172.92,1031.00 L1173.39,1031.00 L1173.87,1031.00 L1174.34,1031.00 L1174.81,1031.00 L1175.28,1031.00 L1175.75,1031.00 L1176.23,1031.00 L1176.70,1031.00 L1177.17,1031.00 L1177.64,1031.00 L1178.11,1031.00 L1178.59,1031.00 L1179.06,1031.00 L1179.53,1031.00 L1180.00,1031.00 L1180.47,1031.00 L1180.95,1031.00 L1181.42,1031.00 L1181.89,1031.00 L1182.36,1031.00 L1182.83,1031.00 L1183.31,1031.00 L1183.78,1031.00 L1184.25,1031.00 L1184.72,1031.00 L1185.19,1031.00 L1185.67,1031.00 L1186.14,1031.00 L1186.61,1031.00 L1187.08,1031.00 L1187.55,1031.00 L1188.03,1031.00 L1188.50,1031.00 L1188.97,1031.00 L1189.44,1031.00 L1189.91,1031.00 L1190.39,1031.00 L1190.86,1031.00 L1191.33,1031.00 L1191.80,1031.00 L1192.27,1031.00 L1192.75,1031.00 L1193.22,1031.00 L1193.69,1031.00 L1194.16,1031.00 L1194.63,1031.00 L1195.11,1031.00 L1195.58,1031.00 L1196.05,1031.00 L1196.52,1031.00 L1196.99,1031.00 L1197.47,1031.00 L1197.94,1031.00 L1198.41,1031.00 L1198.88,1031.00 L1199.35,1031.00 L1199.83,1031.00 L1200.30,1031.00 L1200.77,1031.00 L1201.24,1031.00 L1201.71,1031.00 L1202.19,1031.00 L1202.66,1031.00 L1203.13,1031.00 L1203.60,1031.00 L1204.07,1031.00 L1204.55,1031.00 L1205.02,1031.00 L1205.49,1031.00 L1205.96,1031.00 L1206.43,1031.00 L1206.90,1031.00 L1207.38,1031.00 L1207.85,1031.00 L1208.32,1031.00 L1208.79,1031.00 L1209.26,1031.00 L1209.74,1031.00 L1210.21,1031.00 L1210.68,1031.00 L1211.15,1031.00 L1211.62,1031.00 L1212.10,1031.00 L1212.57,1031.00 L1213.04,1031.00 L1213.51,1031.00 L1213.98,1031.00 L1214.46,1031.00 L1214.93,1031.00 L1215.40,1031.00 L1215.87,1031.00 L1216.34,1031.00 L1216.82,1031.00 L1217.29,1031.00 L1217.76,1031.00 L1218.23,1031.00 L1218.70,1031.00 L1219.18,1031.00 L1219.65,1031.00 L1220.12,1031.00 L1220.59,1031.00 L1221.06,1031.00 L1221.54,1031.00 L1222.01,1031.00 L1222.48,1031.00 L1222.95,1031.00 L1223.42,1031.00 L1223.90,1031.00 L1224.37,1031.00 L1224.84,1031.00 L1225.31,1031.00 L1225.78,1031.00 L1226.26,1031.00 L1226.73,1031.00 L1227.20,1031.00 L1227.67,1031.00 L1228.14,1031.00 L1228.62,1031.00 L1229.09,1031.00 L1229.56,1031.00 L1230.03,1031.00 L1230.50,1031.00 L1230.98,1031.00 L1231.45,1031.00 L1231.92,1031.00 L1232.39,1031.00 L1232.86,1031.00 L1233.34,1031.00 L1233.81,1031.00 L1234.28,1031.00 L1234.75,1031.00 L1235.22,1031.00 L1235.70,1031.00 L1236.17,1031.00 L1236.64,1031.00 L1237.11,1031.00 L1237.58,1031.00 L1238.06,1031.00 L1238.53,1031.00 L1239.00,1031.00 L1239.47,1031.00 L1239.94,1031.00 L1240.42,1031.00 L1240.89,1031.00 L1241.36,1031.00 L1241.83,1031.00 L1242.30,1031.00 L1242.78,1031.00 L1243.25,1031.00 L1243.72,1031.00 L1244.19,1031.00 L1244.66,1031.00 L1245.14,1031.00 L1245.61,1031.00 L1246.08,1031.00 L1246.55,1031.00 L1247.02,1031.00 L1247.49,1031.00 L1247.97,1031.00 L1248.44,1031.00 L1248.91,1031.00 L1249.38,1031.00 L1249.85,1031.00 L1250.33,1031.00 L1250.80,1031.00 L1251.27,1031.00 L1251.74,1031.00 L1252.21,1031.00 L1252.69,1031.00 L1253.16,1031.00 L1253.63,1031.00 L1254.10,1031.00 L1254.57,1031.00 L1255.05,1031.00 L1255.52,1031.00 L1255.99,1031.00 L1256.46,1031.00 L1256.93,1031.00 L1257.41,1031.00 L1257.88,1031.00 L1258.35,1031.00 L1258.82,1031.00 L1259.29,1031.00 L1259.77,1031.00 L1260.24,1031.00 L1260.71,1031.00 L1261.18,1031.00 L1261.65,1031.00 L1262.13,1031.00 L1262.60,1031.00 L1263.07,1031.00 L1263.54,1031.00 L1264.01,1031.00 L1264.49,1031.00 L1264.96,1031.00 L1265.43,1031.00 L1265.90,1031.00 L1266.37,1031.00 L1266.85,1031.00 L1267.32,1031.00 L1267.79,1031.00 L1268.26,1031.00 L1268.73,1031.00 L1269.21,1031.00 L1269.68,1031.00 L1270.15,1031.00 L1270.62,1031.00 L1271.09,1031.00 L1271.57,1031.00 L1272.04,1031.00 L1272.51,1031.00 L1272.98,1031.00 L1273.45,1031.00 L1273.93,1031.00 L1274.40,1031.00 L1274.87,1031.00 L1275.34,1031.00 L1275.81,1031.00 L1276.29,1031.00 L1276.76,1031.00 L1277.23,1031.00 L1277.70,1031.00 L1278.17,1031.00 L1278.65,1031.00 L1279.12,1031.00 L1279.59,1031.00 L1280.06,1031.00 L1280.53,1031.00 L1281.01,1031.00 L1281.48,1031.00 L1281.95,1031.00 L1282.42,1031.00 L1282.89,1031.00 L1283.37,1031.00 L1283.84,1031.00 L1284.31,1031.00 L1284.78,1031.00 L1285.25,1031.00 L1285.73,1031.00 L1286.20,1031.00 L1286.67,1031.00 L1287.14,1031.00 L1287.61,1031.00 L1288.08,1031.00 L1288.56,1031.00 L1289.03,1031.00 L1289.50,1031.00 L1289.97,1031.00 L1290.44,1031.00 L1290.92,1031.00 L1291.39,1031.00 L1291.86,1031.00 L1292.33,1031.00 L1292.80,1031.00 L1293.28,1031.00 L1293.75,1031.00 L1294.22,1031.00 L1294.69,1031.00 L1295.16,1031.00 L1295.64,1031.00 L1296.11,1031.00 L1296.58,1031.00 L1297.05,1031.00 L1297.52,1031.00 L1298.00,1031.00 L1298.47,1031.00 L1298.94,1031.00 L1299.41,1031.00 L1299.88,1031.00 L1300.36,1031.00 L1300.83,1031.00 L1301.30,1031.00 L1301.77,1031.00 L1302.24,1031.00 L1302.72,1031.00 L1303.19,1031.00 L1303.66,1031.00 L1304.13,1031.00 L1304.60,1031.00 L1305.08,1031.00 L1305.55,1031.00 L1306.02,1031.00 L1306.49,1031.00 L1306.96,1031.00 L1307.44,1031.00 L1307.91,1031.00 L1308.38,1031.00 L1308.85,1031.00 L1309.32,1031.00 L1309.80,1031.00 L1310.27,1031.00 L1310.74,1031.00 L1311.21,1031.00 L1311.68,1031.00 L1312.16,1031.00 L1312.63,1031.00 L1313.10,1031.00 L1313.57,1031.00 L1314.04,1031.00 L1314.52,1031.00 L1314.99,1031.00 L1315.46,1031.00 L1315.93,1031.00 L1316.40,1031.00 L1316.88,1031.00 L1317.35,1031.00 L1317.82,1031.00 L1318.29,1031.00 L1318.76,1031.00 L1319.24,1031.00 L1319.71,1031.00 L1320.18,1031.00 L1320.65,1031.00 L1321.12,1031.00 L1321.60,1031.00 L1322.07,1031.00 L1322.54,1031.00 L1323.01,1031.00 L1323.48,1031.00 L1323.96,1031.00 L1324.43,1031.00 L1324.90,1031.00 L1325.37,1031.00 L1325.84,1031.00 L1326.32,1031.00 L1326.79,1031.00 L1327.26,1031.00 L1327.73,1031.00 L1328.20,1031.00 L1328.67,1031.00 L1329.15,1031.00 L1329.62,1031.00 L1330.09,1031.00 L1330.56,1031.00 L1331.03,1031.00 L1331.51,1031.00 L1331.98,1031.00 L1332.45,1031.00 L1332.92,1031.00 L1333.39,1031.00 L1333.87,1031.00 L1334.34,1031.00 L1334.81,1031.00 L1335.28,1031.00 L1335.75,1031.00 L1336.23,1031.00 L1336.70,1031.00 L1337.17,1031.00 L1337.64,1031.00 L1338.11,1031.00 L1338.59,1031.00 L1339.06,1031.00 L1339.53,1031.00 L1340.00,1031.00 L1340.47,1031.00 L1340.95,1031.00 L1341.42,1031.00 L1341.89,1031.00 L1342.36,1031.00 L1342.83,1031.00 L1343.31,1031.00 L1343.78,1031.00 L1344.25,1031.00 L1344.72,1031.00 L1345.19,1031.00 L1345.67,1031.00 L1346.14,1031.00 L1346.61,1031.00 L1347.08,1031.00 L1347.55,1031.00 L1348.03,1031.00 L1348.50,1031.00 L1348.97,1031.00 L1349.44,1031.00 L1349.91,1031.00 L1350.39,1031.00 L1350.86,1031.00 L1351.33,1031.00 L1351.80,1031.00 L1352.27,1031.00 L1352.75,1031.00 L1353.22,1031.00 L1353.69,1031.00 L1354.16,1031.00 L1354.63,1031.00 L1355.11,1031.00 L1355.58,1031.00 L1356.05,1031.00 L1356.52,1031.00 L1356.99,1031.00 L1357.47,1031.00 L1357.94,1031.00 L1358.41,1031.00 L1358.88,1031.00 L1359.35,1031.00 L1359.83,1031.00 L1360.30,1031.00 L1360.77,1031.00 L1361.24,1031.00 L1361.71,1031.00 L1362.19,1031.00 L1362.66,1031.00 L1363.13,1031.00 L1363.60,1031.00 L1364.07,1031.00 L1364.55,1031.00 L1365.02,1031.00 L1365.49,1031.00 L1365.96,1031.00 L1366.43,1031.00 L1366.91,1031.00 L1367.38,1031.00 L1367.85,1031.00 L1368.32,1031.00 L1368.79,1031.00 L1369.26,1031.00 L1369.74,1031.00 L1370.21,1031.00 L1370.68,1031.00 L1371.15,1031.00 L1371.62,1031.00 L1372.10,1031.00 L1372.57,1031.00 L1373.04,1031.00 L1373.51,1031.00 L1373.98,1031.00 L1374.46,1031.00 L1374.93,1031.00 L1375.40,1031.00 L1375.87,1031.00 L1376.34,1031.00 L1376.82,1031.00 L1377.29,1031.00 L1377.76,1031.00 L1378.23,1031.00 L1378.70,1031.00 L1379.18,1031.00 L1379.65,1031.00 L1380.12,1031.00 L1380.59,1031.00 L1381.06,1031.00 L1381.54,1031.00 L1382.01,1031.00 L1382.48,1031.00 L1382.95,1031.00 L1383.42,1031.00 L1383.90,1031.00 L1384.37,1031.00 L1384.84,1031.00 L1385.31,1031.00 L1385.78,1031.00 L1386.26,1031.00 L1386.73,1031.00 L1387.20,1031.00" fill="none" stroke="#9c3fa6" stroke-width="2.3" stroke-linejoin="round"/>
<path d="M821.30,590.10 L821.77,590.15 L822.24,590.21 L822.72,590.26 L823.19,590.32 L823.66,590.37 L824.13,590.43 L824.60,590.49 L825.08,590.55 L825.55,590.60 L826.02,590.66 L826.49,590.72 L826.96,590.78 L827.44,590.85 L827.91,590.91 L828.38,590.97 L828.85,591.03 L829.32,591.10 L829.80,591.16 L830.27,591.23 L830.74,591.29 L831.21,591.36 L831.68,591.43 L832.16,591.50 L832.63,591.57 L833.10,591.63 L833.57,591.70 L834.04,591.78 L834.52,591.85 L834.99,591.92 L835.46,591.99 L835.93,592.07 L836.40,592.14 L836.88,592.22 L837.35,592.29 L837.82,592.37 L838.29,592.45 L838.76,592.53 L839.24,592.61 L839.71,592.69 L840.18,592.77 L840.65,592.85 L841.12,592.93 L841.59,593.02 L842.07,593.10 L842.54,593.19 L843.01,593.27 L843.48,593.36 L843.95,593.45 L844.43,593.54 L844.90,593.63 L845.37,593.72 L845.84,593.81 L846.31,593.90 L846.79,594.00 L847.26,594.09 L847.73,594.19 L848.20,594.28 L848.67,594.38 L849.15,594.48 L849.62,594.58 L850.09,594.68 L850.56,594.78 L851.03,594.88 L851.51,594.99 L851.98,595.09 L852.45,595.20 L852.92,595.30 L853.39,595.41 L853.87,595.52 L854.34,595.63 L854.81,595.74 L855.28,595.85 L855.75,595.97 L856.23,596.08 L856.70,596.20 L857.17,596.31 L857.64,596.43 L858.11,596.55 L858.59,596.67 L859.06,596.79 L859.53,596.91 L860.00,597.03 L860.47,597.16 L860.95,597.29 L861.42,597.41 L861.89,597.54 L862.36,597.67 L862.83,597.80 L863.31,597.93 L863.78,598.07 L864.25,598.20 L864.72,598.34 L865.19,598.47 L865.67,598.61 L866.14,598.75 L866.61,598.89 L867.08,599.04 L867.55,599.18 L868.03,599.32 L868.50,599.47 L868.97,599.62 L869.44,599.77 L869.91,599.92 L870.39,600.07 L870.86,600.23 L871.33,600.38 L871.80,600.54 L872.27,600.69 L872.75,600.85 L873.22,601.01 L873.69,601.18 L874.16,601.34 L874.63,601.51 L875.11,601.67 L875.58,601.84 L876.05,602.01 L876.52,602.18 L876.99,602.35 L877.47,602.53 L877.94,602.70 L878.41,602.88 L878.88,603.06 L879.35,603.24 L879.83,603.42 L880.30,603.61 L880.77,603.79 L881.24,603.98 L881.71,604.17 L882.18,604.36 L882.66,604.55 L883.13,604.75 L883.60,604.94 L884.07,605.14 L884.54,605.34 L885.02,605.54 L885.49,605.74 L885.96,605.94 L886.43,606.15 L886.90,606.36 L887.38,606.57 L887.85,606.78 L888.32,606.99 L888.79,607.21 L889.26,607.42 L889.74,607.64 L890.21,607.86 L890.68,608.08 L891.15,608.31 L891.62,608.53 L892.10,608.76 L892.57,608.99 L893.04,609.22 L893.51,609.45 L893.98,609.69 L894.46,609.93 L894.93,610.16 L895.40,610.40 L895.87,610.65 L896.34,610.89 L896.82,611.14 L897.29,611.39 L897.76,611.64 L898.23,611.89 L898.70,612.14 L899.18,612.40 L899.65,612.66 L900.12,612.92 L900.59,613.18 L901.06,613.45 L901.54,613.71 L902.01,613.98 L902.48,614.25 L902.95,614.52 L903.42,614.80 L903.90,615.07 L904.37,615.35 L904.84,615.63 L905.31,615.92 L905.78,616.20 L906.26,616.49 L906.73,616.78 L907.20,617.07 L907.67,617.36 L908.14,617.66 L908.62,617.95 L909.09,618.25 L909.56,618.55 L910.03,618.86 L910.50,619.16 L910.98,619.47 L911.45,619.78 L911.92,620.09 L912.39,620.41 L912.86,620.73 L913.34,621.04 L913.81,621.37 L914.28,621.69 L914.75,622.01 L915.22,622.34 L915.70,622.67 L916.17,623.00 L916.64,623.34 L917.11,623.67 L917.58,624.01 L918.06,624.35 L918.53,624.69 L919.00,625.04 L919.47,625.38 L919.94,625.73 L920.42,626.08 L920.89,626.44 L921.36,626.79 L921.83,627.15 L922.30,627.51 L922.77,627.87 L923.25,628.24 L923.72,628.60 L924.19,628.97 L924.66,629.34 L925.13,629.72 L925.61,630.09 L926.08,630.47 L926.55,630.85 L927.02,631.23 L927.49,631.61 L927.97,632.00 L928.44,632.39 L928.91,632.78 L929.38,633.17 L929.85,633.57 L930.33,633.96 L930.80,634.36 L931.27,634.76 L931.74,635.17 L932.21,635.57 L932.69,635.98 L933.16,636.39 L933.63,636.80 L934.10,637.22 L934.57,637.63 L935.05,638.05 L935.52,638.47 L935.99,638.89 L936.46,639.32 L936.93,639.74 L937.41,640.17 L937.88,640.60 L938.35,641.04 L938.82,641.47 L939.29,641.91 L939.77,642.35 L940.24,642.79 L940.71,643.23 L941.18,643.67 L941.65,644.12 L942.13,644.57 L942.60,645.02 L943.07,645.47 L943.54,645.93 L944.01,646.39 L944.49,646.84 L944.96,647.30 L945.43,647.77 L945.90,648.23 L946.37,648.70 L946.85,649.17 L947.32,649.64 L947.79,650.11 L948.26,650.58 L948.73,651.06 L949.21,651.54 L949.68,652.02 L950.15,652.50 L950.62,652.98 L951.09,653.46 L951.57,653.95 L952.04,654.44 L952.51,654.93 L952.98,655.42 L953.45,655.91 L953.93,656.41 L954.40,656.91 L954.87,657.41 L955.34,657.91 L955.81,658.41 L956.29,658.91 L956.76,659.42 L957.23,659.92 L957.70,660.43 L958.17,660.94 L958.65,661.45 L959.12,661.97 L959.59,662.48 L960.06,663.00 L960.53,663.52 L961.01,664.04 L961.48,664.56 L961.95,665.08 L962.42,665.60 L962.89,666.13 L963.36,666.65 L963.84,667.18 L964.31,667.71 L964.78,668.24 L965.25,668.77 L965.72,669.31 L966.20,669.84 L966.67,670.38 L967.14,670.92 L967.61,671.45 L968.08,671.99 L968.56,672.54 L969.03,673.08 L969.50,673.62 L969.97,674.17 L970.44,674.71 L970.92,675.26 L971.39,675.81 L971.86,676.36 L972.33,676.91 L972.80,677.46 L973.28,678.01 L973.75,678.57 L974.22,679.12 L974.69,679.68 L975.16,680.23 L975.64,680.79 L976.11,681.35 L976.58,681.91 L977.05,682.47 L977.52,683.03 L978.00,683.60 L978.47,684.16 L978.94,684.72 L979.41,685.29 L979.88,685.86 L980.36,686.42 L980.83,686.99 L981.30,687.56 L981.77,688.13 L982.24,688.70 L982.72,689.27 L983.19,689.84 L983.66,690.42 L984.13,690.99 L984.60,691.56 L985.08,692.14 L985.55,692.71 L986.02,693.29 L986.49,693.86 L986.96,694.44 L987.44,695.02 L987.91,695.60 L988.38,696.18 L988.85,696.76 L989.32,697.34 L989.80,697.92 L990.27,698.50 L990.74,699.08 L991.21,699.66 L991.68,700.24 L992.16,700.83 L992.63,701.41 L993.10,701.99 L993.57,702.58 L994.04,703.16 L994.52,703.75 L994.99,704.33 L995.46,704.92 L995.93,705.51 L996.40,706.09 L996.88,706.68 L997.35,707.27 L997.82,707.85 L998.29,708.44 L998.76,709.03 L999.24,709.62 L999.71,710.21 L1000.18,710.79 L1000.65,711.38 L1001.12,711.97 L1001.60,712.56 L1002.07,713.15 L1002.54,713.74 L1003.01,714.33 L1003.48,714.92 L1003.95,715.51 L1004.43,716.10 L1004.90,716.69 L1005.37,717.28 L1005.84,717.87 L1006.31,718.46 L1006.79,719.05 L1007.26,719.64 L1007.73,720.23 L1008.20,720.83 L1008.67,721.42 L1009.15,722.01 L1009.62,722.60 L1010.09,723.19 L1010.56,723.78 L1011.03,724.37 L1011.51,724.96 L1011.98,725.55 L1012.45,726.14 L1012.92,726.74 L1013.39,727.33 L1013.87,727.92 L1014.34,728.51 L1014.81,729.10 L1015.28,729.69 L1015.75,730.28 L1016.23,730.87 L1016.70,731.46 L1017.17,732.05 L1017.64,732.64 L1018.11,733.23 L1018.59,733.82 L1019.06,734.41 L1019.53,735.00 L1020.00,735.59 L1020.47,736.18 L1020.95,736.77 L1021.42,737.36 L1021.89,737.95 L1022.36,738.54 L1022.83,739.13 L1023.31,739.71 L1023.78,740.30 L1024.25,740.89 L1024.72,741.48 L1025.19,742.07 L1025.67,742.65 L1026.14,743.24 L1026.61,743.83 L1027.08,744.42 L1027.55,745.00 L1028.03,745.59 L1028.50,746.18 L1028.97,746.76 L1029.44,747.35 L1029.91,747.94 L1030.39,748.52 L1030.86,749.11 L1031.33,749.69 L1031.80,750.28 L1032.27,750.86 L1032.75,751.45 L1033.22,752.03 L1033.69,752.62 L1034.16,753.20 L1034.63,753.79 L1035.11,754.37 L1035.58,754.96 L1036.05,755.54 L1036.52,756.12 L1036.99,756.71 L1037.47,757.29 L1037.94,757.87 L1038.41,758.46 L1038.88,759.04 L1039.35,759.62 L1039.83,760.20 L1040.30,760.79 L1040.77,761.37 L1041.24,761.95 L1041.71,762.53 L1042.19,763.12 L1042.66,763.70 L1043.13,764.28 L1043.60,764.86 L1044.07,765.44 L1044.54,766.02 L1045.02,766.60 L1045.49,767.19 L1045.96,767.77 L1046.43,768.35 L1046.90,768.93 L1047.38,769.51 L1047.85,770.09 L1048.32,770.67 L1048.79,771.25 L1049.26,771.83 L1049.74,772.41 L1050.21,772.99 L1050.68,773.57 L1051.15,774.15 L1051.62,774.74 L1052.10,775.32 L1052.57,775.90 L1053.04,776.48 L1053.51,777.06 L1053.98,777.64 L1054.46,778.22 L1054.93,778.80 L1055.40,779.38 L1055.87,779.96 L1056.34,780.55 L1056.82,781.13 L1057.29,781.71 L1057.76,782.29 L1058.23,782.87 L1058.70,783.46 L1059.18,784.04 L1059.65,784.62 L1060.12,785.20 L1060.59,785.79 L1061.06,786.37 L1061.54,786.95 L1062.01,787.54 L1062.48,788.12 L1062.95,788.71 L1063.42,789.29 L1063.90,789.88 L1064.37,790.46 L1064.84,791.05 L1065.31,791.63 L1065.78,792.22 L1066.26,792.81 L1066.73,793.40 L1067.20,793.98 L1067.67,794.57 L1068.14,795.16 L1068.62,795.75 L1069.09,796.34 L1069.56,796.93 L1070.03,797.52 L1070.50,798.11 L1070.98,798.71 L1071.45,799.30 L1071.92,799.89 L1072.39,800.49 L1072.86,801.08 L1073.34,801.68 L1073.81,802.27 L1074.28,802.87 L1074.75,803.47 L1075.22,804.07 L1075.70,804.67 L1076.17,805.27 L1076.64,805.87 L1077.11,806.47 L1077.58,807.07 L1078.06,807.68 L1078.53,808.28 L1079.00,808.89 L1079.47,809.49 L1079.94,810.10 L1080.42,810.71 L1080.89,811.32 L1081.36,811.93 L1081.83,812.54 L1082.30,813.16 L1082.78,813.77 L1083.25,814.38 L1083.72,815.00 L1084.19,815.62 L1084.66,816.24 L1085.13,816.86 L1085.61,817.48 L1086.08,818.10 L1086.55,818.73 L1087.02,819.35 L1087.49,819.98 L1087.97,820.61 L1088.44,821.24 L1088.91,821.87 L1089.38,822.50 L1089.85,823.14 L1090.33,823.78 L1090.80,824.41 L1091.27,825.05 L1091.74,825.69 L1092.21,826.34 L1092.69,826.98 L1093.16,827.63 L1093.63,828.28 L1094.10,828.93 L1094.57,829.58 L1095.05,830.23 L1095.52,830.89 L1095.99,831.55 L1096.46,832.20 L1096.93,832.87 L1097.41,833.53 L1097.88,834.20 L1098.35,834.86 L1098.82,835.53 L1099.29,836.21 L1099.77,836.88 L1100.24,837.56 L1100.71,838.24 L1101.18,838.92 L1101.65,839.60 L1102.13,840.29 L1102.60,840.97 L1103.07,841.66 L1103.54,842.36 L1104.01,843.05 L1104.49,843.75 L1104.96,844.45 L1105.43,845.15 L1105.90,845.86 L1106.37,846.57 L1106.85,847.28 L1107.32,847.99 L1107.79,848.71 L1108.26,849.43 L1108.73,850.15 L1109.21,850.88 L1109.68,851.60 L1110.15,852.33 L1110.62,853.07 L1111.09,853.80 L1111.57,854.54 L1112.04,855.29 L1112.51,856.03 L1112.98,856.78 L1113.45,857.53 L1113.93,858.29 L1114.40,859.04 L1114.87,859.81 L1115.34,860.57 L1115.81,861.34 L1116.29,862.11 L1116.76,862.88 L1117.23,863.66 L1117.70,864.44 L1118.17,865.23 L1118.65,866.01 L1119.12,866.81 L1119.59,867.60 L1120.06,868.40 L1120.53,869.20 L1121.01,870.01 L1121.48,870.82 L1121.95,871.63 L1122.42,872.44 L1122.89,873.26 L1123.37,874.09 L1123.84,874.91 L1124.31,875.75 L1124.78,876.58 L1125.25,877.42 L1125.72,878.26 L1126.20,879.11 L1126.67,879.96 L1127.14,880.81 L1127.61,881.67 L1128.08,882.53 L1128.56,883.39 L1129.03,884.26 L1129.50,885.13 L1129.97,886.01 L1130.44,886.89 L1130.92,887.77 L1131.39,888.66 L1131.86,889.55 L1132.33,890.45 L1132.80,891.35 L1133.28,892.25 L1133.75,893.16 L1134.22,894.07 L1134.69,894.99 L1135.16,895.91 L1135.64,896.83 L1136.11,897.76 L1136.58,898.69 L1137.05,899.62 L1137.52,900.56 L1138.00,901.50 L1138.47,902.45 L1138.94,903.39 L1139.41,904.35 L1139.88,905.30 L1140.36,906.26 L1140.83,907.23 L1141.30,908.20 L1141.77,909.17 L1142.24,910.14 L1142.72,911.12 L1143.19,912.10 L1143.66,913.09 L1144.13,914.07 L1144.60,915.07 L1145.08,916.06 L1145.55,917.06 L1146.02,918.06 L1146.49,919.06 L1146.96,920.07 L1147.44,921.08 L1147.91,922.10 L1148.38,923.11 L1148.85,924.13 L1149.32,925.15 L1149.80,926.18 L1150.27,927.20 L1150.74,928.23 L1151.21,929.26 L1151.68,930.30 L1152.16,931.33 L1152.63,932.37 L1153.10,933.41 L1153.57,934.45 L1154.04,935.50 L1154.52,936.54 L1154.99,937.59 L1155.46,938.64 L1155.93,939.69 L1156.40,940.74 L1156.88,941.79 L1157.35,942.84 L1157.82,943.90 L1158.29,944.95 L1158.76,946.01 L1159.24,947.06 L1159.71,948.12 L1160.18,949.17 L1160.65,950.23 L1161.12,951.29 L1161.60,952.34 L1162.07,953.40 L1162.54,954.45 L1163.01,955.51 L1163.48,956.56 L1163.96,957.61 L1164.43,958.66 L1164.90,959.71 L1165.37,960.76 L1165.84,961.81 L1166.31,962.85 L1166.79,963.89 L1167.26,964.93 L1167.73,965.97 L1168.20,967.01 L1168.67,968.04 L1169.15,969.07 L1169.62,970.09 L1170.09,971.11 L1170.56,972.13 L1171.03,973.15 L1171.51,974.16 L1171.98,975.16 L1172.45,976.16 L1172.92,977.16 L1173.39,978.15 L1173.87,979.14 L1174.34,980.12 L1174.81,981.10 L1175.28,982.07 L1175.75,983.03 L1176.23,983.99 L1176.70,984.94 L1177.17,985.89 L1177.64,986.83 L1178.11,987.76 L1178.59,988.68 L1179.06,989.60 L1179.53,990.51 L1180.00,991.41 L1180.47,992.31 L1180.95,993.19 L1181.42,994.07 L1181.89,994.94 L1182.36,995.80 L1182.83,996.65 L1183.31,997.49 L1183.78,998.33 L1184.25,999.15 L1184.72,999.96 L1185.19,1000.77 L1185.67,1001.56 L1186.14,1002.35 L1186.61,1003.12 L1187.08,1003.88 L1187.55,1004.64 L1188.03,1005.38 L1188.50,1006.11 L1188.97,1006.83 L1189.44,1007.54 L1189.91,1008.24 L1190.39,1008.92 L1190.86,1009.60 L1191.33,1010.26 L1191.80,1010.92 L1192.27,1011.56 L1192.75,1012.19 L1193.22,1012.80 L1193.69,1013.41 L1194.16,1014.00 L1194.63,1014.58 L1195.11,1015.15 L1195.58,1015.71 L1196.05,1016.25 L1196.52,1016.79 L1196.99,1017.31 L1197.47,1017.82 L1197.94,1018.32 L1198.41,1018.80 L1198.88,1019.27 L1199.35,1019.74 L1199.83,1020.19 L1200.30,1020.62 L1200.77,1021.05 L1201.24,1021.46 L1201.71,1021.87 L1202.19,1022.26 L1202.66,1022.64 L1203.13,1023.00 L1203.60,1023.36 L1204.07,1023.71 L1204.55,1024.04 L1205.02,1024.37 L1205.49,1024.68 L1205.96,1024.98 L1206.43,1025.27 L1206.90,1025.56 L1207.38,1025.83 L1207.85,1026.09 L1208.32,1026.34 L1208.79,1026.59 L1209.26,1026.82 L1209.74,1027.04 L1210.21,1027.26 L1210.68,1027.46 L1211.15,1027.66 L1211.62,1027.85 L1212.10,1028.03 L1212.57,1028.21 L1213.04,1028.37 L1213.51,1028.53 L1213.98,1028.68 L1214.46,1028.82 L1214.93,1028.96 L1215.40,1029.09 L1215.87,1029.21 L1216.34,1029.33 L1216.82,1029.44 L1217.29,1029.54 L1217.76,1029.64 L1218.23,1029.74 L1218.70,1029.82 L1219.18,1029.91 L1219.65,1029.99 L1220.12,1030.06 L1220.59,1030.13 L1221.06,1030.20 L1221.54,1030.26 L1222.01,1030.31 L1222.48,1030.37 L1222.95,1030.42 L1223.42,1030.47 L1223.90,1030.51 L1224.37,1030.55 L1224.84,1030.59 L1225.31,1030.62 L1225.78,1030.66 L1226.26,1030.69 L1226.73,1030.71 L1227.20,1030.74 L1227.67,1030.76 L1228.14,1030.78 L1228.62,1030.81 L1229.09,1030.82 L1229.56,1030.84 L1230.03,1030.86 L1230.50,1030.87 L1230.98,1030.88 L1231.45,1030.90 L1231.92,1030.91 L1232.39,1030.92 L1232.86,1030.93 L1233.34,1030.93 L1233.81,1030.94 L1234.28,1030.95 L1234.75,1030.95 L1235.22,1030.96 L1235.70,1030.96 L1236.17,1030.97 L1236.64,1030.97 L1237.11,1030.97 L1237.58,1030.98 L1238.06,1030.98 L1238.53,1030.98 L1239.00,1030.99 L1239.47,1030.99 L1239.94,1030.99 L1240.42,1030.99 L1240.89,1030.99 L1241.36,1030.99 L1241.83,1030.99 L1242.30,1030.99 L1242.78,1031.00 L1243.25,1031.00 L1243.72,1031.00 L1244.19,1031.00 L1244.66,1031.00 L1245.14,1031.00 L1245.61,1031.00 L1246.08,1031.00 L1246.55,1031.00 L1247.02,1031.00 L1247.49,1031.00 L1247.97,1031.00 L1248.44,1031.00 L1248.91,1031.00 L1249.38,1031.00 L1249.85,1031.00 L1250.33,1031.00 L1250.80,1031.00 L1251.27,1031.00 L1251.74,1031.00 L1252.21,1031.00 L1252.69,1031.00 L1253.16,1031.00 L1253.63,1031.00 L1254.10,1031.00 L1254.57,1031.00 L1255.05,1031.00 L1255.52,1031.00 L1255.99,1031.00 L1256.46,1031.00 L1256.93,1031.00 L1257.41,1031.00 L1257.88,1031.00 L1258.35,1031.00 L1258.82,1031.00 L1259.29,1031.00 L1259.77,1031.00 L1260.24,1031.00 L1260.71,1031.00 L1261.18,1031.00 L1261.65,1031.00 L1262.13,1031.00 L1262.60,1031.00 L1263.07,1031.00 L1263.54,1031.00 L1264.01,1031.00 L1264.49,1031.00 L1264.96,1031.00 L1265.43,1031.00 L1265.90,1031.00 L1266.37,1031.00 L1266.85,1031.00 L1267.32,1031.00 L1267.79,1031.00 L1268.26,1031.00 L1268.73,1031.00 L1269.21,1031.00 L1269.68,1031.00 L1270.15,1031.00 L1270.62,1031.00 L1271.09,1031.00 L1271.57,1031.00 L1272.04,1031.00 L1272.51,1031.00 L1272.98,1031.00 L1273.45,1031.00 L1273.93,1031.00 L1274.40,1031.00 L1274.87,1031.00 L1275.34,1031.00 L1275.81,1031.00 L1276.29,1031.00 L1276.76,1031.00 L1277.23,1031.00 L1277.70,1031.00 L1278.17,1031.00 L1278.65,1031.00 L1279.12,1031.00 L1279.59,1031.00 L1280.06,1031.00 L1280.53,1031.00 L1281.01,1031.00 L1281.48,1031.00 L1281.95,1031.00 L1282.42,1031.00 L1282.89,1031.00 L1283.37,1031.00 L1283.84,1031.00 L1284.31,1031.00 L1284.78,1031.00 L1285.25,1031.00 L1285.73,1031.00 L1286.20,1031.00 L1286.67,1031.00 L1287.14,1031.00 L1287.61,1031.00 L1288.08,1031.00 L1288.56,1031.00 L1289.03,1031.00 L1289.50,1031.00 L1289.97,1031.00 L1290.44,1031.00 L1290.92,1031.00 L1291.39,1031.00 L1291.86,1031.00 L1292.33,1031.00 L1292.80,1031.00 L1293.28,1031.00 L1293.75,1031.00 L1294.22,1031.00 L1294.69,1031.00 L1295.16,1031.00 L1295.64,1031.00 L1296.11,1031.00 L1296.58,1031.00 L1297.05,1031.00 L1297.52,1031.00 L1298.00,1031.00 L1298.47,1031.00 L1298.94,1031.00 L1299.41,1031.00 L1299.88,1031.00 L1300.36,1031.00 L1300.83,1031.00 L1301.30,1031.00 L1301.77,1031.00 L1302.24,1031.00 L1302.72,1031.00 L1303.19,1031.00 L1303.66,1031.00 L1304.13,1031.00 L1304.60,1031.00 L1305.08,1031.00 L1305.55,1031.00 L1306.02,1031.00 L1306.49,1031.00 L1306.96,1031.00 L1307.44,1031.00 L1307.91,1031.00 L1308.38,1031.00 L1308.85,1031.00 L1309.32,1031.00 L1309.80,1031.00 L1310.27,1031.00 L1310.74,1031.00 L1311.21,1031.00 L1311.68,1031.00 L1312.16,1031.00 L1312.63,1031.00 L1313.10,1031.00 L1313.57,1031.00 L1314.04,1031.00 L1314.52,1031.00 L1314.99,1031.00 L1315.46,1031.00 L1315.93,1031.00 L1316.40,1031.00 L1316.88,1031.00 L1317.35,1031.00 L1317.82,1031.00 L1318.29,1031.00 L1318.76,1031.00 L1319.24,1031.00 L1319.71,1031.00 L1320.18,1031.00 L1320.65,1031.00 L1321.12,1031.00 L1321.60,1031.00 L1322.07,1031.00 L1322.54,1031.00 L1323.01,1031.00 L1323.48,1031.00 L1323.96,1031.00 L1324.43,1031.00 L1324.90,1031.00 L1325.37,1031.00 L1325.84,1031.00 L1326.32,1031.00 L1326.79,1031.00 L1327.26,1031.00 L1327.73,1031.00 L1328.20,1031.00 L1328.67,1031.00 L1329.15,1031.00 L1329.62,1031.00 L1330.09,1031.00 L1330.56,1031.00 L1331.03,1031.00 L1331.51,1031.00 L1331.98,1031.00 L1332.45,1031.00 L1332.92,1031.00 L1333.39,1031.00 L1333.87,1031.00 L1334.34,1031.00 L1334.81,1031.00 L1335.28,1031.00 L1335.75,1031.00 L1336.23,1031.00 L1336.70,1031.00 L1337.17,1031.00 L1337.64,1031.00 L1338.11,1031.00 L1338.59,1031.00 L1339.06,1031.00 L1339.53,1031.00 L1340.00,1031.00 L1340.47,1031.00 L1340.95,1031.00 L1341.42,1031.00 L1341.89,1031.00 L1342.36,1031.00 L1342.83,1031.00 L1343.31,1031.00 L1343.78,1031.00 L1344.25,1031.00 L1344.72,1031.00 L1345.19,1031.00 L1345.67,1031.00 L1346.14,1031.00 L1346.61,1031.00 L1347.08,1031.00 L1347.55,1031.00 L1348.03,1031.00 L1348.50,1031.00 L1348.97,1031.00 L1349.44,1031.00 L1349.91,1031.00 L1350.39,1031.00 L1350.86,1031.00 L1351.33,1031.00 L1351.80,1031.00 L1352.27,1031.00 L1352.75,1031.00 L1353.22,1031.00 L1353.69,1031.00 L1354.16,1031.00 L1354.63,1031.00 L1355.11,1031.00 L1355.58,1031.00 L1356.05,1031.00 L1356.52,1031.00 L1356.99,1031.00 L1357.47,1031.00 L1357.94,1031.00 L1358.41,1031.00 L1358.88,1031.00 L1359.35,1031.00 L1359.83,1031.00 L1360.30,1031.00 L1360.77,1031.00 L1361.24,1031.00 L1361.71,1031.00 L1362.19,1031.00 L1362.66,1031.00 L1363.13,1031.00 L1363.60,1031.00 L1364.07,1031.00 L1364.55,1031.00 L1365.02,1031.00 L1365.49,1031.00 L1365.96,1031.00 L1366.43,1031.00 L1366.91,1031.00 L1367.38,1031.00 L1367.85,1031.00 L1368.32,1031.00 L1368.79,1031.00 L1369.26,1031.00 L1369.74,1031.00 L1370.21,1031.00 L1370.68,1031.00 L1371.15,1031.00 L1371.62,1031.00 L1372.10,1031.00 L1372.57,1031.00 L1373.04,1031.00 L1373.51,1031.00 L1373.98,1031.00 L1374.46,1031.00 L1374.93,1031.00 L1375.40,1031.00 L1375.87,1031.00 L1376.34,1031.00 L1376.82,1031.00 L1377.29,1031.00 L1377.76,1031.00 L1378.23,1031.00 L1378.70,1031.00 L1379.18,1031.00 L1379.65,1031.00 L1380.12,1031.00 L1380.59,1031.00 L1381.06,1031.00 L1381.54,1031.00 L1382.01,1031.00 L1382.48,1031.00 L1382.95,1031.00 L1383.42,1031.00 L1383.90,1031.00 L1384.37,1031.00 L1384.84,1031.00 L1385.31,1031.00 L1385.78,1031.00 L1386.26,1031.00 L1386.73,1031.00 L1387.20,1031.00" fill="none" stroke="#5c3a99" stroke-width="2.3" stroke-linejoin="round"/>
<path d="M821.30,590.07 L821.77,590.13 L822.24,590.18 L822.72,590.24 L823.19,590.29 L823.66,590.35 L824.13,590.41 L824.60,590.46 L825.08,590.52 L825.55,590.58 L826.02,590.64 L826.49,590.70 L826.96,590.76 L827.44,590.82 L827.91,590.88 L828.38,590.94 L828.85,591.00 L829.32,591.07 L829.80,591.13 L830.27,591.20 L830.74,591.26 L831.21,591.33 L831.68,591.40 L832.16,591.46 L832.63,591.53 L833.10,591.60 L833.57,591.67 L834.04,591.74 L834.52,591.81 L834.99,591.88 L835.46,591.96 L835.93,592.03 L836.40,592.10 L836.88,592.18 L837.35,592.25 L837.82,592.33 L838.29,592.41 L838.76,592.49 L839.24,592.56 L839.71,592.64 L840.18,592.72 L840.65,592.81 L841.12,592.89 L841.59,592.97 L842.07,593.05 L842.54,593.14 L843.01,593.22 L843.48,593.31 L843.95,593.40 L844.43,593.49 L844.90,593.57 L845.37,593.66 L845.84,593.76 L846.31,593.85 L846.79,593.94 L847.26,594.03 L847.73,594.13 L848.20,594.22 L848.67,594.32 L849.15,594.42 L849.62,594.51 L850.09,594.61 L850.56,594.71 L851.03,594.82 L851.51,594.92 L851.98,595.02 L852.45,595.13 L852.92,595.23 L853.39,595.34 L853.87,595.44 L854.34,595.55 L854.81,595.66 L855.28,595.77 L855.75,595.88 L856.23,596.00 L856.70,596.11 L857.17,596.23 L857.64,596.34 L858.11,596.46 L858.59,596.58 L859.06,596.70 L859.53,596.82 L860.00,596.94 L860.47,597.06 L860.95,597.18 L861.42,597.31 L861.89,597.44 L862.36,597.56 L862.83,597.69 L863.31,597.82 L863.78,597.95 L864.25,598.09 L864.72,598.22 L865.19,598.36 L865.67,598.49 L866.14,598.63 L866.61,598.77 L867.08,598.91 L867.55,599.05 L868.03,599.19 L868.50,599.34 L868.97,599.48 L869.44,599.63 L869.91,599.78 L870.39,599.92 L870.86,600.08 L871.33,600.23 L871.80,600.38 L872.27,600.54 L872.75,600.69 L873.22,600.85 L873.69,601.01 L874.16,601.17 L874.63,601.33 L875.11,601.49 L875.58,601.66 L876.05,601.82 L876.52,601.99 L876.99,602.16 L877.47,602.33 L877.94,602.50 L878.41,602.68 L878.88,602.85 L879.35,603.03 L879.83,603.21 L880.30,603.39 L880.77,603.57 L881.24,603.75 L881.71,603.94 L882.18,604.12 L882.66,604.31 L883.13,604.50 L883.60,604.69 L884.07,604.88 L884.54,605.08 L885.02,605.27 L885.49,605.47 L885.96,605.67 L886.43,605.87 L886.90,606.07 L887.38,606.27 L887.85,606.48 L888.32,606.69 L888.79,606.89 L889.26,607.10 L889.74,607.32 L890.21,607.53 L890.68,607.75 L891.15,607.96 L891.62,608.18 L892.10,608.40 L892.57,608.63 L893.04,608.85 L893.51,609.08 L893.98,609.30 L894.46,609.53 L894.93,609.76 L895.40,610.00 L895.87,610.23 L896.34,610.47 L896.82,610.71 L897.29,610.95 L897.76,611.19 L898.23,611.43 L898.70,611.68 L899.18,611.93 L899.65,612.17 L900.12,612.43 L900.59,612.68 L901.06,612.93 L901.54,613.19 L902.01,613.45 L902.48,613.71 L902.95,613.97 L903.42,614.23 L903.90,614.50 L904.37,614.77 L904.84,615.04 L905.31,615.31 L905.78,615.58 L906.26,615.86 L906.73,616.14 L907.20,616.41 L907.67,616.70 L908.14,616.98 L908.62,617.26 L909.09,617.55 L909.56,617.84 L910.03,618.13 L910.50,618.42 L910.98,618.71 L911.45,619.01 L911.92,619.31 L912.39,619.61 L912.86,619.91 L913.34,620.21 L913.81,620.52 L914.28,620.83 L914.75,621.14 L915.22,621.45 L915.70,621.76 L916.17,622.07 L916.64,622.39 L917.11,622.71 L917.58,623.03 L918.06,623.35 L918.53,623.68 L919.00,624.00 L919.47,624.33 L919.94,624.66 L920.42,624.99 L920.89,625.33 L921.36,625.66 L921.83,626.00 L922.30,626.34 L922.77,626.68 L923.25,627.03 L923.72,627.37 L924.19,627.72 L924.66,628.07 L925.13,628.42 L925.61,628.77 L926.08,629.12 L926.55,629.48 L927.02,629.84 L927.49,630.20 L927.97,630.56 L928.44,630.92 L928.91,631.29 L929.38,631.65 L929.85,632.02 L930.33,632.39 L930.80,632.76 L931.27,633.14 L931.74,633.51 L932.21,633.89 L932.69,634.27 L933.16,634.65 L933.63,635.03 L934.10,635.41 L934.57,635.80 L935.05,636.19 L935.52,636.58 L935.99,636.97 L936.46,637.36 L936.93,637.75 L937.41,638.15 L937.88,638.55 L938.35,638.94 L938.82,639.34 L939.29,639.75 L939.77,640.15 L940.24,640.55 L940.71,640.96 L941.18,641.37 L941.65,641.78 L942.13,642.19 L942.60,642.60 L943.07,643.01 L943.54,643.43 L944.01,643.84 L944.49,644.26 L944.96,644.68 L945.43,645.10 L945.90,645.52 L946.37,645.95 L946.85,646.37 L947.32,646.80 L947.79,647.23 L948.26,647.66 L948.73,648.09 L949.21,648.52 L949.68,648.95 L950.15,649.38 L950.62,649.82 L951.09,650.25 L951.57,650.69 L952.04,651.13 L952.51,651.57 L952.98,652.01 L953.45,652.45 L953.93,652.89 L954.40,653.34 L954.87,653.78 L955.34,654.23 L955.81,654.67 L956.29,655.12 L956.76,655.57 L957.23,656.02 L957.70,656.47 L958.17,656.92 L958.65,657.38 L959.12,657.83 L959.59,658.28 L960.06,658.74 L960.53,659.20 L961.01,659.65 L961.48,660.11 L961.95,660.57 L962.42,661.03 L962.89,661.49 L963.36,661.95 L963.84,662.41 L964.31,662.87 L964.78,663.33 L965.25,663.80 L965.72,664.26 L966.20,664.73 L966.67,665.19 L967.14,665.66 L967.61,666.12 L968.08,666.59 L968.56,667.06 L969.03,667.52 L969.50,667.99 L969.97,668.46 L970.44,668.93 L970.92,669.40 L971.39,669.87 L971.86,670.34 L972.33,670.81 L972.80,671.28 L973.28,671.75 L973.75,672.22 L974.22,672.69 L974.69,673.16 L975.16,673.64 L975.64,674.11 L976.11,674.58 L976.58,675.05 L977.05,675.53 L977.52,676.00 L978.00,676.47 L978.47,676.94 L978.94,677.42 L979.41,677.89 L979.88,678.36 L980.36,678.84 L980.83,679.31 L981.30,679.78 L981.77,680.26 L982.24,680.73 L982.72,681.20 L983.19,681.67 L983.66,682.15 L984.13,682.62 L984.60,683.09 L985.08,683.56 L985.55,684.04 L986.02,684.51 L986.49,684.98 L986.96,685.45 L987.44,685.92 L987.91,686.39 L988.38,686.86 L988.85,687.33 L989.32,687.80 L989.80,688.27 L990.27,688.74 L990.74,689.21 L991.21,689.68 L991.68,690.15 L992.16,690.61 L992.63,691.08 L993.10,691.55 L993.57,692.01 L994.04,692.48 L994.52,692.94 L994.99,693.41 L995.46,693.87 L995.93,694.34 L996.40,694.80 L996.88,695.26 L997.35,695.72 L997.82,696.18 L998.29,696.64 L998.76,697.10 L999.24,697.56 L999.71,698.02 L1000.18,698.48 L1000.65,698.94 L1001.12,699.39 L1001.60,699.85 L1002.07,700.30 L1002.54,700.76 L1003.01,701.21 L1003.48,701.66 L1003.95,702.12 L1004.43,702.57 L1004.90,703.02 L1005.37,703.47 L1005.84,703.92 L1006.31,704.36 L1006.79,704.81 L1007.26,705.26 L1007.73,705.70 L1008.20,706.15 L1008.67,706.59 L1009.15,707.03 L1009.62,707.47 L1010.09,707.92 L1010.56,708.35 L1011.03,708.79 L1011.51,709.23 L1011.98,709.67 L1012.45,710.10 L1012.92,710.54 L1013.39,710.97 L1013.87,711.41 L1014.34,711.84 L1014.81,712.27 L1015.28,712.70 L1015.75,713.13 L1016.23,713.56 L1016.70,713.98 L1017.17,714.41 L1017.64,714.83 L1018.11,715.26 L1018.59,715.68 L1019.06,716.10 L1019.53,716.52 L1020.00,716.94 L1020.47,717.36 L1020.95,717.78 L1021.42,718.19 L1021.89,718.61 L1022.36,719.02 L1022.83,719.43 L1023.31,719.84 L1023.78,720.25 L1024.25,720.66 L1024.72,721.07 L1025.19,721.48 L1025.67,721.88 L1026.14,722.29 L1026.61,722.69 L1027.08,723.09 L1027.55,723.49 L1028.03,723.89 L1028.50,724.29 L1028.97,724.69 L1029.44,725.09 L1029.91,725.48 L1030.39,725.87 L1030.86,726.27 L1031.33,726.66 L1031.80,727.05 L1032.27,727.44 L1032.75,727.82 L1033.22,728.21 L1033.69,728.59 L1034.16,728.98 L1034.63,729.36 L1035.11,729.74 L1035.58,730.12 L1036.05,730.50 L1036.52,730.88 L1036.99,731.25 L1037.47,731.63 L1037.94,732.00 L1038.41,732.37 L1038.88,732.75 L1039.35,733.12 L1039.83,733.48 L1040.30,733.85 L1040.77,734.22 L1041.24,734.58 L1041.71,734.95 L1042.19,735.31 L1042.66,735.67 L1043.13,736.03 L1043.60,736.39 L1044.07,736.74 L1044.54,737.10 L1045.02,737.45 L1045.49,737.81 L1045.96,738.16 L1046.43,738.51 L1046.90,738.86 L1047.38,739.21 L1047.85,739.55 L1048.32,739.90 L1048.79,740.24 L1049.26,740.59 L1049.74,740.93 L1050.21,741.27 L1050.68,741.61 L1051.15,741.95 L1051.62,742.28 L1052.10,742.62 L1052.57,742.95 L1053.04,743.28 L1053.51,743.62 L1053.98,743.95 L1054.46,744.28 L1054.93,744.60 L1055.40,744.93 L1055.87,745.25 L1056.34,745.58 L1056.82,745.90 L1057.29,746.22 L1057.76,746.54 L1058.23,746.86 L1058.70,747.18 L1059.18,747.49 L1059.65,747.81 L1060.12,748.12 L1060.59,748.44 L1061.06,748.75 L1061.54,749.06 L1062.01,749.37 L1062.48,749.67 L1062.95,749.98 L1063.42,750.28 L1063.90,750.59 L1064.37,750.89 L1064.84,751.19 L1065.31,751.49 L1065.78,751.79 L1066.26,752.09 L1066.73,752.39 L1067.20,752.68 L1067.67,752.97 L1068.14,753.27 L1068.62,753.56 L1069.09,753.85 L1069.56,754.14 L1070.03,754.43 L1070.50,754.71 L1070.98,755.00 L1071.45,755.28 L1071.92,755.57 L1072.39,755.85 L1072.86,756.13 L1073.34,756.41 L1073.81,756.69 L1074.28,756.96 L1074.75,757.24 L1075.22,757.51 L1075.70,757.79 L1076.17,758.06 L1076.64,758.33 L1077.11,758.60 L1077.58,758.87 L1078.06,759.14 L1078.53,759.41 L1079.00,759.67 L1079.47,759.94 L1079.94,760.20 L1080.42,760.46 L1080.89,760.72 L1081.36,760.98 L1081.83,761.24 L1082.30,761.50 L1082.78,761.76 L1083.25,762.01 L1083.72,762.27 L1084.19,762.52 L1084.66,762.77 L1085.13,763.02 L1085.61,763.27 L1086.08,763.52 L1086.55,763.77 L1087.02,764.01 L1087.49,764.26 L1087.97,764.50 L1088.44,764.75 L1088.91,764.99 L1089.38,765.23 L1089.85,765.47 L1090.33,765.71 L1090.80,765.95 L1091.27,766.19 L1091.74,766.42 L1092.21,766.66 L1092.69,766.89 L1093.16,767.12 L1093.63,767.36 L1094.10,767.59 L1094.57,767.82 L1095.05,768.04 L1095.52,768.27 L1095.99,768.50 L1096.46,768.72 L1096.93,768.95 L1097.41,769.17 L1097.88,769.40 L1098.35,769.62 L1098.82,769.84 L1099.29,770.06 L1099.77,770.28 L1100.24,770.49 L1100.71,770.71 L1101.18,770.93 L1101.65,771.14 L1102.13,771.36 L1102.60,771.57 L1103.07,771.78 L1103.54,771.99 L1104.01,772.20 L1104.49,772.41 L1104.96,772.62 L1105.43,772.83 L1105.90,773.03 L1106.37,773.24 L1106.85,773.44 L1107.32,773.65 L1107.79,773.85 L1108.26,774.05 L1108.73,774.25 L1109.21,774.45 L1109.68,774.65 L1110.15,774.85 L1110.62,775.05 L1111.09,775.24 L1111.57,775.44 L1112.04,775.63 L1112.51,775.83 L1112.98,776.02 L1113.45,776.21 L1113.93,776.40 L1114.40,776.59 L1114.87,776.78 L1115.34,776.97 L1115.81,777.16 L1116.29,777.35 L1116.76,777.53 L1117.23,777.72 L1117.70,777.90 L1118.17,778.09 L1118.65,778.27 L1119.12,778.45 L1119.59,778.63 L1120.06,778.81 L1120.53,778.99 L1121.01,779.17 L1121.48,779.35 L1121.95,779.53 L1122.42,779.70 L1122.89,779.88 L1123.37,780.05 L1123.84,780.23 L1124.31,780.40 L1124.78,780.57 L1125.25,780.75 L1125.72,780.92 L1126.20,781.09 L1126.67,781.26 L1127.14,781.43 L1127.61,781.59 L1128.08,781.76 L1128.56,781.93 L1129.03,782.09 L1129.50,782.26 L1129.97,782.42 L1130.44,782.59 L1130.92,782.75 L1131.39,782.91 L1131.86,783.07 L1132.33,783.24 L1132.80,783.40 L1133.28,783.56 L1133.75,783.71 L1134.22,783.87 L1134.69,784.03 L1135.16,784.19 L1135.64,784.34 L1136.11,784.50 L1136.58,784.65 L1137.05,784.81 L1137.52,784.96 L1138.00,785.11 L1138.47,785.27 L1138.94,785.42 L1139.41,785.57 L1139.88,785.72 L1140.36,785.87 L1140.83,786.02 L1141.30,786.17 L1141.77,786.31 L1142.24,786.46 L1142.72,786.61 L1143.19,786.75 L1143.66,786.90 L1144.13,787.04 L1144.60,787.19 L1145.08,787.33 L1145.55,787.47 L1146.02,787.62 L1146.49,787.76 L1146.96,787.90 L1147.44,788.04 L1147.91,788.18 L1148.38,788.32 L1148.85,788.46 L1149.32,788.60 L1149.80,788.73 L1150.27,788.87 L1150.74,789.01 L1151.21,789.14 L1151.68,789.28 L1152.16,789.42 L1152.63,789.55 L1153.10,789.68 L1153.57,789.82 L1154.04,789.95 L1154.52,790.08 L1154.99,790.22 L1155.46,790.35 L1155.93,790.48 L1156.40,790.61 L1156.88,790.74 L1157.35,790.87 L1157.82,791.00 L1158.29,791.13 L1158.76,791.25 L1159.24,791.38 L1159.71,791.51 L1160.18,791.64 L1160.65,791.76 L1161.12,791.89 L1161.60,792.01 L1162.07,792.14 L1162.54,792.26 L1163.01,792.39 L1163.48,792.51 L1163.96,792.63 L1164.43,792.76 L1164.90,792.88 L1165.37,793.00 L1165.84,793.12 L1166.31,793.24 L1166.79,793.36 L1167.26,793.48 L1167.73,793.60 L1168.20,793.72 L1168.67,793.84 L1169.15,793.96 L1169.62,794.08 L1170.09,794.20 L1170.56,794.31 L1171.03,794.43 L1171.51,794.55 L1171.98,794.66 L1172.45,794.78 L1172.92,794.90 L1173.39,795.01 L1173.87,795.13 L1174.34,795.24 L1174.81,795.36 L1175.28,795.47 L1175.75,795.58 L1176.23,795.70 L1176.70,795.81 L1177.17,795.92 L1177.64,796.04 L1178.11,796.15 L1178.59,796.26 L1179.06,796.37 L1179.53,796.48 L1180.00,796.59 L1180.47,796.71 L1180.95,796.82 L1181.42,796.93 L1181.89,797.04 L1182.36,797.15 L1182.83,797.26 L1183.31,797.36 L1183.78,797.47 L1184.25,797.58 L1184.72,797.69 L1185.19,797.80 L1185.67,797.91 L1186.14,798.02 L1186.61,798.12 L1187.08,798.23 L1187.55,798.34 L1188.03,798.44 L1188.50,798.55 L1188.97,798.66 L1189.44,798.76 L1189.91,798.87 L1190.39,798.98 L1190.86,799.08 L1191.33,799.19 L1191.80,799.29 L1192.27,799.40 L1192.75,799.50 L1193.22,799.61 L1193.69,799.71 L1194.16,799.82 L1194.63,799.92 L1195.11,800.03 L1195.58,800.13 L1196.05,800.24 L1196.52,800.34 L1196.99,800.44 L1197.47,800.55 L1197.94,800.65 L1198.41,800.76 L1198.88,800.86 L1199.35,800.96 L1199.83,801.07 L1200.30,801.17 L1200.77,801.27 L1201.24,801.38 L1201.71,801.48 L1202.19,801.58 L1202.66,801.69 L1203.13,801.79 L1203.60,801.89 L1204.07,801.99 L1204.55,802.10 L1205.02,802.20 L1205.49,802.30 L1205.96,802.41 L1206.43,802.51 L1206.90,802.61 L1207.38,802.72 L1207.85,802.82 L1208.32,802.92 L1208.79,803.02 L1209.26,803.13 L1209.74,803.23 L1210.21,803.33 L1210.68,803.44 L1211.15,803.54 L1211.62,803.64 L1212.10,803.75 L1212.57,803.85 L1213.04,803.95 L1213.51,804.06 L1213.98,804.16 L1214.46,804.27 L1214.93,804.37 L1215.40,804.47 L1215.87,804.58 L1216.34,804.68 L1216.82,804.79 L1217.29,804.89 L1217.76,805.00 L1218.23,805.10 L1218.70,805.21 L1219.18,805.31 L1219.65,805.42 L1220.12,805.52 L1220.59,805.63 L1221.06,805.74 L1221.54,805.84 L1222.01,805.95 L1222.48,806.06 L1222.95,806.16 L1223.42,806.27 L1223.90,806.38 L1224.37,806.49 L1224.84,806.59 L1225.31,806.70 L1225.78,806.81 L1226.26,806.92 L1226.73,807.03 L1227.20,807.14 L1227.67,807.25 L1228.14,807.36 L1228.62,807.47 L1229.09,807.58 L1229.56,807.69 L1230.03,807.80 L1230.50,807.92 L1230.98,808.03 L1231.45,808.14 L1231.92,808.25 L1232.39,808.37 L1232.86,808.48 L1233.34,808.60 L1233.81,808.71 L1234.28,808.83 L1234.75,808.94 L1235.22,809.06 L1235.70,809.17 L1236.17,809.29 L1236.64,809.41 L1237.11,809.53 L1237.58,809.65 L1238.06,809.77 L1238.53,809.89 L1239.00,810.01 L1239.47,810.13 L1239.94,810.25 L1240.42,810.37 L1240.89,810.49 L1241.36,810.61 L1241.83,810.74 L1242.30,810.86 L1242.78,810.99 L1243.25,811.11 L1243.72,811.24 L1244.19,811.37 L1244.66,811.49 L1245.14,811.62 L1245.61,811.75 L1246.08,811.88 L1246.55,812.01 L1247.02,812.14 L1247.49,812.27 L1247.97,812.41 L1248.44,812.54 L1248.91,812.67 L1249.38,812.81 L1249.85,812.94 L1250.33,813.08 L1250.80,813.22 L1251.27,813.35 L1251.74,813.49 L1252.21,813.63 L1252.69,813.77 L1253.16,813.91 L1253.63,814.06 L1254.10,814.20 L1254.57,814.34 L1255.05,814.49 L1255.52,814.64 L1255.99,814.78 L1256.46,814.93 L1256.93,815.08 L1257.41,815.23 L1257.88,815.38 L1258.35,815.53 L1258.82,815.69 L1259.29,815.84 L1259.77,816.00 L1260.24,816.15 L1260.71,816.31 L1261.18,816.47 L1261.65,816.63 L1262.13,816.79 L1262.60,816.95 L1263.07,817.11 L1263.54,817.28 L1264.01,817.44 L1264.49,817.61 L1264.96,817.78 L1265.43,817.95 L1265.90,818.12 L1266.37,818.29 L1266.85,818.46 L1267.32,818.64 L1267.79,818.81 L1268.26,818.99 L1268.73,819.17 L1269.21,819.35 L1269.68,819.53 L1270.15,819.72 L1270.62,819.90 L1271.09,820.09 L1271.57,820.27 L1272.04,820.46 L1272.51,820.65 L1272.98,820.84 L1273.45,821.04 L1273.93,821.23 L1274.40,821.43 L1274.87,821.63 L1275.34,821.83 L1275.81,822.03 L1276.29,822.23 L1276.76,822.44 L1277.23,822.65 L1277.70,822.85 L1278.17,823.06 L1278.65,823.28 L1279.12,823.49 L1279.59,823.71 L1280.06,823.92 L1280.53,824.14 L1281.01,824.36 L1281.48,824.59 L1281.95,824.81 L1282.42,825.04 L1282.89,825.27 L1283.37,825.50 L1283.84,825.73 L1284.31,825.97 L1284.78,826.20 L1285.25,826.44 L1285.73,826.68 L1286.20,826.93 L1286.67,827.17 L1287.14,827.42 L1287.61,827.67 L1288.08,827.92 L1288.56,828.18 L1289.03,828.43 L1289.50,828.69 L1289.97,828.95 L1290.44,829.22 L1290.92,829.48 L1291.39,829.75 L1291.86,830.02 L1292.33,830.29 L1292.80,830.57 L1293.28,830.85 L1293.75,831.13 L1294.22,831.41 L1294.69,831.70 L1295.16,831.99 L1295.64,832.28 L1296.11,832.57 L1296.58,832.87 L1297.05,833.16 L1297.52,833.47 L1298.00,833.77 L1298.47,834.08 L1298.94,834.39 L1299.41,834.70 L1299.88,835.02 L1300.36,835.33 L1300.83,835.65 L1301.30,835.98 L1301.77,836.31 L1302.24,836.64 L1302.72,836.97 L1303.19,837.30 L1303.66,837.64 L1304.13,837.99 L1304.60,838.33 L1305.08,838.68 L1305.55,839.03 L1306.02,839.39 L1306.49,839.74 L1306.96,840.11 L1307.44,840.47 L1307.91,840.84 L1308.38,841.21 L1308.85,841.58 L1309.32,841.96 L1309.80,842.34 L1310.27,842.73 L1310.74,843.12 L1311.21,843.51 L1311.68,843.90 L1312.16,844.30 L1312.63,844.70 L1313.10,845.11 L1313.57,845.52 L1314.04,845.93 L1314.52,846.35 L1314.99,846.77 L1315.46,847.19 L1315.93,847.62 L1316.40,848.05 L1316.88,848.49 L1317.35,848.93 L1317.82,849.37 L1318.29,849.82 L1318.76,850.27 L1319.24,850.73 L1319.71,851.19 L1320.18,851.65 L1320.65,852.12 L1321.12,852.59 L1321.60,853.06 L1322.07,853.54 L1322.54,854.03 L1323.01,854.52 L1323.48,855.01 L1323.96,855.50 L1324.43,856.00 L1324.90,856.51 L1325.37,857.02 L1325.84,857.53 L1326.32,858.05 L1326.79,858.57 L1327.26,859.10 L1327.73,859.63 L1328.20,860.16 L1328.67,860.70 L1329.15,861.25 L1329.62,861.80 L1330.09,862.35 L1330.56,862.91 L1331.03,863.47 L1331.51,864.04 L1331.98,864.61 L1332.45,865.19 L1332.92,865.77 L1333.39,866.35 L1333.87,866.94 L1334.34,867.54 L1334.81,868.14 L1335.28,868.74 L1335.75,869.35 L1336.23,869.96 L1336.70,870.58 L1337.17,871.20 L1337.64,871.83 L1338.11,872.46 L1338.59,873.10 L1339.06,873.74 L1339.53,874.39 L1340.00,875.04 L1340.47,875.70 L1340.95,876.36 L1341.42,877.03 L1341.89,877.70 L1342.36,878.38 L1342.83,879.06 L1343.31,879.74 L1343.78,880.43 L1344.25,881.13 L1344.72,881.83 L1345.19,882.53 L1345.67,883.24 L1346.14,883.96 L1346.61,884.68 L1347.08,885.40 L1347.55,886.13 L1348.03,886.87 L1348.50,887.61 L1348.97,888.35 L1349.44,889.10 L1349.91,889.85 L1350.39,890.61 L1350.86,891.38 L1351.33,892.14 L1351.80,892.92 L1352.27,893.69 L1352.75,894.48 L1353.22,895.26 L1353.69,896.05 L1354.16,896.85 L1354.63,897.65 L1355.11,898.46 L1355.58,899.27 L1356.05,900.08 L1356.52,900.90 L1356.99,901.72 L1357.47,902.55 L1357.94,903.38 L1358.41,904.22 L1358.88,905.06 L1359.35,905.90 L1359.83,906.75 L1360.30,907.60 L1360.77,908.46 L1361.24,909.32 L1361.71,910.19 L1362.19,911.06 L1362.66,911.93 L1363.13,912.81 L1363.60,913.69 L1364.07,914.57 L1364.55,915.46 L1365.02,916.35 L1365.49,917.25 L1365.96,918.15 L1366.43,919.05 L1366.91,919.96 L1367.38,920.86 L1367.85,921.78 L1368.32,922.69 L1368.79,923.61 L1369.26,924.53 L1369.74,925.46 L1370.21,926.38 L1370.68,927.31 L1371.15,928.24 L1371.62,929.18 L1372.10,930.12 L1372.57,931.06 L1373.04,932.00 L1373.51,932.94 L1373.98,933.89 L1374.46,934.83 L1374.93,935.78 L1375.40,936.74 L1375.87,937.69 L1376.34,938.64 L1376.82,939.60 L1377.29,940.56 L1377.76,941.52 L1378.23,942.47 L1378.70,943.43 L1379.18,944.40 L1379.65,945.36 L1380.12,946.32 L1380.59,947.28 L1381.06,948.25 L1381.54,949.21 L1382.01,950.17 L1382.48,951.14 L1382.95,952.10 L1383.42,953.06 L1383.90,954.02 L1384.37,954.99 L1384.84,955.95 L1385.31,956.91 L1385.78,957.87 L1386.26,958.82 L1386.73,959.78 L1387.20,960.73" fill="none" stroke="#4a5fb0" stroke-width="2.3" stroke-linejoin="round"/>
<path d="M821.30,589.89 L821.77,589.94 L822.24,589.99 L822.72,590.05 L823.19,590.10 L823.66,590.16 L824.13,590.21 L824.60,590.27 L825.08,590.32 L825.55,590.38 L826.02,590.44 L826.49,590.50 L826.96,590.56 L827.44,590.62 L827.91,590.68 L828.38,590.74 L828.85,590.80 L829.32,590.87 L829.80,590.93 L830.27,590.99 L830.74,591.06 L831.21,591.12 L831.68,591.19 L832.16,591.26 L832.63,591.32 L833.10,591.39 L833.57,591.46 L834.04,591.53 L834.52,591.60 L834.99,591.67 L835.46,591.74 L835.93,591.82 L836.40,591.89 L836.88,591.96 L837.35,592.04 L837.82,592.11 L838.29,592.19 L838.76,592.27 L839.24,592.35 L839.71,592.43 L840.18,592.50 L840.65,592.59 L841.12,592.67 L841.59,592.75 L842.07,592.83 L842.54,592.92 L843.01,593.00 L843.48,593.09 L843.95,593.17 L844.43,593.26 L844.90,593.35 L845.37,593.44 L845.84,593.53 L846.31,593.62 L846.79,593.71 L847.26,593.81 L847.73,593.90 L848.20,594.00 L848.67,594.09 L849.15,594.19 L849.62,594.29 L850.09,594.39 L850.56,594.49 L851.03,594.59 L851.51,594.69 L851.98,594.79 L852.45,594.90 L852.92,595.00 L853.39,595.11 L853.87,595.21 L854.34,595.32 L854.81,595.43 L855.28,595.54 L855.75,595.65 L856.23,595.77 L856.70,595.88 L857.17,595.99 L857.64,596.11 L858.11,596.23 L858.59,596.35 L859.06,596.47 L859.53,596.59 L860.00,596.71 L860.47,596.83 L860.95,596.96 L861.42,597.08 L861.89,597.21 L862.36,597.34 L862.83,597.46 L863.31,597.59 L863.78,597.73 L864.25,597.86 L864.72,597.99 L865.19,598.13 L865.67,598.27 L866.14,598.40 L866.61,598.54 L867.08,598.68 L867.55,598.83 L868.03,598.97 L868.50,599.11 L868.97,599.26 L869.44,599.41 L869.91,599.56 L870.39,599.71 L870.86,599.86 L871.33,600.01 L871.80,600.16 L872.27,600.32 L872.75,600.48 L873.22,600.64 L873.69,600.80 L874.16,600.96 L874.63,601.12 L875.11,601.29 L875.58,601.45 L876.05,601.62 L876.52,601.79 L876.99,601.96 L877.47,602.13 L877.94,602.30 L878.41,602.48 L878.88,602.65 L879.35,602.83 L879.83,603.01 L880.30,603.19 L880.77,603.38 L881.24,603.56 L881.71,603.75 L882.18,603.94 L882.66,604.12 L883.13,604.32 L883.60,604.51 L884.07,604.70 L884.54,604.90 L885.02,605.10 L885.49,605.29 L885.96,605.50 L886.43,605.70 L886.90,605.90 L887.38,606.11 L887.85,606.32 L888.32,606.53 L888.79,606.74 L889.26,606.95 L889.74,607.16 L890.21,607.38 L890.68,607.60 L891.15,607.82 L891.62,608.04 L892.10,608.26 L892.57,608.49 L893.04,608.71 L893.51,608.94 L893.98,609.17 L894.46,609.41 L894.93,609.64 L895.40,609.88 L895.87,610.11 L896.34,610.35 L896.82,610.59 L897.29,610.84 L897.76,611.08 L898.23,611.33 L898.70,611.58 L899.18,611.83 L899.65,612.08 L900.12,612.34 L900.59,612.59 L901.06,612.85 L901.54,613.11 L902.01,613.37 L902.48,613.64 L902.95,613.90 L903.42,614.17 L903.90,614.44 L904.37,614.71 L904.84,614.98 L905.31,615.26 L905.78,615.54 L906.26,615.81 L906.73,616.10 L907.20,616.38 L907.67,616.66 L908.14,616.95 L908.62,617.24 L909.09,617.53 L909.56,617.82 L910.03,618.12 L910.50,618.41 L910.98,618.71 L911.45,619.01 L911.92,619.31 L912.39,619.62 L912.86,619.92 L913.34,620.23 L913.81,620.54 L914.28,620.85 L914.75,621.17 L915.22,621.48 L915.70,621.80 L916.17,622.12 L916.64,622.44 L917.11,622.76 L917.58,623.09 L918.06,623.41 L918.53,623.74 L919.00,624.07 L919.47,624.41 L919.94,624.74 L920.42,625.08 L920.89,625.42 L921.36,625.76 L921.83,626.10 L922.30,626.44 L922.77,626.79 L923.25,627.14 L923.72,627.49 L924.19,627.84 L924.66,628.19 L925.13,628.55 L925.61,628.90 L926.08,629.26 L926.55,629.62 L927.02,629.98 L927.49,630.35 L927.97,630.71 L928.44,631.08 L928.91,631.45 L929.38,631.82 L929.85,632.20 L930.33,632.57 L930.80,632.95 L931.27,633.32 L931.74,633.70 L932.21,634.09 L932.69,634.47 L933.16,634.85 L933.63,635.24 L934.10,635.63 L934.57,636.02 L935.05,636.41 L935.52,636.80 L935.99,637.20 L936.46,637.59 L936.93,637.99 L937.41,638.39 L937.88,638.79 L938.35,639.19 L938.82,639.60 L939.29,640.00 L939.77,640.41 L940.24,640.82 L940.71,641.23 L941.18,641.64 L941.65,642.05 L942.13,642.47 L942.60,642.88 L943.07,643.30 L943.54,643.72 L944.01,644.14 L944.49,644.56 L944.96,644.98 L945.43,645.41 L945.90,645.83 L946.37,646.26 L946.85,646.69 L947.32,647.12 L947.79,647.55 L948.26,647.98 L948.73,648.41 L949.21,648.84 L949.68,649.28 L950.15,649.72 L950.62,650.15 L951.09,650.59 L951.57,651.03 L952.04,651.47 L952.51,651.91 L952.98,652.35 L953.45,652.80 L953.93,653.24 L954.40,653.69 L954.87,654.13 L955.34,654.58 L955.81,655.03 L956.29,655.48 L956.76,655.93 L957.23,656.38 L957.70,656.83 L958.17,657.29 L958.65,657.74 L959.12,658.19 L959.59,658.65 L960.06,659.10 L960.53,659.56 L961.01,660.02 L961.48,660.48 L961.95,660.93 L962.42,661.39 L962.89,661.85 L963.36,662.31 L963.84,662.77 L964.31,663.23 L964.78,663.70 L965.25,664.16 L965.72,664.62 L966.20,665.09 L966.67,665.55 L967.14,666.01 L967.61,666.48 L968.08,666.94 L968.56,667.41 L969.03,667.87 L969.50,668.34 L969.97,668.81 L970.44,669.27 L970.92,669.74 L971.39,670.21 L971.86,670.68 L972.33,671.14 L972.80,671.61 L973.28,672.08 L973.75,672.55 L974.22,673.02 L974.69,673.48 L975.16,673.95 L975.64,674.42 L976.11,674.89 L976.58,675.36 L977.05,675.83 L977.52,676.30 L978.00,676.76 L978.47,677.23 L978.94,677.70 L979.41,678.17 L979.88,678.64 L980.36,679.11 L980.83,679.57 L981.30,680.04 L981.77,680.51 L982.24,680.98 L982.72,681.44 L983.19,681.91 L983.66,682.38 L984.13,682.84 L984.60,683.31 L985.08,683.77 L985.55,684.24 L986.02,684.71 L986.49,685.17 L986.96,685.63 L987.44,686.10 L987.91,686.56 L988.38,687.03 L988.85,687.49 L989.32,687.95 L989.80,688.41 L990.27,688.87 L990.74,689.33 L991.21,689.79 L991.68,690.25 L992.16,690.71 L992.63,691.17 L993.10,691.63 L993.57,692.09 L994.04,692.54 L994.52,693.00 L994.99,693.45 L995.46,693.91 L995.93,694.36 L996.40,694.82 L996.88,695.27 L997.35,695.72 L997.82,696.17 L998.29,696.62 L998.76,697.07 L999.24,697.52 L999.71,697.97 L1000.18,698.42 L1000.65,698.86 L1001.12,699.31 L1001.60,699.75 L1002.07,700.20 L1002.54,700.64 L1003.01,701.08 L1003.48,701.52 L1003.95,701.96 L1004.43,702.40 L1004.90,702.84 L1005.37,703.28 L1005.84,703.72 L1006.31,704.15 L1006.79,704.59 L1007.26,705.02 L1007.73,705.45 L1008.20,705.88 L1008.67,706.31 L1009.15,706.74 L1009.62,707.17 L1010.09,707.60 L1010.56,708.03 L1011.03,708.45 L1011.51,708.88 L1011.98,709.30 L1012.45,709.72 L1012.92,710.15 L1013.39,710.57 L1013.87,710.98 L1014.34,711.40 L1014.81,711.82 L1015.28,712.24 L1015.75,712.65 L1016.23,713.06 L1016.70,713.48 L1017.17,713.89 L1017.64,714.30 L1018.11,714.71 L1018.59,715.11 L1019.06,715.52 L1019.53,715.93 L1020.00,716.33 L1020.47,716.73 L1020.95,717.14 L1021.42,717.54 L1021.89,717.94 L1022.36,718.33 L1022.83,718.73 L1023.31,719.13 L1023.78,719.52 L1024.25,719.91 L1024.72,720.31 L1025.19,720.70 L1025.67,721.09 L1026.14,721.48 L1026.61,721.86 L1027.08,722.25 L1027.55,722.63 L1028.03,723.02 L1028.50,723.40 L1028.97,723.78 L1029.44,724.16 L1029.91,724.54 L1030.39,724.91 L1030.86,725.29 L1031.33,725.66 L1031.80,726.04 L1032.27,726.41 L1032.75,726.78 L1033.22,727.15 L1033.69,727.52 L1034.16,727.88 L1034.63,728.25 L1035.11,728.61 L1035.58,728.97 L1036.05,729.34 L1036.52,729.70 L1036.99,730.05 L1037.47,730.41 L1037.94,730.77 L1038.41,731.12 L1038.88,731.48 L1039.35,731.83 L1039.83,732.18 L1040.30,732.53 L1040.77,732.88 L1041.24,733.22 L1041.71,733.57 L1042.19,733.91 L1042.66,734.26 L1043.13,734.60 L1043.60,734.94 L1044.07,735.28 L1044.54,735.62 L1045.02,735.95 L1045.49,736.29 L1045.96,736.62 L1046.43,736.95 L1046.90,737.28 L1047.38,737.61 L1047.85,737.94 L1048.32,738.27 L1048.79,738.60 L1049.26,738.92 L1049.74,739.24 L1050.21,739.57 L1050.68,739.89 L1051.15,740.21 L1051.62,740.52 L1052.10,740.84 L1052.57,741.16 L1053.04,741.47 L1053.51,741.78 L1053.98,742.10 L1054.46,742.41 L1054.93,742.71 L1055.40,743.02 L1055.87,743.33 L1056.34,743.63 L1056.82,743.94 L1057.29,744.24 L1057.76,744.54 L1058.23,744.84 L1058.70,745.14 L1059.18,745.44 L1059.65,745.73 L1060.12,746.03 L1060.59,746.32 L1061.06,746.62 L1061.54,746.91 L1062.01,747.20 L1062.48,747.49 L1062.95,747.77 L1063.42,748.06 L1063.90,748.34 L1064.37,748.63 L1064.84,748.91 L1065.31,749.19 L1065.78,749.47 L1066.26,749.75 L1066.73,750.03 L1067.20,750.30 L1067.67,750.58 L1068.14,750.85 L1068.62,751.13 L1069.09,751.40 L1069.56,751.67 L1070.03,751.94 L1070.50,752.20 L1070.98,752.47 L1071.45,752.74 L1071.92,753.00 L1072.39,753.26 L1072.86,753.53 L1073.34,753.79 L1073.81,754.05 L1074.28,754.30 L1074.75,754.56 L1075.22,754.82 L1075.70,755.07 L1076.17,755.32 L1076.64,755.58 L1077.11,755.83 L1077.58,756.08 L1078.06,756.33 L1078.53,756.58 L1079.00,756.82 L1079.47,757.07 L1079.94,757.31 L1080.42,757.56 L1080.89,757.80 L1081.36,758.04 L1081.83,758.28 L1082.30,758.52 L1082.78,758.76 L1083.25,758.99 L1083.72,759.23 L1084.19,759.46 L1084.66,759.70 L1085.13,759.93 L1085.61,760.16 L1086.08,760.39 L1086.55,760.62 L1087.02,760.85 L1087.49,761.07 L1087.97,761.30 L1088.44,761.52 L1088.91,761.75 L1089.38,761.97 L1089.85,762.19 L1090.33,762.41 L1090.80,762.63 L1091.27,762.85 L1091.74,763.07 L1092.21,763.28 L1092.69,763.50 L1093.16,763.71 L1093.63,763.92 L1094.10,764.14 L1094.57,764.35 L1095.05,764.56 L1095.52,764.77 L1095.99,764.98 L1096.46,765.18 L1096.93,765.39 L1097.41,765.59 L1097.88,765.80 L1098.35,766.00 L1098.82,766.20 L1099.29,766.40 L1099.77,766.60 L1100.24,766.80 L1100.71,767.00 L1101.18,767.20 L1101.65,767.40 L1102.13,767.59 L1102.60,767.79 L1103.07,767.98 L1103.54,768.17 L1104.01,768.36 L1104.49,768.55 L1104.96,768.74 L1105.43,768.93 L1105.90,769.12 L1106.37,769.31 L1106.85,769.49 L1107.32,769.68 L1107.79,769.86 L1108.26,770.05 L1108.73,770.23 L1109.21,770.41 L1109.68,770.59 L1110.15,770.77 L1110.62,770.95 L1111.09,771.13 L1111.57,771.30 L1112.04,771.48 L1112.51,771.66 L1112.98,771.83 L1113.45,772.00 L1113.93,772.18 L1114.40,772.35 L1114.87,772.52 L1115.34,772.69 L1115.81,772.86 L1116.29,773.03 L1116.76,773.20 L1117.23,773.36 L1117.70,773.53 L1118.17,773.69 L1118.65,773.86 L1119.12,774.02 L1119.59,774.18 L1120.06,774.35 L1120.53,774.51 L1121.01,774.67 L1121.48,774.83 L1121.95,774.99 L1122.42,775.14 L1122.89,775.30 L1123.37,775.46 L1123.84,775.61 L1124.31,775.77 L1124.78,775.92 L1125.25,776.08 L1125.72,776.23 L1126.20,776.38 L1126.67,776.53 L1127.14,776.68 L1127.61,776.83 L1128.08,776.98 L1128.56,777.13 L1129.03,777.27 L1129.50,777.42 L1129.97,777.57 L1130.44,777.71 L1130.92,777.86 L1131.39,778.00 L1131.86,778.14 L1132.33,778.29 L1132.80,778.43 L1133.28,778.57 L1133.75,778.71 L1134.22,778.85 L1134.69,778.99 L1135.16,779.12 L1135.64,779.26 L1136.11,779.40 L1136.58,779.53 L1137.05,779.67 L1137.52,779.80 L1138.00,779.94 L1138.47,780.07 L1138.94,780.20 L1139.41,780.33 L1139.88,780.46 L1140.36,780.59 L1140.83,780.72 L1141.30,780.85 L1141.77,780.98 L1142.24,781.11 L1142.72,781.24 L1143.19,781.36 L1143.66,781.49 L1144.13,781.61 L1144.60,781.74 L1145.08,781.86 L1145.55,781.99 L1146.02,782.11 L1146.49,782.23 L1146.96,782.35 L1147.44,782.47 L1147.91,782.59 L1148.38,782.71 L1148.85,782.83 L1149.32,782.95 L1149.80,783.07 L1150.27,783.19 L1150.74,783.30 L1151.21,783.42 L1151.68,783.53 L1152.16,783.65 L1152.63,783.76 L1153.10,783.88 L1153.57,783.99 L1154.04,784.10 L1154.52,784.21 L1154.99,784.32 L1155.46,784.44 L1155.93,784.55 L1156.40,784.66 L1156.88,784.76 L1157.35,784.87 L1157.82,784.98 L1158.29,785.09 L1158.76,785.19 L1159.24,785.30 L1159.71,785.41 L1160.18,785.51 L1160.65,785.62 L1161.12,785.72 L1161.60,785.82 L1162.07,785.93 L1162.54,786.03 L1163.01,786.13 L1163.48,786.23 L1163.96,786.33 L1164.43,786.44 L1164.90,786.54 L1165.37,786.63 L1165.84,786.73 L1166.31,786.83 L1166.79,786.93 L1167.26,787.03 L1167.73,787.12 L1168.20,787.22 L1168.67,787.32 L1169.15,787.41 L1169.62,787.51 L1170.09,787.60 L1170.56,787.70 L1171.03,787.79 L1171.51,787.88 L1171.98,787.97 L1172.45,788.07 L1172.92,788.16 L1173.39,788.25 L1173.87,788.34 L1174.34,788.43 L1174.81,788.52 L1175.28,788.61 L1175.75,788.70 L1176.23,788.79 L1176.70,788.87 L1177.17,788.96 L1177.64,789.05 L1178.11,789.13 L1178.59,789.22 L1179.06,789.31 L1179.53,789.39 L1180.00,789.48 L1180.47,789.56 L1180.95,789.64 L1181.42,789.73 L1181.89,789.81 L1182.36,789.89 L1182.83,789.98 L1183.31,790.06 L1183.78,790.14 L1184.25,790.22 L1184.72,790.30 L1185.19,790.38 L1185.67,790.46 L1186.14,790.54 L1186.61,790.62 L1187.08,790.70 L1187.55,790.77 L1188.03,790.85 L1188.50,790.93 L1188.97,791.01 L1189.44,791.08 L1189.91,791.16 L1190.39,791.23 L1190.86,791.31 L1191.33,791.38 L1191.80,791.46 L1192.27,791.53 L1192.75,791.61 L1193.22,791.68 L1193.69,791.75 L1194.16,791.83 L1194.63,791.90 L1195.11,791.97 L1195.58,792.04 L1196.05,792.11 L1196.52,792.18 L1196.99,792.25 L1197.47,792.32 L1197.94,792.39 L1198.41,792.46 L1198.88,792.53 L1199.35,792.60 L1199.83,792.67 L1200.30,792.74 L1200.77,792.80 L1201.24,792.87 L1201.71,792.94 L1202.19,793.00 L1202.66,793.07 L1203.13,793.14 L1203.60,793.20 L1204.07,793.27 L1204.55,793.33 L1205.02,793.40 L1205.49,793.46 L1205.96,793.52 L1206.43,793.59 L1206.90,793.65 L1207.38,793.71 L1207.85,793.77 L1208.32,793.84 L1208.79,793.90 L1209.26,793.96 L1209.74,794.02 L1210.21,794.08 L1210.68,794.14 L1211.15,794.20 L1211.62,794.26 L1212.10,794.32 L1212.57,794.38 L1213.04,794.44 L1213.51,794.50 L1213.98,794.56 L1214.46,794.62 L1214.93,794.67 L1215.40,794.73 L1215.87,794.79 L1216.34,794.85 L1216.82,794.90 L1217.29,794.96 L1217.76,795.01 L1218.23,795.07 L1218.70,795.13 L1219.18,795.18 L1219.65,795.24 L1220.12,795.29 L1220.59,795.34 L1221.06,795.40 L1221.54,795.45 L1222.01,795.51 L1222.48,795.56 L1222.95,795.61 L1223.42,795.66 L1223.90,795.72 L1224.37,795.77 L1224.84,795.82 L1225.31,795.87 L1225.78,795.92 L1226.26,795.97 L1226.73,796.02 L1227.20,796.07 L1227.67,796.13 L1228.14,796.18 L1228.62,796.22 L1229.09,796.27 L1229.56,796.32 L1230.03,796.37 L1230.50,796.42 L1230.98,796.47 L1231.45,796.52 L1231.92,796.57 L1232.39,796.61 L1232.86,796.66 L1233.34,796.71 L1233.81,796.75 L1234.28,796.80 L1234.75,796.85 L1235.22,796.89 L1235.70,796.94 L1236.17,796.99 L1236.64,797.03 L1237.11,797.08 L1237.58,797.12 L1238.06,797.17 L1238.53,797.21 L1239.00,797.25 L1239.47,797.30 L1239.94,797.34 L1240.42,797.39 L1240.89,797.43 L1241.36,797.47 L1241.83,797.52 L1242.30,797.56 L1242.78,797.60 L1243.25,797.64 L1243.72,797.69 L1244.19,797.73 L1244.66,797.77 L1245.14,797.81 L1245.61,797.85 L1246.08,797.89 L1246.55,797.93 L1247.02,797.97 L1247.49,798.01 L1247.97,798.05 L1248.44,798.09 L1248.91,798.13 L1249.38,798.17 L1249.85,798.21 L1250.33,798.25 L1250.80,798.29 L1251.27,798.33 L1251.74,798.37 L1252.21,798.41 L1252.69,798.44 L1253.16,798.48 L1253.63,798.52 L1254.10,798.56 L1254.57,798.59 L1255.05,798.63 L1255.52,798.67 L1255.99,798.71 L1256.46,798.74 L1256.93,798.78 L1257.41,798.81 L1257.88,798.85 L1258.35,798.89 L1258.82,798.92 L1259.29,798.96 L1259.77,798.99 L1260.24,799.03 L1260.71,799.06 L1261.18,799.10 L1261.65,799.13 L1262.13,799.17 L1262.60,799.20 L1263.07,799.23 L1263.54,799.27 L1264.01,799.30 L1264.49,799.34 L1264.96,799.37 L1265.43,799.40 L1265.90,799.43 L1266.37,799.47 L1266.85,799.50 L1267.32,799.53 L1267.79,799.56 L1268.26,799.60 L1268.73,799.63 L1269.21,799.66 L1269.68,799.69 L1270.15,799.72 L1270.62,799.75 L1271.09,799.79 L1271.57,799.82 L1272.04,799.85 L1272.51,799.88 L1272.98,799.91 L1273.45,799.94 L1273.93,799.97 L1274.40,800.00 L1274.87,800.03 L1275.34,800.06 L1275.81,800.09 L1276.29,800.12 L1276.76,800.15 L1277.23,800.18 L1277.70,800.20 L1278.17,800.23 L1278.65,800.26 L1279.12,800.29 L1279.59,800.32 L1280.06,800.35 L1280.53,800.37 L1281.01,800.40 L1281.48,800.43 L1281.95,800.46 L1282.42,800.49 L1282.89,800.51 L1283.37,800.54 L1283.84,800.57 L1284.31,800.59 L1284.78,800.62 L1285.25,800.65 L1285.73,800.67 L1286.20,800.70 L1286.67,800.73 L1287.14,800.75 L1287.61,800.78 L1288.08,800.80 L1288.56,800.83 L1289.03,800.86 L1289.50,800.88 L1289.97,800.91 L1290.44,800.93 L1290.92,800.96 L1291.39,800.98 L1291.86,801.01 L1292.33,801.03 L1292.80,801.05 L1293.28,801.08 L1293.75,801.10 L1294.22,801.13 L1294.69,801.15 L1295.16,801.17 L1295.64,801.20 L1296.11,801.22 L1296.58,801.25 L1297.05,801.27 L1297.52,801.29 L1298.00,801.32 L1298.47,801.34 L1298.94,801.36 L1299.41,801.38 L1299.88,801.41 L1300.36,801.43 L1300.83,801.45 L1301.30,801.47 L1301.77,801.50 L1302.24,801.52 L1302.72,801.54 L1303.19,801.56 L1303.66,801.58 L1304.13,801.61 L1304.60,801.63 L1305.08,801.65 L1305.55,801.67 L1306.02,801.69 L1306.49,801.71 L1306.96,801.73 L1307.44,801.75 L1307.91,801.77 L1308.38,801.79 L1308.85,801.81 L1309.32,801.84 L1309.80,801.86 L1310.27,801.88 L1310.74,801.90 L1311.21,801.92 L1311.68,801.94 L1312.16,801.96 L1312.63,801.98 L1313.10,801.99 L1313.57,802.01 L1314.04,802.03 L1314.52,802.05 L1314.99,802.07 L1315.46,802.09 L1315.93,802.11 L1316.40,802.13 L1316.88,802.15 L1317.35,802.17 L1317.82,802.18 L1318.29,802.20 L1318.76,802.22 L1319.24,802.24 L1319.71,802.26 L1320.18,802.28 L1320.65,802.29 L1321.12,802.31 L1321.60,802.33 L1322.07,802.35 L1322.54,802.36 L1323.01,802.38 L1323.48,802.40 L1323.96,802.42 L1324.43,802.43 L1324.90,802.45 L1325.37,802.47 L1325.84,802.49 L1326.32,802.50 L1326.79,802.52 L1327.26,802.54 L1327.73,802.55 L1328.20,802.57 L1328.67,802.59 L1329.15,802.60 L1329.62,802.62 L1330.09,802.63 L1330.56,802.65 L1331.03,802.67 L1331.51,802.68 L1331.98,802.70 L1332.45,802.71 L1332.92,802.73 L1333.39,802.75 L1333.87,802.76 L1334.34,802.78 L1334.81,802.79 L1335.28,802.81 L1335.75,802.82 L1336.23,802.84 L1336.70,802.85 L1337.17,802.87 L1337.64,802.88 L1338.11,802.90 L1338.59,802.91 L1339.06,802.93 L1339.53,802.94 L1340.00,802.96 L1340.47,802.97 L1340.95,802.99 L1341.42,803.00 L1341.89,803.01 L1342.36,803.03 L1342.83,803.04 L1343.31,803.06 L1343.78,803.07 L1344.25,803.08 L1344.72,803.10 L1345.19,803.11 L1345.67,803.12 L1346.14,803.14 L1346.61,803.15 L1347.08,803.17 L1347.55,803.18 L1348.03,803.19 L1348.50,803.21 L1348.97,803.22 L1349.44,803.23 L1349.91,803.24 L1350.39,803.26 L1350.86,803.27 L1351.33,803.28 L1351.80,803.30 L1352.27,803.31 L1352.75,803.32 L1353.22,803.33 L1353.69,803.35 L1354.16,803.36 L1354.63,803.37 L1355.11,803.38 L1355.58,803.40 L1356.05,803.41 L1356.52,803.42 L1356.99,803.43 L1357.47,803.44 L1357.94,803.46 L1358.41,803.47 L1358.88,803.48 L1359.35,803.49 L1359.83,803.50 L1360.30,803.51 L1360.77,803.53 L1361.24,803.54 L1361.71,803.55 L1362.19,803.56 L1362.66,803.57 L1363.13,803.58 L1363.60,803.59 L1364.07,803.61 L1364.55,803.62 L1365.02,803.63 L1365.49,803.64 L1365.96,803.65 L1366.43,803.66 L1366.91,803.67 L1367.38,803.68 L1367.85,803.69 L1368.32,803.70 L1368.79,803.71 L1369.26,803.72 L1369.74,803.73 L1370.21,803.74 L1370.68,803.76 L1371.15,803.77 L1371.62,803.78 L1372.10,803.79 L1372.57,803.80 L1373.04,803.81 L1373.51,803.82 L1373.98,803.83 L1374.46,803.84 L1374.93,803.85 L1375.40,803.86 L1375.87,803.87 L1376.34,803.88 L1376.82,803.88 L1377.29,803.89 L1377.76,803.90 L1378.23,803.91 L1378.70,803.92 L1379.18,803.93 L1379.65,803.94 L1380.12,803.95 L1380.59,803.96 L1381.06,803.97 L1381.54,803.98 L1382.01,803.99 L1382.48,804.00 L1382.95,804.01 L1383.42,804.02 L1383.90,804.02 L1384.37,804.03 L1384.84,804.04 L1385.31,804.05 L1385.78,804.06 L1386.26,804.07 L1386.73,804.08 L1387.20,804.09" fill="none" stroke="#2a9fd6" stroke-width="2.3" stroke-linejoin="round"/>
<path d="M821.30,590.70 L821.77,590.76 L822.24,590.82 L822.72,590.88 L823.19,590.94 L823.66,591.00 L824.13,591.06 L824.60,591.12 L825.08,591.18 L825.55,591.24 L826.02,591.30 L826.49,591.36 L826.96,591.43 L827.44,591.49 L827.91,591.56 L828.38,591.62 L828.85,591.69 L829.32,591.76 L829.80,591.82 L830.27,591.89 L830.74,591.96 L831.21,592.03 L831.68,592.10 L832.16,592.17 L832.63,592.24 L833.10,592.31 L833.57,592.39 L834.04,592.46 L834.52,592.53 L834.99,592.61 L835.46,592.69 L835.93,592.76 L836.40,592.84 L836.88,592.92 L837.35,593.00 L837.82,593.08 L838.29,593.16 L838.76,593.24 L839.24,593.32 L839.71,593.40 L840.18,593.48 L840.65,593.57 L841.12,593.65 L841.59,593.74 L842.07,593.83 L842.54,593.91 L843.01,594.00 L843.48,594.09 L843.95,594.18 L844.43,594.27 L844.90,594.36 L845.37,594.46 L845.84,594.55 L846.31,594.64 L846.79,594.74 L847.26,594.84 L847.73,594.93 L848.20,595.03 L848.67,595.13 L849.15,595.23 L849.62,595.33 L850.09,595.43 L850.56,595.53 L851.03,595.64 L851.51,595.74 L851.98,595.85 L852.45,595.95 L852.92,596.06 L853.39,596.17 L853.87,596.28 L854.34,596.39 L854.81,596.50 L855.28,596.61 L855.75,596.73 L856.23,596.84 L856.70,596.96 L857.17,597.07 L857.64,597.19 L858.11,597.31 L858.59,597.43 L859.06,597.55 L859.53,597.67 L860.00,597.79 L860.47,597.92 L860.95,598.04 L861.42,598.17 L861.89,598.30 L862.36,598.42 L862.83,598.55 L863.31,598.68 L863.78,598.82 L864.25,598.95 L864.72,599.08 L865.19,599.22 L865.67,599.36 L866.14,599.49 L866.61,599.63 L867.08,599.77 L867.55,599.91 L868.03,600.06 L868.50,600.20 L868.97,600.35 L869.44,600.49 L869.91,600.64 L870.39,600.79 L870.86,600.94 L871.33,601.09 L871.80,601.24 L872.27,601.40 L872.75,601.55 L873.22,601.71 L873.69,601.87 L874.16,602.03 L874.63,602.19 L875.11,602.35 L875.58,602.51 L876.05,602.68 L876.52,602.84 L876.99,603.01 L877.47,603.18 L877.94,603.35 L878.41,603.52 L878.88,603.69 L879.35,603.87 L879.83,604.04 L880.30,604.22 L880.77,604.40 L881.24,604.58 L881.71,604.76 L882.18,604.94 L882.66,605.12 L883.13,605.31 L883.60,605.50 L884.07,605.68 L884.54,605.87 L885.02,606.07 L885.49,606.26 L885.96,606.45 L886.43,606.65 L886.90,606.85 L887.38,607.04 L887.85,607.24 L888.32,607.45 L888.79,607.65 L889.26,607.85 L889.74,608.06 L890.21,608.27 L890.68,608.48 L891.15,608.69 L891.62,608.90 L892.10,609.11 L892.57,609.33 L893.04,609.55 L893.51,609.77 L893.98,609.99 L894.46,610.21 L894.93,610.43 L895.40,610.66 L895.87,610.88 L896.34,611.11 L896.82,611.34 L897.29,611.57 L897.76,611.81 L898.23,612.04 L898.70,612.28 L899.18,612.51 L899.65,612.75 L900.12,612.99 L900.59,613.24 L901.06,613.48 L901.54,613.73 L902.01,613.97 L902.48,614.22 L902.95,614.47 L903.42,614.72 L903.90,614.98 L904.37,615.23 L904.84,615.49 L905.31,615.75 L905.78,616.01 L906.26,616.27 L906.73,616.54 L907.20,616.80 L907.67,617.07 L908.14,617.34 L908.62,617.61 L909.09,617.88 L909.56,618.15 L910.03,618.42 L910.50,618.70 L910.98,618.98 L911.45,619.26 L911.92,619.54 L912.39,619.82 L912.86,620.11 L913.34,620.39 L913.81,620.68 L914.28,620.97 L914.75,621.26 L915.22,621.55 L915.70,621.85 L916.17,622.14 L916.64,622.44 L917.11,622.74 L917.58,623.04 L918.06,623.34 L918.53,623.64 L919.00,623.95 L919.47,624.25 L919.94,624.56 L920.42,624.87 L920.89,625.18 L921.36,625.49 L921.83,625.81 L922.30,626.12 L922.77,626.44 L923.25,626.76 L923.72,627.08 L924.19,627.40 L924.66,627.72 L925.13,628.04 L925.61,628.37 L926.08,628.70 L926.55,629.02 L927.02,629.35 L927.49,629.68 L927.97,630.02 L928.44,630.35 L928.91,630.68 L929.38,631.02 L929.85,631.36 L930.33,631.70 L930.80,632.04 L931.27,632.38 L931.74,632.72 L932.21,633.06 L932.69,633.41 L933.16,633.76 L933.63,634.10 L934.10,634.45 L934.57,634.80 L935.05,635.15 L935.52,635.50 L935.99,635.86 L936.46,636.21 L936.93,636.57 L937.41,636.92 L937.88,637.28 L938.35,637.64 L938.82,638.00 L939.29,638.36 L939.77,638.72 L940.24,639.08 L940.71,639.45 L941.18,639.81 L941.65,640.18 L942.13,640.54 L942.60,640.91 L943.07,641.28 L943.54,641.65 L944.01,642.02 L944.49,642.39 L944.96,642.76 L945.43,643.13 L945.90,643.50 L946.37,643.88 L946.85,644.25 L947.32,644.62 L947.79,645.00 L948.26,645.38 L948.73,645.75 L949.21,646.13 L949.68,646.51 L950.15,646.89 L950.62,647.26 L951.09,647.64 L951.57,648.02 L952.04,648.40 L952.51,648.78 L952.98,649.16 L953.45,649.55 L953.93,649.93 L954.40,650.31 L954.87,650.69 L955.34,651.07 L955.81,651.46 L956.29,651.84 L956.76,652.22 L957.23,652.61 L957.70,652.99 L958.17,653.37 L958.65,653.76 L959.12,654.14 L959.59,654.53 L960.06,654.91 L960.53,655.29 L961.01,655.68 L961.48,656.06 L961.95,656.44 L962.42,656.83 L962.89,657.21 L963.36,657.60 L963.84,657.98 L964.31,658.36 L964.78,658.74 L965.25,659.13 L965.72,659.51 L966.20,659.89 L966.67,660.27 L967.14,660.66 L967.61,661.04 L968.08,661.42 L968.56,661.80 L969.03,662.18 L969.50,662.56 L969.97,662.93 L970.44,663.31 L970.92,663.69 L971.39,664.07 L971.86,664.44 L972.33,664.82 L972.80,665.20 L973.28,665.57 L973.75,665.95 L974.22,666.32 L974.69,666.69 L975.16,667.06 L975.64,667.43 L976.11,667.80 L976.58,668.17 L977.05,668.54 L977.52,668.91 L978.00,669.28 L978.47,669.64 L978.94,670.01 L979.41,670.37 L979.88,670.74 L980.36,671.10 L980.83,671.46 L981.30,671.82 L981.77,672.18 L982.24,672.54 L982.72,672.89 L983.19,673.25 L983.66,673.60 L984.13,673.96 L984.60,674.31 L985.08,674.66 L985.55,675.01 L986.02,675.36 L986.49,675.71 L986.96,676.05 L987.44,676.40 L987.91,676.74 L988.38,677.08 L988.85,677.43 L989.32,677.77 L989.80,678.10 L990.27,678.44 L990.74,678.78 L991.21,679.11 L991.68,679.44 L992.16,679.77 L992.63,680.10 L993.10,680.43 L993.57,680.76 L994.04,681.08 L994.52,681.41 L994.99,681.73 L995.46,682.05 L995.93,682.37 L996.40,682.69 L996.88,683.01 L997.35,683.32 L997.82,683.63 L998.29,683.94 L998.76,684.25 L999.24,684.56 L999.71,684.87 L1000.18,685.17 L1000.65,685.48 L1001.12,685.78 L1001.60,686.08 L1002.07,686.38 L1002.54,686.67 L1003.01,686.97 L1003.48,687.26 L1003.95,687.55 L1004.43,687.84 L1004.90,688.13 L1005.37,688.42 L1005.84,688.70 L1006.31,688.99 L1006.79,689.27 L1007.26,689.55 L1007.73,689.82 L1008.20,690.10 L1008.67,690.37 L1009.15,690.65 L1009.62,690.92 L1010.09,691.19 L1010.56,691.45 L1011.03,691.72 L1011.51,691.98 L1011.98,692.24 L1012.45,692.50 L1012.92,692.76 L1013.39,693.02 L1013.87,693.27 L1014.34,693.52 L1014.81,693.78 L1015.28,694.02 L1015.75,694.27 L1016.23,694.52 L1016.70,694.76 L1017.17,695.00 L1017.64,695.24 L1018.11,695.48 L1018.59,695.72 L1019.06,695.95 L1019.53,696.19 L1020.00,696.42 L1020.47,696.65 L1020.95,696.88 L1021.42,697.10 L1021.89,697.33 L1022.36,697.55 L1022.83,697.77 L1023.31,697.99 L1023.78,698.21 L1024.25,698.42 L1024.72,698.64 L1025.19,698.85 L1025.67,699.06 L1026.14,699.27 L1026.61,699.47 L1027.08,699.68 L1027.55,699.88 L1028.03,700.08 L1028.50,700.28 L1028.97,700.48 L1029.44,700.68 L1029.91,700.87 L1030.39,701.07 L1030.86,701.26 L1031.33,701.45 L1031.80,701.64 L1032.27,701.82 L1032.75,702.01 L1033.22,702.19 L1033.69,702.37 L1034.16,702.55 L1034.63,702.73 L1035.11,702.91 L1035.58,703.08 L1036.05,703.26 L1036.52,703.43 L1036.99,703.60 L1037.47,703.77 L1037.94,703.93 L1038.41,704.10 L1038.88,704.26 L1039.35,704.43 L1039.83,704.59 L1040.30,704.75 L1040.77,704.91 L1041.24,705.06 L1041.71,705.22 L1042.19,705.37 L1042.66,705.52 L1043.13,705.67 L1043.60,705.82 L1044.07,705.97 L1044.54,706.12 L1045.02,706.26 L1045.49,706.40 L1045.96,706.54 L1046.43,706.69 L1046.90,706.82 L1047.38,706.96 L1047.85,707.10 L1048.32,707.23 L1048.79,707.37 L1049.26,707.50 L1049.74,707.63 L1050.21,707.76 L1050.68,707.89 L1051.15,708.01 L1051.62,708.14 L1052.10,708.26 L1052.57,708.39 L1053.04,708.51 L1053.51,708.63 L1053.98,708.75 L1054.46,708.87 L1054.93,708.98 L1055.40,709.10 L1055.87,709.21 L1056.34,709.32 L1056.82,709.44 L1057.29,709.55 L1057.76,709.66 L1058.23,709.76 L1058.70,709.87 L1059.18,709.98 L1059.65,710.08 L1060.12,710.19 L1060.59,710.29 L1061.06,710.39 L1061.54,710.49 L1062.01,710.59 L1062.48,710.69 L1062.95,710.78 L1063.42,710.88 L1063.90,710.98 L1064.37,711.07 L1064.84,711.16 L1065.31,711.25 L1065.78,711.34 L1066.26,711.43 L1066.73,711.52 L1067.20,711.61 L1067.67,711.70 L1068.14,711.78 L1068.62,711.87 L1069.09,711.95 L1069.56,712.03 L1070.03,712.12 L1070.50,712.20 L1070.98,712.28 L1071.45,712.36 L1071.92,712.43 L1072.39,712.51 L1072.86,712.59 L1073.34,712.66 L1073.81,712.74 L1074.28,712.81 L1074.75,712.89 L1075.22,712.96 L1075.70,713.03 L1076.17,713.10 L1076.64,713.17 L1077.11,713.24 L1077.58,713.31 L1078.06,713.37 L1078.53,713.44 L1079.00,713.51 L1079.47,713.57 L1079.94,713.63 L1080.42,713.70 L1080.89,713.76 L1081.36,713.82 L1081.83,713.88 L1082.30,713.94 L1082.78,714.00 L1083.25,714.06 L1083.72,714.12 L1084.19,714.18 L1084.66,714.24 L1085.13,714.29 L1085.61,714.35 L1086.08,714.40 L1086.55,714.46 L1087.02,714.51 L1087.49,714.56 L1087.97,714.61 L1088.44,714.67 L1088.91,714.72 L1089.38,714.77 L1089.85,714.82 L1090.33,714.87 L1090.80,714.92 L1091.27,714.96 L1091.74,715.01 L1092.21,715.06 L1092.69,715.10 L1093.16,715.15 L1093.63,715.19 L1094.10,715.24 L1094.57,715.28 L1095.05,715.33 L1095.52,715.37 L1095.99,715.41 L1096.46,715.45 L1096.93,715.49 L1097.41,715.54 L1097.88,715.58 L1098.35,715.62 L1098.82,715.66 L1099.29,715.69 L1099.77,715.73 L1100.24,715.77 L1100.71,715.81 L1101.18,715.84 L1101.65,715.88 L1102.13,715.92 L1102.60,715.95 L1103.07,715.99 L1103.54,716.02 L1104.01,716.06 L1104.49,716.09 L1104.96,716.12 L1105.43,716.16 L1105.90,716.19 L1106.37,716.22 L1106.85,716.25 L1107.32,716.28 L1107.79,716.32 L1108.26,716.35 L1108.73,716.38 L1109.21,716.41 L1109.68,716.44 L1110.15,716.46 L1110.62,716.49 L1111.09,716.52 L1111.57,716.55 L1112.04,716.58 L1112.51,716.60 L1112.98,716.63 L1113.45,716.66 L1113.93,716.68 L1114.40,716.71 L1114.87,716.73 L1115.34,716.76 L1115.81,716.78 L1116.29,716.81 L1116.76,716.83 L1117.23,716.86 L1117.70,716.88 L1118.17,716.90 L1118.65,716.93 L1119.12,716.95 L1119.59,716.97 L1120.06,716.99 L1120.53,717.02 L1121.01,717.04 L1121.48,717.06 L1121.95,717.08 L1122.42,717.10 L1122.89,717.12 L1123.37,717.14 L1123.84,717.16 L1124.31,717.18 L1124.78,717.20 L1125.25,717.22 L1125.72,717.24 L1126.20,717.26 L1126.67,717.28 L1127.14,717.29 L1127.61,717.31 L1128.08,717.33 L1128.56,717.35 L1129.03,717.36 L1129.50,717.38 L1129.97,717.40 L1130.44,717.42 L1130.92,717.43 L1131.39,717.45 L1131.86,717.46 L1132.33,717.48 L1132.80,717.50 L1133.28,717.51 L1133.75,717.53 L1134.22,717.54 L1134.69,717.56 L1135.16,717.57 L1135.64,717.58 L1136.11,717.60 L1136.58,717.61 L1137.05,717.63 L1137.52,717.64 L1138.00,717.65 L1138.47,717.67 L1138.94,717.68 L1139.41,717.69 L1139.88,717.70 L1140.36,717.72 L1140.83,717.73 L1141.30,717.74 L1141.77,717.75 L1142.24,717.77 L1142.72,717.78 L1143.19,717.79 L1143.66,717.80 L1144.13,717.81 L1144.60,717.82 L1145.08,717.83 L1145.55,717.85 L1146.02,717.86 L1146.49,717.87 L1146.96,717.88 L1147.44,717.89 L1147.91,717.90 L1148.38,717.91 L1148.85,717.92 L1149.32,717.93 L1149.80,717.94 L1150.27,717.95 L1150.74,717.96 L1151.21,717.96 L1151.68,717.97 L1152.16,717.98 L1152.63,717.99 L1153.10,718.00 L1153.57,718.01 L1154.04,718.02 L1154.52,718.03 L1154.99,718.03 L1155.46,718.04 L1155.93,718.05 L1156.40,718.06 L1156.88,718.07 L1157.35,718.07 L1157.82,718.08 L1158.29,718.09 L1158.76,718.10 L1159.24,718.10 L1159.71,718.11 L1160.18,718.12 L1160.65,718.13 L1161.12,718.13 L1161.60,718.14 L1162.07,718.15 L1162.54,718.15 L1163.01,718.16 L1163.48,718.17 L1163.96,718.17 L1164.43,718.18 L1164.90,718.19 L1165.37,718.19 L1165.84,718.20 L1166.31,718.20 L1166.79,718.21 L1167.26,718.22 L1167.73,718.22 L1168.20,718.23 L1168.67,718.23 L1169.15,718.24 L1169.62,718.24 L1170.09,718.25 L1170.56,718.25 L1171.03,718.26 L1171.51,718.26 L1171.98,718.27 L1172.45,718.27 L1172.92,718.28 L1173.39,718.28 L1173.87,718.29 L1174.34,718.29 L1174.81,718.30 L1175.28,718.30 L1175.75,718.31 L1176.23,718.31 L1176.70,718.32 L1177.17,718.32 L1177.64,718.33 L1178.11,718.33 L1178.59,718.33 L1179.06,718.34 L1179.53,718.34 L1180.00,718.35 L1180.47,718.35 L1180.95,718.35 L1181.42,718.36 L1181.89,718.36 L1182.36,718.37 L1182.83,718.37 L1183.31,718.37 L1183.78,718.38 L1184.25,718.38 L1184.72,718.38 L1185.19,718.39 L1185.67,718.39 L1186.14,718.39 L1186.61,718.40 L1187.08,718.40 L1187.55,718.40 L1188.03,718.41 L1188.50,718.41 L1188.97,718.41 L1189.44,718.42 L1189.91,718.42 L1190.39,718.42 L1190.86,718.43 L1191.33,718.43 L1191.80,718.43 L1192.27,718.43 L1192.75,718.44 L1193.22,718.44 L1193.69,718.44 L1194.16,718.45 L1194.63,718.45 L1195.11,718.45 L1195.58,718.45 L1196.05,718.46 L1196.52,718.46 L1196.99,718.46 L1197.47,718.46 L1197.94,718.47 L1198.41,718.47 L1198.88,718.47 L1199.35,718.47 L1199.83,718.48 L1200.30,718.48 L1200.77,718.48 L1201.24,718.48 L1201.71,718.48 L1202.19,718.49 L1202.66,718.49 L1203.13,718.49 L1203.60,718.49 L1204.07,718.49 L1204.55,718.50 L1205.02,718.50 L1205.49,718.50 L1205.96,718.50 L1206.43,718.50 L1206.90,718.51 L1207.38,718.51 L1207.85,718.51 L1208.32,718.51 L1208.79,718.51 L1209.26,718.52 L1209.74,718.52 L1210.21,718.52 L1210.68,718.52 L1211.15,718.52 L1211.62,718.52 L1212.10,718.53 L1212.57,718.53 L1213.04,718.53 L1213.51,718.53 L1213.98,718.53 L1214.46,718.53 L1214.93,718.53 L1215.40,718.54 L1215.87,718.54 L1216.34,718.54 L1216.82,718.54 L1217.29,718.54 L1217.76,718.54 L1218.23,718.54 L1218.70,718.55 L1219.18,718.55 L1219.65,718.55 L1220.12,718.55 L1220.59,718.55 L1221.06,718.55 L1221.54,718.55 L1222.01,718.55 L1222.48,718.56 L1222.95,718.56 L1223.42,718.56 L1223.90,718.56 L1224.37,718.56 L1224.84,718.56 L1225.31,718.56 L1225.78,718.56 L1226.26,718.56 L1226.73,718.57 L1227.20,718.57 L1227.67,718.57 L1228.14,718.57 L1228.62,718.57 L1229.09,718.57 L1229.56,718.57 L1230.03,718.57 L1230.50,718.57 L1230.98,718.57 L1231.45,718.58 L1231.92,718.58 L1232.39,718.58 L1232.86,718.58 L1233.34,718.58 L1233.81,718.58 L1234.28,718.58 L1234.75,718.58 L1235.22,718.58 L1235.70,718.58 L1236.17,718.58 L1236.64,718.58 L1237.11,718.59 L1237.58,718.59 L1238.06,718.59 L1238.53,718.59 L1239.00,718.59 L1239.47,718.59 L1239.94,718.59 L1240.42,718.59 L1240.89,718.59 L1241.36,718.59 L1241.83,718.59 L1242.30,718.59 L1242.78,718.59 L1243.25,718.59 L1243.72,718.59 L1244.19,718.60 L1244.66,718.60 L1245.14,718.60 L1245.61,718.60 L1246.08,718.60 L1246.55,718.60 L1247.02,718.60 L1247.49,718.60 L1247.97,718.60 L1248.44,718.60 L1248.91,718.60 L1249.38,718.60 L1249.85,718.60 L1250.33,718.60 L1250.80,718.60 L1251.27,718.60 L1251.74,718.60 L1252.21,718.60 L1252.69,718.61 L1253.16,718.61 L1253.63,718.61 L1254.10,718.61 L1254.57,718.61 L1255.05,718.61 L1255.52,718.61 L1255.99,718.61 L1256.46,718.61 L1256.93,718.61 L1257.41,718.61 L1257.88,718.61 L1258.35,718.61 L1258.82,718.61 L1259.29,718.61 L1259.77,718.61 L1260.24,718.61 L1260.71,718.61 L1261.18,718.61 L1261.65,718.61 L1262.13,718.61 L1262.60,718.61 L1263.07,718.61 L1263.54,718.62 L1264.01,718.62 L1264.49,718.62 L1264.96,718.62 L1265.43,718.62 L1265.90,718.62 L1266.37,718.62 L1266.85,718.62 L1267.32,718.62 L1267.79,718.62 L1268.26,718.62 L1268.73,718.62 L1269.21,718.62 L1269.68,718.62 L1270.15,718.62 L1270.62,718.62 L1271.09,718.62 L1271.57,718.62 L1272.04,718.62 L1272.51,718.62 L1272.98,718.62 L1273.45,718.62 L1273.93,718.62 L1274.40,718.62 L1274.87,718.62 L1275.34,718.62 L1275.81,718.62 L1276.29,718.62 L1276.76,718.62 L1277.23,718.62 L1277.70,718.62 L1278.17,718.62 L1278.65,718.62 L1279.12,718.62 L1279.59,718.62 L1280.06,718.62 L1280.53,718.63 L1281.01,718.63 L1281.48,718.63 L1281.95,718.63 L1282.42,718.63 L1282.89,718.63 L1283.37,718.63 L1283.84,718.63 L1284.31,718.63 L1284.78,718.63 L1285.25,718.63 L1285.73,718.63 L1286.20,718.63 L1286.67,718.63 L1287.14,718.63 L1287.61,718.63 L1288.08,718.63 L1288.56,718.63 L1289.03,718.63 L1289.50,718.63 L1289.97,718.63 L1290.44,718.63 L1290.92,718.63 L1291.39,718.63 L1291.86,718.63 L1292.33,718.63 L1292.80,718.63 L1293.28,718.63 L1293.75,718.63 L1294.22,718.63 L1294.69,718.63 L1295.16,718.63 L1295.64,718.63 L1296.11,718.63 L1296.58,718.63 L1297.05,718.63 L1297.52,718.63 L1298.00,718.63 L1298.47,718.63 L1298.94,718.63 L1299.41,718.63 L1299.88,718.63 L1300.36,718.63 L1300.83,718.63 L1301.30,718.63 L1301.77,718.63 L1302.24,718.63 L1302.72,718.63 L1303.19,718.63 L1303.66,718.63 L1304.13,718.63 L1304.60,718.63 L1305.08,718.63 L1305.55,718.63 L1306.02,718.63 L1306.49,718.63 L1306.96,718.63 L1307.44,718.63 L1307.91,718.63 L1308.38,718.63 L1308.85,718.63 L1309.32,718.63 L1309.80,718.63 L1310.27,718.63 L1310.74,718.63 L1311.21,718.63 L1311.68,718.63 L1312.16,718.63 L1312.63,718.63 L1313.10,718.63 L1313.57,718.63 L1314.04,718.63 L1314.52,718.63 L1314.99,718.64 L1315.46,718.64 L1315.93,718.64 L1316.40,718.64 L1316.88,718.64 L1317.35,718.64 L1317.82,718.64 L1318.29,718.64 L1318.76,718.64 L1319.24,718.64 L1319.71,718.64 L1320.18,718.64 L1320.65,718.64 L1321.12,718.64 L1321.60,718.64 L1322.07,718.64 L1322.54,718.64 L1323.01,718.64 L1323.48,718.64 L1323.96,718.64 L1324.43,718.64 L1324.90,718.64 L1325.37,718.64 L1325.84,718.64 L1326.32,718.64 L1326.79,718.64 L1327.26,718.64 L1327.73,718.64 L1328.20,718.64 L1328.67,718.64 L1329.15,718.64 L1329.62,718.64 L1330.09,718.64 L1330.56,718.64 L1331.03,718.64 L1331.51,718.64 L1331.98,718.64 L1332.45,718.64 L1332.92,718.64 L1333.39,718.64 L1333.87,718.64 L1334.34,718.64 L1334.81,718.64 L1335.28,718.64 L1335.75,718.64 L1336.23,718.64 L1336.70,718.64 L1337.17,718.64 L1337.64,718.64 L1338.11,718.64 L1338.59,718.64 L1339.06,718.64 L1339.53,718.64 L1340.00,718.64 L1340.47,718.64 L1340.95,718.64 L1341.42,718.64 L1341.89,718.64 L1342.36,718.64 L1342.83,718.64 L1343.31,718.64 L1343.78,718.64 L1344.25,718.64 L1344.72,718.64 L1345.19,718.64 L1345.67,718.64 L1346.14,718.64 L1346.61,718.64 L1347.08,718.64 L1347.55,718.64 L1348.03,718.64 L1348.50,718.64 L1348.97,718.64 L1349.44,718.64 L1349.91,718.64 L1350.39,718.64 L1350.86,718.64 L1351.33,718.64 L1351.80,718.64 L1352.27,718.64 L1352.75,718.64 L1353.22,718.64 L1353.69,718.64 L1354.16,718.64 L1354.63,718.64 L1355.11,718.64 L1355.58,718.64 L1356.05,718.64 L1356.52,718.64 L1356.99,718.64 L1357.47,718.64 L1357.94,718.64 L1358.41,718.64 L1358.88,718.64 L1359.35,718.64 L1359.83,718.64 L1360.30,718.64 L1360.77,718.64 L1361.24,718.64 L1361.71,718.64 L1362.19,718.64 L1362.66,718.64 L1363.13,718.64 L1363.60,718.64 L1364.07,718.64 L1364.55,718.64 L1365.02,718.64 L1365.49,718.64 L1365.96,718.64 L1366.43,718.64 L1366.91,718.64 L1367.38,718.64 L1367.85,718.64 L1368.32,718.64 L1368.79,718.64 L1369.26,718.64 L1369.74,718.64 L1370.21,718.64 L1370.68,718.64 L1371.15,718.64 L1371.62,718.64 L1372.10,718.64 L1372.57,718.64 L1373.04,718.64 L1373.51,718.64 L1373.98,718.64 L1374.46,718.64 L1374.93,718.64 L1375.40,718.64 L1375.87,718.64 L1376.34,718.64 L1376.82,718.64 L1377.29,718.64 L1377.76,718.64 L1378.23,718.64 L1378.70,718.64 L1379.18,718.64 L1379.65,718.64 L1380.12,718.64 L1380.59,718.64 L1381.06,718.64 L1381.54,718.64 L1382.01,718.64 L1382.48,718.64 L1382.95,718.64 L1383.42,718.64 L1383.90,718.64 L1384.37,718.64 L1384.84,718.64 L1385.31,718.64 L1385.78,718.64 L1386.26,718.64 L1386.73,718.64 L1387.20,718.64" fill="none" stroke="#4db84e" stroke-width="2.3" stroke-linejoin="round"/>
<path d="M821.3,1031.0 L821.3,585.2 L1387.2,585.2 L1387.2,1031.0" fill="none" stroke="#111" stroke-width="2.2" stroke-linejoin="miter" stroke-linecap="square"/>
<line x1="821.3" y1="941.8" x2="836.3" y2="941.8" stroke="#111" stroke-width="2"/>
<line x1="821.3" y1="852.7" x2="836.3" y2="852.7" stroke="#111" stroke-width="2"/>
<line x1="821.3" y1="763.5" x2="836.3" y2="763.5" stroke="#111" stroke-width="2"/>
<line x1="821.3" y1="674.4" x2="836.3" y2="674.4" stroke="#111" stroke-width="2"/>
<line x1="1009.9" y1="1031.0" x2="1009.9" y2="1017.0" stroke="#111" stroke-width="2"/>
<line x1="1198.6" y1="1031.0" x2="1198.6" y2="1017.0" stroke="#111" stroke-width="2"/>
<text x="810.8" y="1044.4" font-size="35.5" text-anchor="end" fill="#111">0.0</text>
<text x="810.8" y="955.2" font-size="35.5" text-anchor="end" fill="#111">0.2</text>
<text x="810.8" y="866.1" font-size="35.5" text-anchor="end" fill="#111">0.4</text>
<text x="810.8" y="776.9" font-size="35.5" text-anchor="end" fill="#111">0.6</text>
<text x="810.8" y="687.8" font-size="35.5" text-anchor="end" fill="#111">0.8</text>
<text x="810.8" y="598.6" font-size="35.5" text-anchor="end" fill="#111">1.0</text>
<text x="802.7" y="1080.5" font-size="35.5" fill="#111">10<tspan dy="-13.8" font-size="30">-2</tspan></text>
<text x="993.4" y="1080.5" font-size="35.5" fill="#111">10<tspan dy="-13.8" font-size="30">0</tspan></text>
<text x="1179.6" y="1080.5" font-size="35.5" fill="#111">10<tspan dy="-13.8" font-size="30">2</tspan></text>
<text x="1370.4" y="1080.5" font-size="35.5" fill="#111">10<tspan dy="-13.8" font-size="30">4</tspan></text>
<text x="1062.6" y="1115.3" font-size="36" textLength="87.4" lengthAdjust="spacingAndGlyphs" fill="#111">time t</text>
<text transform="translate(742.5 794.5) rotate(-90)" font-size="30" textLength="153" lengthAdjust="spacingAndGlyphs" text-anchor="middle" fill="#111">F(k,t) / S(k)</text>
<text x="1290.6" y="704.9" font-size="34" textLength="69.8" lengthAdjust="spacingAndGlyphs" fill="#4db84e">glass</text>
<text x="1287.8" y="786.4" font-size="34" textLength="16.4" lengthAdjust="spacingAndGlyphs" fill="#2a9fd6">T</text>
<text x="1307.5" y="789.6" font-size="34" textLength="21.5" lengthAdjust="spacingAndGlyphs" fill="#2a9fd6">=</text>
<text x="1333.5" y="786.4" font-size="34" textLength="17" lengthAdjust="spacingAndGlyphs" fill="#2a9fd6">T</text>
<text x="1352.5" y="793.5" font-size="34" textLength="16" lengthAdjust="spacingAndGlyphs" fill="#2a9fd6">g</text>
<text x="1148" y="898.7" font-size="34" textLength="178" lengthAdjust="spacingAndGlyphs" fill="#4a5fb0">supercooled</text>
<text x="1196.9" y="941.8" font-size="34" textLength="78.9" lengthAdjust="spacingAndGlyphs" fill="#4a5fb0">liquid</text>
<text x="941.5" y="969" font-size="34" textLength="77.5" lengthAdjust="spacingAndGlyphs" fill="#9c3fa6">liquid</text>
</svg>
</body></html>
